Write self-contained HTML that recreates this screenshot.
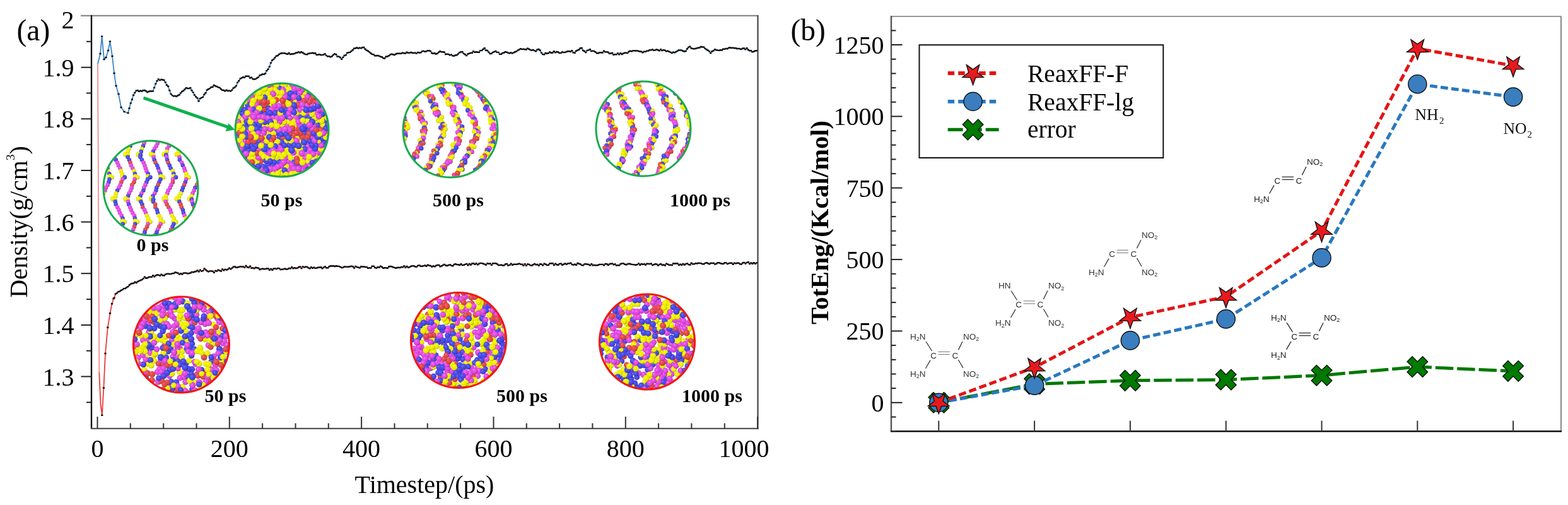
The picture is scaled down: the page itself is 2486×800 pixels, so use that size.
<!DOCTYPE html><html><head><meta charset="utf-8"><title>Density and TotEng</title>
<style>html,body{margin:0;padding:0;background:#fff;overflow:hidden}svg{display:block}</style></head><body>
<svg width="2486" height="800" viewBox="0 0 2486 800">
<rect width="100%" height="100%" fill="#fff"/>
<defs>
<radialGradient id="gy" cx="0.4" cy="0.38" r="0.62"><stop offset="0" stop-color="#ffff30"/><stop offset="0.45" stop-color="#ecec00"/><stop offset="0.8" stop-color="#ecec00"/><stop offset="1" stop-color="#9a9400"/></radialGradient>
<radialGradient id="gm" cx="0.4" cy="0.38" r="0.62"><stop offset="0" stop-color="#f878f8"/><stop offset="0.45" stop-color="#e048e0"/><stop offset="0.8" stop-color="#e048e0"/><stop offset="1" stop-color="#8a2488"/></radialGradient>
<radialGradient id="gb" cx="0.4" cy="0.38" r="0.62"><stop offset="0" stop-color="#7070ff"/><stop offset="0.45" stop-color="#4848e4"/><stop offset="0.8" stop-color="#4848e4"/><stop offset="1" stop-color="#24248a"/></radialGradient>
<radialGradient id="gr" cx="0.4" cy="0.38" r="0.62"><stop offset="0" stop-color="#f87070"/><stop offset="0.45" stop-color="#e04848"/><stop offset="0.8" stop-color="#e04848"/><stop offset="1" stop-color="#8a2424"/></radialGradient>
<clipPath id="kc0"><circle cx="239" cy="298" r="75"/></clipPath>
<clipPath id="kc1"><circle cx="447" cy="206" r="74"/></clipPath>
<clipPath id="kc2"><circle cx="714" cy="206" r="75"/></clipPath>
<clipPath id="kc3"><circle cx="1020" cy="204" r="75"/></clipPath>
<clipPath id="kc4"><circle cx="287.4" cy="546" r="76"/></clipPath>
<clipPath id="kc5"><circle cx="727" cy="539" r="75.5"/></clipPath>
<clipPath id="kc6"><circle cx="1026" cy="541.5" r="75.5"/></clipPath>
</defs>
<g>
<g stroke-linecap="butt">
<line x1="128" y1="24.8" x2="1202" y2="24.8" stroke="#8a8a8a" stroke-width="2.2"/>
<line x1="145" y1="24" x2="145" y2="679.5" stroke="#111" stroke-width="2.4"/>
<line x1="144" y1="678.8" x2="1202.5" y2="678.8" stroke="#555" stroke-width="2.2"/>
<line x1="1201.5" y1="24" x2="1201.5" y2="679.5" stroke="#444" stroke-width="2.2"/>
<line x1="137" y1="637.4" x2="145" y2="637.4" stroke="#222" stroke-width="2"/>
<line x1="128.5" y1="596.5" x2="145" y2="596.5" stroke="#222" stroke-width="2"/>
<line x1="137" y1="555.7" x2="145" y2="555.7" stroke="#222" stroke-width="2"/>
<line x1="128.5" y1="514.9" x2="145" y2="514.9" stroke="#222" stroke-width="2"/>
<line x1="137" y1="474.1" x2="145" y2="474.1" stroke="#222" stroke-width="2"/>
<line x1="128.5" y1="433.2" x2="145" y2="433.2" stroke="#222" stroke-width="2"/>
<line x1="137" y1="392.4" x2="145" y2="392.4" stroke="#222" stroke-width="2"/>
<line x1="128.5" y1="351.6" x2="145" y2="351.6" stroke="#222" stroke-width="2"/>
<line x1="137" y1="310.8" x2="145" y2="310.8" stroke="#222" stroke-width="2"/>
<line x1="128.5" y1="270" x2="145" y2="270" stroke="#222" stroke-width="2"/>
<line x1="137" y1="229.1" x2="145" y2="229.1" stroke="#222" stroke-width="2"/>
<line x1="128.5" y1="188.3" x2="145" y2="188.3" stroke="#222" stroke-width="2"/>
<line x1="137" y1="147.5" x2="145" y2="147.5" stroke="#222" stroke-width="2"/>
<line x1="128.5" y1="106.7" x2="145" y2="106.7" stroke="#222" stroke-width="2"/>
<line x1="137" y1="65.8" x2="145" y2="65.8" stroke="#222" stroke-width="2"/>
<line x1="154.5" y1="660" x2="154.5" y2="679" stroke="#333" stroke-width="2"/>
<line x1="206.8" y1="670.5" x2="206.8" y2="679" stroke="#333" stroke-width="2"/>
<line x1="259.2" y1="670.5" x2="259.2" y2="679" stroke="#333" stroke-width="2"/>
<line x1="311.5" y1="670.5" x2="311.5" y2="679" stroke="#333" stroke-width="2"/>
<line x1="363.8" y1="660" x2="363.8" y2="679" stroke="#333" stroke-width="2"/>
<line x1="416.1" y1="670.5" x2="416.1" y2="679" stroke="#333" stroke-width="2"/>
<line x1="468.5" y1="670.5" x2="468.5" y2="679" stroke="#333" stroke-width="2"/>
<line x1="520.8" y1="670.5" x2="520.8" y2="679" stroke="#333" stroke-width="2"/>
<line x1="573.1" y1="660" x2="573.1" y2="679" stroke="#333" stroke-width="2"/>
<line x1="625.5" y1="670.5" x2="625.5" y2="679" stroke="#333" stroke-width="2"/>
<line x1="677.8" y1="670.5" x2="677.8" y2="679" stroke="#333" stroke-width="2"/>
<line x1="730.1" y1="670.5" x2="730.1" y2="679" stroke="#333" stroke-width="2"/>
<line x1="782.5" y1="660" x2="782.5" y2="679" stroke="#333" stroke-width="2"/>
<line x1="834.8" y1="670.5" x2="834.8" y2="679" stroke="#333" stroke-width="2"/>
<line x1="887.1" y1="670.5" x2="887.1" y2="679" stroke="#333" stroke-width="2"/>
<line x1="939.4" y1="670.5" x2="939.4" y2="679" stroke="#333" stroke-width="2"/>
<line x1="991.8" y1="660" x2="991.8" y2="679" stroke="#333" stroke-width="2"/>
<line x1="1044.1" y1="670.5" x2="1044.1" y2="679" stroke="#333" stroke-width="2"/>
<line x1="1096.4" y1="670.5" x2="1096.4" y2="679" stroke="#333" stroke-width="2"/>
<line x1="1148.8" y1="670.5" x2="1148.8" y2="679" stroke="#333" stroke-width="2"/>
<line x1="1201.1" y1="660" x2="1201.1" y2="679" stroke="#333" stroke-width="2"/>
</g>
<g font-family="Liberation Serif, Times New Roman, serif" font-size="40" fill="#000" text-anchor="end">
<text x="117.5" y="610.5">1.3</text>
<text x="117.5" y="528.9">1.4</text>
<text x="117.5" y="447.2">1.5</text>
<text x="117.5" y="365.6">1.6</text>
<text x="117.5" y="284">1.7</text>
<text x="117.5" y="202.3">1.8</text>
<text x="117.5" y="120.7">1.9</text>
<text x="117.5" y="45">2</text>
</g>
<g font-family="Liberation Serif, Times New Roman, serif" font-size="40" fill="#000" text-anchor="middle">
<text x="154.5" y="724">0</text>
<text x="363.8" y="724">200</text>
<text x="573.1" y="724">400</text>
<text x="782.5" y="724">600</text>
<text x="991.8" y="724">800</text>
<text x="1179.5" y="724">1000</text>
<text x="673" y="781.3">Timestep/(ps)</text>
<text transform="translate(43,351.5) rotate(-90)">Density(g/cm<tspan font-size="19" dy="-20">3</tspan><tspan dy="20">)</tspan></text>
</g>
<text x="26.5" y="64" font-family="Liberation Serif, Times New Roman, serif" font-size="47.5">(a)</text>
<polyline points="155,101 159,85 161.6,57.6 165,94 168,91 171.6,80 174.4,65.6 178,89 181,116 184,136 188,149 192,170 197,177 203,179 205,171.5 207.2,163.4 209.4,157.5 211.6,150.8 213.8,146.9 216,143.8 218.2,143.3 220.4,144.8 222.6,143.7 224.8,144.5 227,143.3 229.2,143 231.4,144.3 233.6,146 235.8,145 238,144.4 240.2,144.5 242.4,144.4 244.6,138.9 246.8,132.6 249,128.2 251.2,125.4 253.4,127.1 255.6,126 257.8,126.3 260,127 262.2,130.4 264.4,134.7 266.6,136.7 268.8,143.2 271,148.9 273.2,151.1 275.4,152.4 277.6,152 279.8,152.8 282,151.2 284.2,150.3 286.4,147.4 288.6,145 290.8,143.8 293,141.5 295.2,139.2 297.4,140 299.6,140.1 301.8,139.3 304,143.2 306.2,146.4 308.4,150.5 310.6,153.3 312.8,155.3 315,160.2 317.2,156.1 319.4,154.9 321.6,153.9 323.8,149.8 326,147.3 328.2,142.6 330.4,141.2 332.6,140.1 334.8,138.3 337,137.8 339.2,135 341.4,136.2 343.6,137 345.8,138.1 348,138.9 350.2,141 352.4,142.8 354.6,143 356.8,144.3 359,142.6 361.2,144 363.4,143.6 365.6,144.3 367.8,142.6 370,139.6 372.2,138.3 374.4,136 376.6,130.6 378.8,128 381,124.6 383.2,123.4 385.4,122.2 387.6,122.9 389.8,120.7 392,120.7 394.2,120.8 396.4,123.5 398.6,122.8 400.8,125.1 403,125.5 405.2,125.1 407.4,123.6 409.6,122.4 411.8,119.5 414,118.8 416.2,117.5 418.4,117.8 420.6,116.5 422.8,112.1 425,109.7 427.2,105.6 429.4,99.6 431.6,95.5 433.8,93.9 436,91.2 438.2,88.7 440.4,88 442.6,86 444.8,84.7 447,84.3 449.2,84.1 451.4,84.3 453.6,85.1 455.8,85.8 458,84 460.2,86 462.4,85.5 464.6,85.5 466.8,85 469,83.7 471.2,83.5 473.4,82.4 475.6,83.5 477.8,82.3 480,83.5 482.2,85 484.4,86.1 486.6,86.2 488.8,85 491,84.4 493.2,84.4 495.4,83.8 497.6,84.5 499.8,84.2 502,86.9 504.2,86.8 506.4,86.1 508.6,87 510.8,87.1 513,86.5 515.2,85.4 517.4,87.9 519.6,89.4 521.8,89.1 524,90.2 526.2,89.2 528.4,87 530.6,85.4 532.8,86.3 535,89.5 537.2,89.6 539.4,91 541.6,93.9 543.8,90.9 546,88 548.2,87.2 550.4,83.9 552.6,83.3 554.8,82.9 557,81.1 559.2,79.2 561.4,76.7 563.6,76.5 565.8,75.5 568,76.6 570.2,75.8 572.4,76.4 574.6,75.3 576.8,75 579,77.8 581.2,79.7 583.4,80.7 585.6,82.4 587.8,84.3 590,85.9 592.2,86.4 594.4,88.2 596.6,88.3 598.8,88 601,88.6 603.2,89.8 605.4,90.3 607.6,92 609.8,92.5 612,89.7 614.2,89.5 616.4,88.2 618.6,86.7 620.8,85.8 623,86.3 625.2,87 627.4,85.8 629.6,84.7 631.8,84.7 634,84.8 636.2,84.7 638.4,83.7 640.6,84.2 642.8,84.6 645,82.7 647.2,83.8 649.4,83.6 651.6,83 653.8,83.8 656,84 658.2,83.6 660.4,84.6 662.6,82.9 664.8,83.5 667,83.4 669.2,81.4 671.4,80.9 673.6,81.8 675.8,81.4 678,80.2 680.2,80.3 682.4,80.9 684.6,84 686.8,84.8 689,84.2 691.2,85.5 693.4,84.8 695.6,82.8 697.8,81.1 700,82.4 702.2,82.2 704.4,82.8 706.6,86 708.8,85.7 711,85.9 713.2,87.4 715.4,86.6 717.6,88.3 719.8,88.6 722,87.5 724.2,87.2 726.4,85.4 728.6,83.2 730.8,82.2 733,82.3 735.2,84.9 737.4,86.3 739.6,88.1 741.8,85.5 744,84.7 746.2,83.9 748.4,83.7 750.6,81.3 752.8,82.9 755,82.2 757.2,82.8 759.4,82.7 761.6,80.1 763.8,80 766,78 768.2,76.3 770.4,79.8 772.6,80 774.8,82.6 777,85.1 779.2,84.8 781.4,82.9 783.6,82.1 785.8,80.9 788,82.9 790.2,82.9 792.4,85.9 794.6,85.8 796.8,84.1 799,83.5 801.2,82.2 803.4,82.7 805.6,83.6 807.8,84.4 810,83.5 812.2,84.4 814.4,83.4 816.6,82.2 818.8,81.4 821,79.6 823.2,78.6 825.4,77.2 827.6,78.1 829.8,77.6 832,78.2 834.2,78.5 836.4,76.8 838.6,77.7 840.8,78.9 843,79.7 845.2,79 847.4,80.1 849.6,81.2 851.8,78.7 854,78 856.2,79.8 858.4,83.6 860.6,86.1 862.8,86.4 865,84 867.2,84.9 869.4,84.2 871.6,82.4 873.8,83.8 876,83.5 878.2,81.1 880.4,83.2 882.6,82 884.8,82.5 887,84 889.2,83.9 891.4,82.4 893.6,83.1 895.8,82.9 898,82 900.2,81.3 902.4,81.2 904.6,81.8 906.8,80.3 909,83.2 911.2,83.7 913.4,80.8 915.6,79.7 917.8,78.7 920,76.5 922.2,76 924.4,80 926.6,81 928.8,83 931,79.9 933.2,79.4 935.4,78.3 937.6,81 939.8,80.6 942,81.1 944.2,82.5 946.4,84.2 948.6,84.3 950.8,83.2 953,83.3 955.2,83.5 957.4,80.8 959.6,82.2 961.8,82.4 964,82.7 966.2,84.8 968.4,84.5 970.6,84 972.8,86.7 975,86.1 977.2,86.4 979.4,84.4 981.6,86.3 983.8,84.1 986,86 988.2,84.7 990.4,83.8 992.6,83.7 994.8,84.1 997,81.8 999.2,80.8 1001.4,81.2 1003.6,80.4 1005.8,80.3 1008,80.5 1010.2,80.4 1012.4,81 1014.6,81.5 1016.8,81.7 1019,83.2 1021.2,81.8 1023.4,81.9 1025.6,80.6 1027.8,80.6 1030,79.3 1032.2,79.4 1034.4,78.4 1036.6,79.9 1038.8,79.4 1041,78.5 1043.2,79.2 1045.4,80.4 1047.6,78.3 1049.8,80.1 1052,79.1 1054.2,79.8 1056.4,81.3 1058.6,80.7 1060.8,81.7 1063,82.8 1065.2,84.1 1067.4,82.8 1069.6,83.2 1071.8,82 1074,80.9 1076.2,79.4 1078.4,79.5 1080.6,79.6 1082.8,80.7 1085,81.5 1087.2,81 1089.4,77.5 1091.6,75 1093.8,73.6 1096,76.3 1098.2,77.1 1100.4,77.3 1102.6,77 1104.8,76.4 1107,75.8 1109.2,75.5 1111.4,74 1113.6,74.5 1115.8,74.6 1118,76.9 1120.2,78.5 1122.4,79.8 1124.6,81.4 1126.8,84.1 1129,81.3 1131.2,80.3 1133.4,78.3 1135.6,79.2 1137.8,79.6 1140,79.9 1142.2,79.3 1144.4,79.5 1146.6,77.7 1148.8,77.9 1151,76.9 1153.2,77.2 1155.4,75.8 1157.6,75.5 1159.8,76 1162,75.6 1164.2,76.3 1166.4,76.2 1168.6,77 1170.8,77 1173,77.4 1175.2,78 1177.4,76.7 1179.6,76.5 1181.8,78.3 1184,76.1 1186.2,78.8 1188.4,80.3 1190.6,80.3 1192.8,82.2 1195,81.8 1197.2,80.5 1199.4,80.3" fill="none" stroke="#3a86c8" stroke-width="1.8" stroke-linejoin="round"/>
<polyline points="157.3,590 159.5,640 161.8,657.7 164.4,614.5 167,560 170.8,518.8 174.5,496.3 177.5,481.3 180,473 181,472 183.2,465.6 185.4,464.4 187.6,462.1 189.8,461.6 192,460 194.2,458.9 196.4,457.1 198.6,457 200.8,455.2 203,454.1 205.2,451.5 207.4,449.8 209.6,449 211.8,448.7 214,446.7 216.2,448 218.4,446 220.6,445.1 222.8,444 225,443.1 227.2,441.4 229.4,438.7 231.6,440.7 233.8,440.2 236,439 238.2,438.8 240.4,438.8 242.6,436.5 244.8,438.3 247,436.4 249.2,435.5 251.4,435.7 253.6,436.9 255.8,434.8 258,436.2 260.2,436.5 262.4,434.6 264.6,433.9 266.8,433.8 269,434.1 271.2,434 273.4,433.1 275.6,433 277.8,431.5 280,432 282.2,432.6 284.4,434.5 286.6,433.3 288.8,434.5 291,432.6 293.2,432.4 295.4,432.6 297.6,433.4 299.8,433 302,432.5 304.2,430.9 306.4,431.2 308.6,430.5 310.8,430 313,428.4 315.2,430.3 317.4,427.6 319.6,429.6 321.8,428.9 324,425.5 326.2,427.5 328.4,429.3 330.6,430.4 332.8,429.4 335,429.4 337.2,429.7 339.4,431.7 341.6,428.9 343.8,429.6 346,427.8 348.2,428.6 350.4,429.5 352.6,426.5 354.8,428.3 357,426.8 359.2,427.6 361.4,426.6 363.6,424.6 365.8,426.4 368,424.6 370.2,422.7 372.4,422.4 374.6,423.8 376.8,423.5 379,422.9 381.2,422.2 383.4,422.6 385.6,422.4 387.8,423.9 390,421 392.2,423.2 394.4,423.8 396.6,421.8 398.8,424.7 401,424.4 403.2,425.4 405.4,423.7 407.6,424.3 409.8,424.8 412,427 414.2,426.1 416.4,425.7 418.6,426.2 420.8,426.1 423,425.5 425.2,425.5 427.4,427.8 429.6,425.9 431.8,427.8 434,425.5 436.2,425.4 438.4,426.1 440.6,424.9 442.8,425.4 445,427.1 447.2,426.7 449.4,426.4 451.6,425.7 453.8,426.5 456,426.4 458.2,425 460.4,425.4 462.6,423.2 464.8,425.2 467,424.2 469.2,425 471.4,424.6 473.6,423.3 475.8,422.4 478,425.1 480.2,422.4 482.4,423.4 484.6,422.8 486.8,422.8 489,424.4 491.2,425.4 493.4,423.3 495.6,424.8 497.8,423.8 500,424.9 502.2,424.5 504.4,423.8 506.6,423.5 508.8,423.3 511,425.2 513.2,423.6 515.4,422.4 517.6,424.3 519.8,424.3 522,422.2 524.2,421.3 526.4,421.5 528.6,421.2 530.8,422 533,421.3 535.2,421.8 537.4,421.9 539.6,422.9 541.8,424 544,423.6 546.2,422.5 548.4,422.6 550.6,422.9 552.8,422.5 555,422.4 557.2,421.6 559.4,422.3 561.6,424.5 563.8,421.9 566,423.1 568.2,423.6 570.4,424.3 572.6,422.3 574.8,422.5 577,422.5 579.2,423 581.4,423.1 583.6,424.8 585.8,424.4 588,424.5 590.2,421.8 592.4,421.8 594.6,424 596.8,424.6 599,423.2 601.2,423.6 603.4,421.7 605.6,423 607.8,424.7 610,424.3 612.2,424.4 614.4,424.8 616.6,422.5 618.8,422 621,422.2 623.2,423.4 625.4,423.9 627.6,424.7 629.8,424 632,423.8 634.2,424.1 636.4,423 638.6,423.2 640.8,421.4 643,423.7 645.2,421.9 647.4,423.9 649.6,423 651.8,421.8 654,421.1 656.2,421.4 658.4,422.5 660.6,422.6 662.8,420.6 665,420.4 667.2,421.7 669.4,421.8 671.6,421.1 673.8,420.5 676,421.7 678.2,419.7 680.4,420.6 682.6,421 684.8,422.6 687,421.5 689.2,422.2 691.4,420.8 693.6,420 695.8,420 698,422.2 700.2,421.3 702.4,420 704.6,419 706.8,420.5 709,421 711.2,420 713.4,419.4 715.6,420.6 717.8,421.3 720,419 722.2,418.2 724.4,419.1 726.6,419.2 728.8,420 731,418.3 733.2,420.1 735.4,419.8 737.6,418.9 739.8,417.9 742,420.2 744.2,418 746.4,419.5 748.6,417.5 750.8,417.3 753,418.9 755.2,417.3 757.4,419.3 759.6,417.8 761.8,416.9 764,417.1 766.2,417.7 768.4,418.6 770.6,419.6 772.8,417.1 775,417.9 777.2,417.4 779.4,419.9 781.6,417.3 783.8,417.1 786,417.2 788.2,418.3 790.4,420 792.6,420 794.8,419.6 797,420.5 799.2,420.4 801.4,418.5 803.6,418 805.8,420.5 808,419.9 810.2,417.6 812.4,419.7 814.6,418.8 816.8,418.8 819,418.7 821.2,418.2 823.4,417.6 825.6,418.6 827.8,418.8 830,420.8 832.2,418.1 834.4,420.8 836.6,418.4 838.8,418.9 841,420.4 843.2,420.5 845.4,419.2 847.6,418 849.8,419.4 852,419 854.2,420.7 856.4,418.3 858.6,418.8 860.8,420.4 863,417.6 865.2,418.8 867.4,420 869.6,419.8 871.8,417.4 874,417.3 876.2,417.3 878.4,420 880.6,417.8 882.8,419.3 885,419.7 887.2,417.9 889.4,417.6 891.6,419.7 893.8,418.6 896,417.4 898.2,418.7 900.4,417.4 902.6,417.4 904.8,416.6 907,419 909.2,419.6 911.4,418.8 913.6,419.8 915.8,417 918,417.7 920.2,418.5 922.4,420.1 924.6,420.2 926.8,418.4 929,418.1 931.2,418.7 933.4,419 935.6,420.4 937.8,418.1 940,420.2 942.2,420 944.4,420.4 946.6,420.3 948.8,419.8 951,418.9 953.2,418.9 955.4,418.9 957.6,420.3 959.8,418 962,418.3 964.2,420 966.4,418.4 968.6,417.7 970.8,417.6 973,419.2 975.2,418.4 977.4,420.5 979.6,420.1 981.8,420.4 984,418.1 986.2,417.4 988.4,417.4 990.6,418.7 992.8,419.3 995,418.4 997.2,417.7 999.4,418.2 1001.6,418.9 1003.8,419.1 1006,419.4 1008.2,419.7 1010.4,419.1 1012.6,417.4 1014.8,419.7 1017,418 1019.2,418.9 1021.4,418.3 1023.6,419.5 1025.8,417.8 1028,418 1030.2,418 1032.4,417.7 1034.6,420.1 1036.8,419.1 1039,418.3 1041.2,418.6 1043.4,420.5 1045.6,419 1047.8,418.1 1050,420 1052.2,419.4 1054.4,420.5 1056.6,417.6 1058.8,418.7 1061,419.8 1063.2,419.8 1065.4,420 1067.6,417.2 1069.8,417.9 1072,417.3 1074.2,417.5 1076.4,420 1078.6,418.7 1080.8,419.8 1083,417.9 1085.2,419.5 1087.4,418.1 1089.6,417.4 1091.8,419.1 1094,419.5 1096.2,416.8 1098.4,418.3 1100.6,418.4 1102.8,417.1 1105,417.5 1107.2,416.8 1109.4,417 1111.6,417.1 1113.8,418.2 1116,418.3 1118.2,416.9 1120.4,416.2 1122.6,417.2 1124.8,418.3 1127,416.7 1129.2,417.1 1131.4,416.7 1133.6,418.6 1135.8,417.8 1138,416.2 1140.2,416.3 1142.4,417.2 1144.6,417.7 1146.8,418 1149,416.2 1151.2,416.4 1153.4,418.1 1155.6,417.1 1157.8,416.7 1160,416.7 1162.2,418.7 1164.4,416.6 1166.6,417.4 1168.8,416.7 1171,416.8 1173.2,418.2 1175.4,418.6 1177.6,416.5 1179.8,415.9 1182,417.6 1184.2,415.9 1186.4,415.2 1188.6,418 1190.8,416.4 1193,417.7 1195.2,416.3 1197.4,417.8 1199.6,416.4" fill="none" stroke="#ee3a3a" stroke-width="1.8" stroke-linejoin="round"/>
<line x1="155" y1="101" x2="157.3" y2="590" stroke="#f07a7a" stroke-width="1.5"/>
<path d="M157.4,85h3.2M160,57.6h3.2M163.4,94h3.2M166.4,91h3.2M170,80h3.2M172.8,65.6h3.2M176.4,89h3.2M179.4,116h3.2M182.4,136h3.2M186.4,149h3.2M190.4,170h3.2M195.4,177h3.2M201.4,179h3.2M203.4,171.5h3.2M205.6,163.4h3.2M207.8,157.5h3.2M210,150.8h3.2M212.2,146.9h3.2M214.4,143.8h3.2M216.6,143.3h3.2M218.8,144.8h3.2M221,143.7h3.2M223.2,144.5h3.2M225.4,143.3h3.2M227.6,143h3.2M229.8,144.3h3.2M232,146h3.2M234.2,145h3.2M236.4,144.4h3.2M238.6,144.5h3.2M240.8,144.4h3.2M243,138.9h3.2M245.2,132.6h3.2M247.4,128.2h3.2M249.6,125.4h3.2M251.8,127.1h3.2M254,126h3.2M256.2,126.3h3.2M258.4,127h3.2M260.6,130.4h3.2M262.8,134.7h3.2M265,136.7h3.2M267.2,143.2h3.2M269.4,148.9h3.2M271.6,151.1h3.2M273.8,152.4h3.2M276,152h3.2M278.2,152.8h3.2M280.4,151.2h3.2M282.6,150.3h3.2M284.8,147.4h3.2M287,145h3.2M289.2,143.8h3.2M291.4,141.5h3.2M293.6,139.2h3.2M295.8,140h3.2M298,140.1h3.2M300.2,139.3h3.2M302.4,143.2h3.2M304.6,146.4h3.2M306.8,150.5h3.2M309,153.3h3.2M311.2,155.3h3.2M313.4,160.2h3.2M315.6,156.1h3.2M317.8,154.9h3.2M320,153.9h3.2M322.2,149.8h3.2M324.4,147.3h3.2M326.6,142.6h3.2M328.8,141.2h3.2M331,140.1h3.2M333.2,138.3h3.2M335.4,137.8h3.2M337.6,135h3.2M339.8,136.2h3.2M342,137h3.2M344.2,138.1h3.2M346.4,138.9h3.2M348.6,141h3.2M350.8,142.8h3.2M353,143h3.2M355.2,144.3h3.2M357.4,142.6h3.2M359.6,144h3.2M361.8,143.6h3.2M364,144.3h3.2M366.2,142.6h3.2M368.4,139.6h3.2M370.6,138.3h3.2M372.8,136h3.2M375,130.6h3.2M377.2,128h3.2M379.4,124.6h3.2M381.6,123.4h3.2M383.8,122.2h3.2M386,122.9h3.2M388.2,120.7h3.2M390.4,120.7h3.2M392.6,120.8h3.2M394.8,123.5h3.2M397,122.8h3.2M399.2,125.1h3.2M401.4,125.5h3.2M403.6,125.1h3.2M405.8,123.6h3.2M408,122.4h3.2M410.2,119.5h3.2M412.4,118.8h3.2M414.6,117.5h3.2M416.8,117.8h3.2M419,116.5h3.2M421.2,112.1h3.2M423.4,109.7h3.2M425.6,105.6h3.2M427.8,99.6h3.2M430,95.5h3.2M432.2,93.9h3.2M434.4,91.2h3.2M436.6,88.7h3.2M438.8,88h3.2M441,86h3.2M443.2,84.7h3.2M445.4,84.3h3.2M447.6,84.1h3.2M449.8,84.3h3.2M452,85.1h3.2M454.2,85.8h3.2M456.4,84h3.2M458.6,86h3.2M460.8,85.5h3.2M463,85.5h3.2M465.2,85h3.2M467.4,83.7h3.2M469.6,83.5h3.2M471.8,82.4h3.2M474,83.5h3.2M476.2,82.3h3.2M478.4,83.5h3.2M480.6,85h3.2M482.8,86.1h3.2M485,86.2h3.2M487.2,85h3.2M489.4,84.4h3.2M491.6,84.4h3.2M493.8,83.8h3.2M496,84.5h3.2M498.2,84.2h3.2M500.4,86.9h3.2M502.6,86.8h3.2M504.8,86.1h3.2M507,87h3.2M509.2,87.1h3.2M511.4,86.5h3.2M513.6,85.4h3.2M515.8,87.9h3.2M518,89.4h3.2M520.2,89.1h3.2M522.4,90.2h3.2M524.6,89.2h3.2M526.8,87h3.2M529,85.4h3.2M531.2,86.3h3.2M533.4,89.5h3.2M535.6,89.6h3.2M537.8,91h3.2M540,93.9h3.2M542.2,90.9h3.2M544.4,88h3.2M546.6,87.2h3.2M548.8,83.9h3.2M551,83.3h3.2M553.2,82.9h3.2M555.4,81.1h3.2M557.6,79.2h3.2M559.8,76.7h3.2M562,76.5h3.2M564.2,75.5h3.2M566.4,76.6h3.2M568.6,75.8h3.2M570.8,76.4h3.2M573,75.3h3.2M575.2,75h3.2M577.4,77.8h3.2M579.6,79.7h3.2M581.8,80.7h3.2M584,82.4h3.2M586.2,84.3h3.2M588.4,85.9h3.2M590.6,86.4h3.2M592.8,88.2h3.2M595,88.3h3.2M597.2,88h3.2M599.4,88.6h3.2M601.6,89.8h3.2M603.8,90.3h3.2M606,92h3.2M608.2,92.5h3.2M610.4,89.7h3.2M612.6,89.5h3.2M614.8,88.2h3.2M617,86.7h3.2M619.2,85.8h3.2M621.4,86.3h3.2M623.6,87h3.2M625.8,85.8h3.2M628,84.7h3.2M630.2,84.7h3.2M632.4,84.8h3.2M634.6,84.7h3.2M636.8,83.7h3.2M639,84.2h3.2M641.2,84.6h3.2M643.4,82.7h3.2M645.6,83.8h3.2M647.8,83.6h3.2M650,83h3.2M652.2,83.8h3.2M654.4,84h3.2M656.6,83.6h3.2M658.8,84.6h3.2M661,82.9h3.2M663.2,83.5h3.2M665.4,83.4h3.2M667.6,81.4h3.2M669.8,80.9h3.2M672,81.8h3.2M674.2,81.4h3.2M676.4,80.2h3.2M678.6,80.3h3.2M680.8,80.9h3.2M683,84h3.2M685.2,84.8h3.2M687.4,84.2h3.2M689.6,85.5h3.2M691.8,84.8h3.2M694,82.8h3.2M696.2,81.1h3.2M698.4,82.4h3.2M700.6,82.2h3.2M702.8,82.8h3.2M705,86h3.2M707.2,85.7h3.2M709.4,85.9h3.2M711.6,87.4h3.2M713.8,86.6h3.2M716,88.3h3.2M718.2,88.6h3.2M720.4,87.5h3.2M722.6,87.2h3.2M724.8,85.4h3.2M727,83.2h3.2M729.2,82.2h3.2M731.4,82.3h3.2M733.6,84.9h3.2M735.8,86.3h3.2M738,88.1h3.2M740.2,85.5h3.2M742.4,84.7h3.2M744.6,83.9h3.2M746.8,83.7h3.2M749,81.3h3.2M751.2,82.9h3.2M753.4,82.2h3.2M755.6,82.8h3.2M757.8,82.7h3.2M760,80.1h3.2M762.2,80h3.2M764.4,78h3.2M766.6,76.3h3.2M768.8,79.8h3.2M771,80h3.2M773.2,82.6h3.2M775.4,85.1h3.2M777.6,84.8h3.2M779.8,82.9h3.2M782,82.1h3.2M784.2,80.9h3.2M786.4,82.9h3.2M788.6,82.9h3.2M790.8,85.9h3.2M793,85.8h3.2M795.2,84.1h3.2M797.4,83.5h3.2M799.6,82.2h3.2M801.8,82.7h3.2M804,83.6h3.2M806.2,84.4h3.2M808.4,83.5h3.2M810.6,84.4h3.2M812.8,83.4h3.2M815,82.2h3.2M817.2,81.4h3.2M819.4,79.6h3.2M821.6,78.6h3.2M823.8,77.2h3.2M826,78.1h3.2M828.2,77.6h3.2M830.4,78.2h3.2M832.6,78.5h3.2M834.8,76.8h3.2M837,77.7h3.2M839.2,78.9h3.2M841.4,79.7h3.2M843.6,79h3.2M845.8,80.1h3.2M848,81.2h3.2M850.2,78.7h3.2M852.4,78h3.2M854.6,79.8h3.2M856.8,83.6h3.2M859,86.1h3.2M861.2,86.4h3.2M863.4,84h3.2M865.6,84.9h3.2M867.8,84.2h3.2M870,82.4h3.2M872.2,83.8h3.2M874.4,83.5h3.2M876.6,81.1h3.2M878.8,83.2h3.2M881,82h3.2M883.2,82.5h3.2M885.4,84h3.2M887.6,83.9h3.2M889.8,82.4h3.2M892,83.1h3.2M894.2,82.9h3.2M896.4,82h3.2M898.6,81.3h3.2M900.8,81.2h3.2M903,81.8h3.2M905.2,80.3h3.2M907.4,83.2h3.2M909.6,83.7h3.2M911.8,80.8h3.2M914,79.7h3.2M916.2,78.7h3.2M918.4,76.5h3.2M920.6,76h3.2M922.8,80h3.2M925,81h3.2M927.2,83h3.2M929.4,79.9h3.2M931.6,79.4h3.2M933.8,78.3h3.2M936,81h3.2M938.2,80.6h3.2M940.4,81.1h3.2M942.6,82.5h3.2M944.8,84.2h3.2M947,84.3h3.2M949.2,83.2h3.2M951.4,83.3h3.2M953.6,83.5h3.2M955.8,80.8h3.2M958,82.2h3.2M960.2,82.4h3.2M962.4,82.7h3.2M964.6,84.8h3.2M966.8,84.5h3.2M969,84h3.2M971.2,86.7h3.2M973.4,86.1h3.2M975.6,86.4h3.2M977.8,84.4h3.2M980,86.3h3.2M982.2,84.1h3.2M984.4,86h3.2M986.6,84.7h3.2M988.8,83.8h3.2M991,83.7h3.2M993.2,84.1h3.2M995.4,81.8h3.2M997.6,80.8h3.2M999.8,81.2h3.2M1002,80.4h3.2M1004.2,80.3h3.2M1006.4,80.5h3.2M1008.6,80.4h3.2M1010.8,81h3.2M1013,81.5h3.2M1015.2,81.7h3.2M1017.4,83.2h3.2M1019.6,81.8h3.2M1021.8,81.9h3.2M1024,80.6h3.2M1026.2,80.6h3.2M1028.4,79.3h3.2M1030.6,79.4h3.2M1032.8,78.4h3.2M1035,79.9h3.2M1037.2,79.4h3.2M1039.4,78.5h3.2M1041.6,79.2h3.2M1043.8,80.4h3.2M1046,78.3h3.2M1048.2,80.1h3.2M1050.4,79.1h3.2M1052.6,79.8h3.2M1054.8,81.3h3.2M1057,80.7h3.2M1059.2,81.7h3.2M1061.4,82.8h3.2M1063.6,84.1h3.2M1065.8,82.8h3.2M1068,83.2h3.2M1070.2,82h3.2M1072.4,80.9h3.2M1074.6,79.4h3.2M1076.8,79.5h3.2M1079,79.6h3.2M1081.2,80.7h3.2M1083.4,81.5h3.2M1085.6,81h3.2M1087.8,77.5h3.2M1090,75h3.2M1092.2,73.6h3.2M1094.4,76.3h3.2M1096.6,77.1h3.2M1098.8,77.3h3.2M1101,77h3.2M1103.2,76.4h3.2M1105.4,75.8h3.2M1107.6,75.5h3.2M1109.8,74h3.2M1112,74.5h3.2M1114.2,74.6h3.2M1116.4,76.9h3.2M1118.6,78.5h3.2M1120.8,79.8h3.2M1123,81.4h3.2M1125.2,84.1h3.2M1127.4,81.3h3.2M1129.6,80.3h3.2M1131.8,78.3h3.2M1134,79.2h3.2M1136.2,79.6h3.2M1138.4,79.9h3.2M1140.6,79.3h3.2M1142.8,79.5h3.2M1145,77.7h3.2M1147.2,77.9h3.2M1149.4,76.9h3.2M1151.6,77.2h3.2M1153.8,75.8h3.2M1156,75.5h3.2M1158.2,76h3.2M1160.4,75.6h3.2M1162.6,76.3h3.2M1164.8,76.2h3.2M1167,77h3.2M1169.2,77h3.2M1171.4,77.4h3.2M1173.6,78h3.2M1175.8,76.7h3.2M1178,76.5h3.2M1180.2,78.3h3.2M1182.4,76.1h3.2M1184.6,78.8h3.2M1186.8,80.3h3.2M1189,80.3h3.2M1191.2,82.2h3.2M1193.4,81.8h3.2M1195.6,80.5h3.2M1197.8,80.3h3.2" stroke="#111" stroke-width="2.4" fill="none"/>
<path d="M160.2,657.7h3.2M162.8,614.5h3.2M165.4,560h3.2M169.2,518.8h3.2M172.9,496.3h3.2M175.9,481.3h3.2M178.4,473h3.2M179.4,472h3.2M181.6,465.6h3.2M183.8,464.4h3.2M186,462.1h3.2M188.2,461.6h3.2M190.4,460h3.2M192.6,458.9h3.2M194.8,457.1h3.2M197,457h3.2M199.2,455.2h3.2M201.4,454.1h3.2M203.6,451.5h3.2M205.8,449.8h3.2M208,449h3.2M210.2,448.7h3.2M212.4,446.7h3.2M214.6,448h3.2M216.8,446h3.2M219,445.1h3.2M221.2,444h3.2M223.4,443.1h3.2M225.6,441.4h3.2M227.8,438.7h3.2M230,440.7h3.2M232.2,440.2h3.2M234.4,439h3.2M236.6,438.8h3.2M238.8,438.8h3.2M241,436.5h3.2M243.2,438.3h3.2M245.4,436.4h3.2M247.6,435.5h3.2M249.8,435.7h3.2M252,436.9h3.2M254.2,434.8h3.2M256.4,436.2h3.2M258.6,436.5h3.2M260.8,434.6h3.2M263,433.9h3.2M265.2,433.8h3.2M267.4,434.1h3.2M269.6,434h3.2M271.8,433.1h3.2M274,433h3.2M276.2,431.5h3.2M278.4,432h3.2M280.6,432.6h3.2M282.8,434.5h3.2M285,433.3h3.2M287.2,434.5h3.2M289.4,432.6h3.2M291.6,432.4h3.2M293.8,432.6h3.2M296,433.4h3.2M298.2,433h3.2M300.4,432.5h3.2M302.6,430.9h3.2M304.8,431.2h3.2M307,430.5h3.2M309.2,430h3.2M311.4,428.4h3.2M313.6,430.3h3.2M315.8,427.6h3.2M318,429.6h3.2M320.2,428.9h3.2M322.4,425.5h3.2M324.6,427.5h3.2M326.8,429.3h3.2M329,430.4h3.2M331.2,429.4h3.2M333.4,429.4h3.2M335.6,429.7h3.2M337.8,431.7h3.2M340,428.9h3.2M342.2,429.6h3.2M344.4,427.8h3.2M346.6,428.6h3.2M348.8,429.5h3.2M351,426.5h3.2M353.2,428.3h3.2M355.4,426.8h3.2M357.6,427.6h3.2M359.8,426.6h3.2M362,424.6h3.2M364.2,426.4h3.2M366.4,424.6h3.2M368.6,422.7h3.2M370.8,422.4h3.2M373,423.8h3.2M375.2,423.5h3.2M377.4,422.9h3.2M379.6,422.2h3.2M381.8,422.6h3.2M384,422.4h3.2M386.2,423.9h3.2M388.4,421h3.2M390.6,423.2h3.2M392.8,423.8h3.2M395,421.8h3.2M397.2,424.7h3.2M399.4,424.4h3.2M401.6,425.4h3.2M403.8,423.7h3.2M406,424.3h3.2M408.2,424.8h3.2M410.4,427h3.2M412.6,426.1h3.2M414.8,425.7h3.2M417,426.2h3.2M419.2,426.1h3.2M421.4,425.5h3.2M423.6,425.5h3.2M425.8,427.8h3.2M428,425.9h3.2M430.2,427.8h3.2M432.4,425.5h3.2M434.6,425.4h3.2M436.8,426.1h3.2M439,424.9h3.2M441.2,425.4h3.2M443.4,427.1h3.2M445.6,426.7h3.2M447.8,426.4h3.2M450,425.7h3.2M452.2,426.5h3.2M454.4,426.4h3.2M456.6,425h3.2M458.8,425.4h3.2M461,423.2h3.2M463.2,425.2h3.2M465.4,424.2h3.2M467.6,425h3.2M469.8,424.6h3.2M472,423.3h3.2M474.2,422.4h3.2M476.4,425.1h3.2M478.6,422.4h3.2M480.8,423.4h3.2M483,422.8h3.2M485.2,422.8h3.2M487.4,424.4h3.2M489.6,425.4h3.2M491.8,423.3h3.2M494,424.8h3.2M496.2,423.8h3.2M498.4,424.9h3.2M500.6,424.5h3.2M502.8,423.8h3.2M505,423.5h3.2M507.2,423.3h3.2M509.4,425.2h3.2M511.6,423.6h3.2M513.8,422.4h3.2M516,424.3h3.2M518.2,424.3h3.2M520.4,422.2h3.2M522.6,421.3h3.2M524.8,421.5h3.2M527,421.2h3.2M529.2,422h3.2M531.4,421.3h3.2M533.6,421.8h3.2M535.8,421.9h3.2M538,422.9h3.2M540.2,424h3.2M542.4,423.6h3.2M544.6,422.5h3.2M546.8,422.6h3.2M549,422.9h3.2M551.2,422.5h3.2M553.4,422.4h3.2M555.6,421.6h3.2M557.8,422.3h3.2M560,424.5h3.2M562.2,421.9h3.2M564.4,423.1h3.2M566.6,423.6h3.2M568.8,424.3h3.2M571,422.3h3.2M573.2,422.5h3.2M575.4,422.5h3.2M577.6,423h3.2M579.8,423.1h3.2M582,424.8h3.2M584.2,424.4h3.2M586.4,424.5h3.2M588.6,421.8h3.2M590.8,421.8h3.2M593,424h3.2M595.2,424.6h3.2M597.4,423.2h3.2M599.6,423.6h3.2M601.8,421.7h3.2M604,423h3.2M606.2,424.7h3.2M608.4,424.3h3.2M610.6,424.4h3.2M612.8,424.8h3.2M615,422.5h3.2M617.2,422h3.2M619.4,422.2h3.2M621.6,423.4h3.2M623.8,423.9h3.2M626,424.7h3.2M628.2,424h3.2M630.4,423.8h3.2M632.6,424.1h3.2M634.8,423h3.2M637,423.2h3.2M639.2,421.4h3.2M641.4,423.7h3.2M643.6,421.9h3.2M645.8,423.9h3.2M648,423h3.2M650.2,421.8h3.2M652.4,421.1h3.2M654.6,421.4h3.2M656.8,422.5h3.2M659,422.6h3.2M661.2,420.6h3.2M663.4,420.4h3.2M665.6,421.7h3.2M667.8,421.8h3.2M670,421.1h3.2M672.2,420.5h3.2M674.4,421.7h3.2M676.6,419.7h3.2M678.8,420.6h3.2M681,421h3.2M683.2,422.6h3.2M685.4,421.5h3.2M687.6,422.2h3.2M689.8,420.8h3.2M692,420h3.2M694.2,420h3.2M696.4,422.2h3.2M698.6,421.3h3.2M700.8,420h3.2M703,419h3.2M705.2,420.5h3.2M707.4,421h3.2M709.6,420h3.2M711.8,419.4h3.2M714,420.6h3.2M716.2,421.3h3.2M718.4,419h3.2M720.6,418.2h3.2M722.8,419.1h3.2M725,419.2h3.2M727.2,420h3.2M729.4,418.3h3.2M731.6,420.1h3.2M733.8,419.8h3.2M736,418.9h3.2M738.2,417.9h3.2M740.4,420.2h3.2M742.6,418h3.2M744.8,419.5h3.2M747,417.5h3.2M749.2,417.3h3.2M751.4,418.9h3.2M753.6,417.3h3.2M755.8,419.3h3.2M758,417.8h3.2M760.2,416.9h3.2M762.4,417.1h3.2M764.6,417.7h3.2M766.8,418.6h3.2M769,419.6h3.2M771.2,417.1h3.2M773.4,417.9h3.2M775.6,417.4h3.2M777.8,419.9h3.2M780,417.3h3.2M782.2,417.1h3.2M784.4,417.2h3.2M786.6,418.3h3.2M788.8,420h3.2M791,420h3.2M793.2,419.6h3.2M795.4,420.5h3.2M797.6,420.4h3.2M799.8,418.5h3.2M802,418h3.2M804.2,420.5h3.2M806.4,419.9h3.2M808.6,417.6h3.2M810.8,419.7h3.2M813,418.8h3.2M815.2,418.8h3.2M817.4,418.7h3.2M819.6,418.2h3.2M821.8,417.6h3.2M824,418.6h3.2M826.2,418.8h3.2M828.4,420.8h3.2M830.6,418.1h3.2M832.8,420.8h3.2M835,418.4h3.2M837.2,418.9h3.2M839.4,420.4h3.2M841.6,420.5h3.2M843.8,419.2h3.2M846,418h3.2M848.2,419.4h3.2M850.4,419h3.2M852.6,420.7h3.2M854.8,418.3h3.2M857,418.8h3.2M859.2,420.4h3.2M861.4,417.6h3.2M863.6,418.8h3.2M865.8,420h3.2M868,419.8h3.2M870.2,417.4h3.2M872.4,417.3h3.2M874.6,417.3h3.2M876.8,420h3.2M879,417.8h3.2M881.2,419.3h3.2M883.4,419.7h3.2M885.6,417.9h3.2M887.8,417.6h3.2M890,419.7h3.2M892.2,418.6h3.2M894.4,417.4h3.2M896.6,418.7h3.2M898.8,417.4h3.2M901,417.4h3.2M903.2,416.6h3.2M905.4,419h3.2M907.6,419.6h3.2M909.8,418.8h3.2M912,419.8h3.2M914.2,417h3.2M916.4,417.7h3.2M918.6,418.5h3.2M920.8,420.1h3.2M923,420.2h3.2M925.2,418.4h3.2M927.4,418.1h3.2M929.6,418.7h3.2M931.8,419h3.2M934,420.4h3.2M936.2,418.1h3.2M938.4,420.2h3.2M940.6,420h3.2M942.8,420.4h3.2M945,420.3h3.2M947.2,419.8h3.2M949.4,418.9h3.2M951.6,418.9h3.2M953.8,418.9h3.2M956,420.3h3.2M958.2,418h3.2M960.4,418.3h3.2M962.6,420h3.2M964.8,418.4h3.2M967,417.7h3.2M969.2,417.6h3.2M971.4,419.2h3.2M973.6,418.4h3.2M975.8,420.5h3.2M978,420.1h3.2M980.2,420.4h3.2M982.4,418.1h3.2M984.6,417.4h3.2M986.8,417.4h3.2M989,418.7h3.2M991.2,419.3h3.2M993.4,418.4h3.2M995.6,417.7h3.2M997.8,418.2h3.2M1000,418.9h3.2M1002.2,419.1h3.2M1004.4,419.4h3.2M1006.6,419.7h3.2M1008.8,419.1h3.2M1011,417.4h3.2M1013.2,419.7h3.2M1015.4,418h3.2M1017.6,418.9h3.2M1019.8,418.3h3.2M1022,419.5h3.2M1024.2,417.8h3.2M1026.4,418h3.2M1028.6,418h3.2M1030.8,417.7h3.2M1033,420.1h3.2M1035.2,419.1h3.2M1037.4,418.3h3.2M1039.6,418.6h3.2M1041.8,420.5h3.2M1044,419h3.2M1046.2,418.1h3.2M1048.4,420h3.2M1050.6,419.4h3.2M1052.8,420.5h3.2M1055,417.6h3.2M1057.2,418.7h3.2M1059.4,419.8h3.2M1061.6,419.8h3.2M1063.8,420h3.2M1066,417.2h3.2M1068.2,417.9h3.2M1070.4,417.3h3.2M1072.6,417.5h3.2M1074.8,420h3.2M1077,418.7h3.2M1079.2,419.8h3.2M1081.4,417.9h3.2M1083.6,419.5h3.2M1085.8,418.1h3.2M1088,417.4h3.2M1090.2,419.1h3.2M1092.4,419.5h3.2M1094.6,416.8h3.2M1096.8,418.3h3.2M1099,418.4h3.2M1101.2,417.1h3.2M1103.4,417.5h3.2M1105.6,416.8h3.2M1107.8,417h3.2M1110,417.1h3.2M1112.2,418.2h3.2M1114.4,418.3h3.2M1116.6,416.9h3.2M1118.8,416.2h3.2M1121,417.2h3.2M1123.2,418.3h3.2M1125.4,416.7h3.2M1127.6,417.1h3.2M1129.8,416.7h3.2M1132,418.6h3.2M1134.2,417.8h3.2M1136.4,416.2h3.2M1138.6,416.3h3.2M1140.8,417.2h3.2M1143,417.7h3.2M1145.2,418h3.2M1147.4,416.2h3.2M1149.6,416.4h3.2M1151.8,418.1h3.2M1154,417.1h3.2M1156.2,416.7h3.2M1158.4,416.7h3.2M1160.6,418.7h3.2M1162.8,416.6h3.2M1165,417.4h3.2M1167.2,416.7h3.2M1169.4,416.8h3.2M1171.6,418.2h3.2M1173.8,418.6h3.2M1176,416.5h3.2M1178.2,415.9h3.2M1180.4,417.6h3.2M1182.6,415.9h3.2M1184.8,415.2h3.2M1187,418h3.2M1189.2,416.4h3.2M1191.4,417.7h3.2M1193.6,416.3h3.2M1195.8,417.8h3.2M1198,416.4h3.2" stroke="#111" stroke-width="2.4" fill="none"/>
<g clip-path="url(#kc0)"><circle cx="138.2" cy="103.2" r="3.9" fill="url(#gy)"/><circle cx="141.5" cy="104.2" r="3.5" fill="url(#gy)"/><circle cx="140.7" cy="107.6" r="3.3" fill="url(#gm)"/><circle cx="143.9" cy="112" r="3.3" fill="url(#gb)"/><circle cx="144.7" cy="116.4" r="3.3" fill="url(#gm)"/><circle cx="147.9" cy="120.9" r="3.3" fill="url(#gb)"/><circle cx="148.7" cy="125.3" r="3.3" fill="url(#gb)"/><circle cx="150.6" cy="129.7" r="3.3" fill="url(#gy)"/><circle cx="154.1" cy="134.1" r="3.3" fill="url(#gy)"/><circle cx="153.7" cy="138.5" r="3.9" fill="url(#gy)"/><circle cx="157" cy="139.5" r="3.5" fill="url(#gy)"/><circle cx="153.8" cy="142.9" r="3.3" fill="url(#gb)"/><circle cx="150.9" cy="147.3" r="3.3" fill="url(#gb)"/><circle cx="150.3" cy="151.7" r="3.3" fill="url(#gr)"/><circle cx="147.1" cy="156.2" r="3.3" fill="url(#gb)"/><circle cx="144.7" cy="160.6" r="3.3" fill="url(#gm)"/><circle cx="143.9" cy="165" r="3.3" fill="url(#gm)"/><circle cx="141.9" cy="169.4" r="3.3" fill="url(#gy)"/><circle cx="138.2" cy="173.8" r="3.9" fill="url(#gy)"/><circle cx="141.5" cy="174.8" r="3.5" fill="url(#gb)"/><circle cx="142.3" cy="178.2" r="3.3" fill="url(#gm)"/><circle cx="143.7" cy="182.6" r="3.3" fill="url(#gb)"/><circle cx="145.3" cy="187" r="3.3" fill="url(#gr)"/><circle cx="147.2" cy="191.4" r="3.3" fill="url(#gm)"/><circle cx="148.7" cy="195.9" r="3.3" fill="url(#gb)"/><circle cx="150.4" cy="200.3" r="3.3" fill="url(#gm)"/><circle cx="153.6" cy="204.7" r="3.3" fill="url(#gy)"/><circle cx="153.7" cy="209.1" r="3.9" fill="url(#gy)"/><circle cx="157" cy="210.1" r="3.5" fill="url(#gy)"/><circle cx="153.5" cy="213.5" r="3.3" fill="url(#gb)"/><circle cx="151.6" cy="217.9" r="3.3" fill="url(#gr)"/><circle cx="149.6" cy="222.3" r="3.3" fill="url(#gm)"/><circle cx="147.2" cy="226.8" r="3.3" fill="url(#gb)"/><circle cx="145.4" cy="231.2" r="3.3" fill="url(#gm)"/><circle cx="142.9" cy="235.6" r="3.3" fill="url(#gy)"/><circle cx="141.9" cy="240" r="3.3" fill="url(#gy)"/><circle cx="138.2" cy="244.4" r="3.9" fill="url(#gy)"/><circle cx="141.5" cy="245.4" r="3.5" fill="url(#gy)"/><circle cx="141.5" cy="248.8" r="3.3" fill="url(#gm)"/><circle cx="144.2" cy="253.2" r="3.3" fill="url(#gr)"/><circle cx="145.3" cy="257.6" r="3.3" fill="url(#gm)"/><circle cx="146.7" cy="262.1" r="3.3" fill="url(#gm)"/><circle cx="149.1" cy="266.5" r="3.3" fill="url(#gm)"/><circle cx="151.3" cy="270.9" r="3.3" fill="url(#gy)"/><circle cx="152.3" cy="275.3" r="3.3" fill="url(#gy)"/><circle cx="153.7" cy="279.7" r="3.9" fill="url(#gy)"/><circle cx="157" cy="280.7" r="3.5" fill="url(#gy)"/><circle cx="153.8" cy="284.1" r="3.3" fill="url(#gb)"/><circle cx="150.4" cy="288.5" r="3.3" fill="url(#gb)"/><circle cx="149.7" cy="292.9" r="3.3" fill="url(#gm)"/><circle cx="146.5" cy="297.4" r="3.3" fill="url(#gm)"/><circle cx="146.5" cy="301.8" r="3.3" fill="url(#gb)"/><circle cx="143" cy="306.2" r="3.3" fill="url(#gm)"/><circle cx="141.2" cy="310.6" r="3.3" fill="url(#gb)"/><circle cx="138.2" cy="315" r="3.9" fill="url(#gy)"/><circle cx="141.5" cy="316" r="3.5" fill="url(#gb)"/><circle cx="142" cy="319.4" r="3.3" fill="url(#gm)"/><circle cx="142.7" cy="323.8" r="3.3" fill="url(#gb)"/><circle cx="145.7" cy="328.2" r="3.3" fill="url(#gm)"/><circle cx="146.8" cy="332.6" r="3.3" fill="url(#gb)"/><circle cx="150.2" cy="337.1" r="3.3" fill="url(#gm)"/><circle cx="150.6" cy="341.5" r="3.3" fill="url(#gy)"/><circle cx="152.7" cy="345.9" r="3.3" fill="url(#gb)"/><circle cx="153.7" cy="350.3" r="3.9" fill="url(#gy)"/><circle cx="157" cy="351.3" r="3.5" fill="url(#gy)"/><circle cx="152.9" cy="354.7" r="3.3" fill="url(#gm)"/><circle cx="150.7" cy="359.1" r="3.3" fill="url(#gb)"/><circle cx="148.7" cy="363.5" r="3.3" fill="url(#gm)"/><circle cx="147.8" cy="367.9" r="3.3" fill="url(#gb)"/><circle cx="144.8" cy="372.4" r="3.3" fill="url(#gm)"/><circle cx="142.8" cy="376.8" r="3.3" fill="url(#gy)"/><circle cx="141.9" cy="381.2" r="3.3" fill="url(#gy)"/><circle cx="138.2" cy="385.6" r="3.9" fill="url(#gy)"/><circle cx="141.5" cy="386.6" r="3.5" fill="url(#gy)"/><circle cx="141.7" cy="390" r="3.3" fill="url(#gb)"/><circle cx="143.1" cy="394.4" r="3.3" fill="url(#gb)"/><circle cx="146" cy="398.8" r="3.3" fill="url(#gm)"/><circle cx="147" cy="403.2" r="3.3" fill="url(#gb)"/><circle cx="149.5" cy="407.7" r="3.3" fill="url(#gm)"/><circle cx="151" cy="412.1" r="3.3" fill="url(#gy)"/><circle cx="153.1" cy="416.5" r="3.3" fill="url(#gy)"/><circle cx="153.7" cy="420.9" r="3.9" fill="url(#gy)"/><circle cx="157" cy="421.9" r="3.5" fill="url(#gy)"/><circle cx="152.9" cy="425.3" r="3.3" fill="url(#gm)"/><circle cx="150.9" cy="429.7" r="3.3" fill="url(#gr)"/><circle cx="149.9" cy="434.1" r="3.3" fill="url(#gm)"/><circle cx="146.9" cy="438.5" r="3.3" fill="url(#gm)"/><circle cx="145.7" cy="443" r="3.3" fill="url(#gm)"/><circle cx="143.4" cy="447.4" r="3.3" fill="url(#gy)"/><circle cx="142.4" cy="451.8" r="3.3" fill="url(#gb)"/><circle cx="138.2" cy="456.2" r="3.9" fill="url(#gy)"/><circle cx="141.5" cy="457.2" r="3.5" fill="url(#gy)"/><circle cx="141.9" cy="460.6" r="3.3" fill="url(#gm)"/><circle cx="142.6" cy="465" r="3.3" fill="url(#gb)"/><circle cx="145.6" cy="469.4" r="3.3" fill="url(#gr)"/><circle cx="146.7" cy="473.9" r="3.3" fill="url(#gb)"/><circle cx="149.5" cy="478.3" r="3.3" fill="url(#gm)"/><circle cx="151.5" cy="482.7" r="3.3" fill="url(#gy)"/><circle cx="152.7" cy="487.1" r="3.3" fill="url(#gy)"/><circle cx="158.5" cy="103.2" r="3.9" fill="url(#gy)"/><circle cx="161.8" cy="104.2" r="3.5" fill="url(#gb)"/><circle cx="161.3" cy="107.6" r="3.3" fill="url(#gb)"/><circle cx="164.7" cy="112" r="3.3" fill="url(#gb)"/><circle cx="166.2" cy="116.4" r="3.3" fill="url(#gr)"/><circle cx="166.9" cy="120.9" r="3.3" fill="url(#gb)"/><circle cx="170.4" cy="125.3" r="3.3" fill="url(#gb)"/><circle cx="171.4" cy="129.7" r="3.3" fill="url(#gy)"/><circle cx="174.5" cy="134.1" r="3.3" fill="url(#gb)"/><circle cx="174" cy="138.5" r="3.9" fill="url(#gy)"/><circle cx="177.3" cy="139.5" r="3.5" fill="url(#gy)"/><circle cx="173.8" cy="142.9" r="3.3" fill="url(#gb)"/><circle cx="171.8" cy="147.3" r="3.3" fill="url(#gr)"/><circle cx="169.2" cy="151.7" r="3.3" fill="url(#gm)"/><circle cx="166.8" cy="156.2" r="3.3" fill="url(#gm)"/><circle cx="165.6" cy="160.6" r="3.3" fill="url(#gb)"/><circle cx="163.2" cy="165" r="3.3" fill="url(#gm)"/><circle cx="161" cy="169.4" r="3.3" fill="url(#gy)"/><circle cx="158.5" cy="173.8" r="3.9" fill="url(#gy)"/><circle cx="161.8" cy="174.8" r="3.5" fill="url(#gy)"/><circle cx="161.2" cy="178.2" r="3.3" fill="url(#gm)"/><circle cx="163.9" cy="182.6" r="3.3" fill="url(#gb)"/><circle cx="166.4" cy="187" r="3.3" fill="url(#gm)"/><circle cx="167.8" cy="191.4" r="3.3" fill="url(#gm)"/><circle cx="169.3" cy="195.9" r="3.3" fill="url(#gb)"/><circle cx="172.6" cy="200.3" r="3.3" fill="url(#gm)"/><circle cx="174" cy="204.7" r="3.3" fill="url(#gb)"/><circle cx="174" cy="209.1" r="3.9" fill="url(#gy)"/><circle cx="177.3" cy="210.1" r="3.5" fill="url(#gy)"/><circle cx="174.1" cy="213.5" r="3.3" fill="url(#gb)"/><circle cx="170.8" cy="217.9" r="3.3" fill="url(#gr)"/><circle cx="169" cy="222.3" r="3.3" fill="url(#gm)"/><circle cx="167.3" cy="226.8" r="3.3" fill="url(#gm)"/><circle cx="165.1" cy="231.2" r="3.3" fill="url(#gb)"/><circle cx="164.3" cy="235.6" r="3.3" fill="url(#gy)"/><circle cx="162.2" cy="240" r="3.3" fill="url(#gb)"/><circle cx="158.5" cy="244.4" r="3.9" fill="url(#gy)"/><circle cx="161.8" cy="245.4" r="3.5" fill="url(#gb)"/><circle cx="161.5" cy="248.8" r="3.3" fill="url(#gb)"/><circle cx="163" cy="253.2" r="3.3" fill="url(#gb)"/><circle cx="165.2" cy="257.6" r="3.3" fill="url(#gr)"/><circle cx="168.4" cy="262.1" r="3.3" fill="url(#gm)"/><circle cx="170.6" cy="266.5" r="3.3" fill="url(#gb)"/><circle cx="171" cy="270.9" r="3.3" fill="url(#gy)"/><circle cx="173.2" cy="275.3" r="3.3" fill="url(#gb)"/><circle cx="174" cy="279.7" r="3.9" fill="url(#gy)"/><circle cx="177.3" cy="280.7" r="3.5" fill="url(#gy)"/><circle cx="173.5" cy="284.1" r="3.3" fill="url(#gb)"/><circle cx="172.3" cy="288.5" r="3.3" fill="url(#gb)"/><circle cx="170.6" cy="292.9" r="3.3" fill="url(#gm)"/><circle cx="167.9" cy="297.4" r="3.3" fill="url(#gm)"/><circle cx="166.4" cy="301.8" r="3.3" fill="url(#gm)"/><circle cx="164.1" cy="306.2" r="3.3" fill="url(#gy)"/><circle cx="162.1" cy="310.6" r="3.3" fill="url(#gy)"/><circle cx="158.5" cy="315" r="3.9" fill="url(#gy)"/><circle cx="161.8" cy="316" r="3.5" fill="url(#gy)"/><circle cx="161" cy="319.4" r="3.3" fill="url(#gm)"/><circle cx="164.1" cy="323.8" r="3.3" fill="url(#gb)"/><circle cx="165.5" cy="328.2" r="3.3" fill="url(#gr)"/><circle cx="168.2" cy="332.6" r="3.3" fill="url(#gm)"/><circle cx="168.8" cy="337.1" r="3.3" fill="url(#gb)"/><circle cx="172" cy="341.5" r="3.3" fill="url(#gm)"/><circle cx="172.7" cy="345.9" r="3.3" fill="url(#gy)"/><circle cx="174" cy="350.3" r="3.9" fill="url(#gy)"/><circle cx="177.3" cy="351.3" r="3.5" fill="url(#gy)"/><circle cx="173" cy="354.7" r="3.3" fill="url(#gb)"/><circle cx="172.4" cy="359.1" r="3.3" fill="url(#gb)"/><circle cx="168.9" cy="363.5" r="3.3" fill="url(#gm)"/><circle cx="167.2" cy="367.9" r="3.3" fill="url(#gm)"/><circle cx="164.9" cy="372.4" r="3.3" fill="url(#gb)"/><circle cx="164.5" cy="376.8" r="3.3" fill="url(#gm)"/><circle cx="161.9" cy="381.2" r="3.3" fill="url(#gb)"/><circle cx="158.5" cy="385.6" r="3.9" fill="url(#gy)"/><circle cx="161.8" cy="386.6" r="3.5" fill="url(#gy)"/><circle cx="161.5" cy="390" r="3.3" fill="url(#gm)"/><circle cx="163.7" cy="394.4" r="3.3" fill="url(#gr)"/><circle cx="165.5" cy="398.8" r="3.3" fill="url(#gr)"/><circle cx="166.8" cy="403.2" r="3.3" fill="url(#gb)"/><circle cx="170.5" cy="407.7" r="3.3" fill="url(#gm)"/><circle cx="172.3" cy="412.1" r="3.3" fill="url(#gy)"/><circle cx="174.1" cy="416.5" r="3.3" fill="url(#gy)"/><circle cx="174" cy="420.9" r="3.9" fill="url(#gy)"/><circle cx="177.3" cy="421.9" r="3.5" fill="url(#gy)"/><circle cx="173.3" cy="425.3" r="3.3" fill="url(#gm)"/><circle cx="171.7" cy="429.7" r="3.3" fill="url(#gb)"/><circle cx="170.1" cy="434.1" r="3.3" fill="url(#gr)"/><circle cx="167.9" cy="438.5" r="3.3" fill="url(#gm)"/><circle cx="165.2" cy="443" r="3.3" fill="url(#gm)"/><circle cx="163.9" cy="447.4" r="3.3" fill="url(#gm)"/><circle cx="162.5" cy="451.8" r="3.3" fill="url(#gb)"/><circle cx="158.5" cy="456.2" r="3.9" fill="url(#gy)"/><circle cx="161.8" cy="457.2" r="3.5" fill="url(#gb)"/><circle cx="161.6" cy="460.6" r="3.3" fill="url(#gm)"/><circle cx="163.9" cy="465" r="3.3" fill="url(#gb)"/><circle cx="166.7" cy="469.4" r="3.3" fill="url(#gr)"/><circle cx="168.7" cy="473.9" r="3.3" fill="url(#gb)"/><circle cx="169.8" cy="478.3" r="3.3" fill="url(#gm)"/><circle cx="171.2" cy="482.7" r="3.3" fill="url(#gm)"/><circle cx="174.4" cy="487.1" r="3.3" fill="url(#gy)"/><circle cx="178.8" cy="103.2" r="3.9" fill="url(#gy)"/><circle cx="182.1" cy="104.2" r="3.5" fill="url(#gy)"/><circle cx="181.5" cy="107.6" r="3.3" fill="url(#gm)"/><circle cx="184.2" cy="112" r="3.3" fill="url(#gb)"/><circle cx="186.4" cy="116.4" r="3.3" fill="url(#gr)"/><circle cx="187.2" cy="120.9" r="3.3" fill="url(#gb)"/><circle cx="190.8" cy="125.3" r="3.3" fill="url(#gm)"/><circle cx="191.8" cy="129.7" r="3.3" fill="url(#gm)"/><circle cx="193.6" cy="134.1" r="3.3" fill="url(#gy)"/><circle cx="194.3" cy="138.5" r="3.9" fill="url(#gy)"/><circle cx="197.6" cy="139.5" r="3.5" fill="url(#gy)"/><circle cx="194.7" cy="142.9" r="3.3" fill="url(#gb)"/><circle cx="191.7" cy="147.3" r="3.3" fill="url(#gb)"/><circle cx="190.9" cy="151.7" r="3.3" fill="url(#gr)"/><circle cx="188.1" cy="156.2" r="3.3" fill="url(#gm)"/><circle cx="185.8" cy="160.6" r="3.3" fill="url(#gb)"/><circle cx="184.2" cy="165" r="3.3" fill="url(#gy)"/><circle cx="182.6" cy="169.4" r="3.3" fill="url(#gb)"/><circle cx="178.8" cy="173.8" r="3.9" fill="url(#gy)"/><circle cx="182.1" cy="174.8" r="3.5" fill="url(#gb)"/><circle cx="182.2" cy="178.2" r="3.3" fill="url(#gm)"/><circle cx="184.3" cy="182.6" r="3.3" fill="url(#gr)"/><circle cx="185.8" cy="187" r="3.3" fill="url(#gr)"/><circle cx="188.1" cy="191.4" r="3.3" fill="url(#gm)"/><circle cx="189.6" cy="195.9" r="3.3" fill="url(#gm)"/><circle cx="192.4" cy="200.3" r="3.3" fill="url(#gm)"/><circle cx="194.3" cy="204.7" r="3.3" fill="url(#gy)"/><circle cx="194.3" cy="209.1" r="3.9" fill="url(#gy)"/><circle cx="197.6" cy="210.1" r="3.5" fill="url(#gb)"/><circle cx="193.2" cy="213.5" r="3.3" fill="url(#gb)"/><circle cx="192.8" cy="217.9" r="3.3" fill="url(#gr)"/><circle cx="190.9" cy="222.3" r="3.3" fill="url(#gm)"/><circle cx="187.4" cy="226.8" r="3.3" fill="url(#gm)"/><circle cx="185.5" cy="231.2" r="3.3" fill="url(#gb)"/><circle cx="185.1" cy="235.6" r="3.3" fill="url(#gm)"/><circle cx="182.7" cy="240" r="3.3" fill="url(#gb)"/><circle cx="178.8" cy="244.4" r="3.9" fill="url(#gy)"/><circle cx="182.1" cy="245.4" r="3.5" fill="url(#gy)"/><circle cx="181.5" cy="248.8" r="3.3" fill="url(#gm)"/><circle cx="183.7" cy="253.2" r="3.3" fill="url(#gb)"/><circle cx="186" cy="257.6" r="3.3" fill="url(#gm)"/><circle cx="187.8" cy="262.1" r="3.3" fill="url(#gm)"/><circle cx="190.4" cy="266.5" r="3.3" fill="url(#gm)"/><circle cx="191.9" cy="270.9" r="3.3" fill="url(#gy)"/><circle cx="193.4" cy="275.3" r="3.3" fill="url(#gy)"/><circle cx="194.3" cy="279.7" r="3.9" fill="url(#gy)"/><circle cx="197.6" cy="280.7" r="3.5" fill="url(#gb)"/><circle cx="194.3" cy="284.1" r="3.3" fill="url(#gm)"/><circle cx="192.3" cy="288.5" r="3.3" fill="url(#gr)"/><circle cx="190.7" cy="292.9" r="3.3" fill="url(#gm)"/><circle cx="188.4" cy="297.4" r="3.3" fill="url(#gm)"/><circle cx="186" cy="301.8" r="3.3" fill="url(#gb)"/><circle cx="183.7" cy="306.2" r="3.3" fill="url(#gy)"/><circle cx="183" cy="310.6" r="3.3" fill="url(#gy)"/><circle cx="178.8" cy="315" r="3.9" fill="url(#gy)"/><circle cx="182.1" cy="316" r="3.5" fill="url(#gy)"/><circle cx="182.7" cy="319.4" r="3.3" fill="url(#gb)"/><circle cx="183.7" cy="323.8" r="3.3" fill="url(#gb)"/><circle cx="186.1" cy="328.2" r="3.3" fill="url(#gm)"/><circle cx="188.3" cy="332.6" r="3.3" fill="url(#gm)"/><circle cx="190" cy="337.1" r="3.3" fill="url(#gm)"/><circle cx="192.7" cy="341.5" r="3.3" fill="url(#gm)"/><circle cx="194.4" cy="345.9" r="3.3" fill="url(#gb)"/><circle cx="194.3" cy="350.3" r="3.9" fill="url(#gy)"/><circle cx="197.6" cy="351.3" r="3.5" fill="url(#gy)"/><circle cx="194.7" cy="354.7" r="3.3" fill="url(#gb)"/><circle cx="191" cy="359.1" r="3.3" fill="url(#gb)"/><circle cx="189.3" cy="363.5" r="3.3" fill="url(#gr)"/><circle cx="188.1" cy="367.9" r="3.3" fill="url(#gm)"/><circle cx="186.8" cy="372.4" r="3.3" fill="url(#gb)"/><circle cx="184.3" cy="376.8" r="3.3" fill="url(#gy)"/><circle cx="182.3" cy="381.2" r="3.3" fill="url(#gb)"/><circle cx="178.8" cy="385.6" r="3.9" fill="url(#gy)"/><circle cx="182.1" cy="386.6" r="3.5" fill="url(#gb)"/><circle cx="182.3" cy="390" r="3.3" fill="url(#gb)"/><circle cx="184.7" cy="394.4" r="3.3" fill="url(#gr)"/><circle cx="185.5" cy="398.8" r="3.3" fill="url(#gm)"/><circle cx="187.8" cy="403.2" r="3.3" fill="url(#gm)"/><circle cx="190.4" cy="407.7" r="3.3" fill="url(#gb)"/><circle cx="192.2" cy="412.1" r="3.3" fill="url(#gy)"/><circle cx="193.4" cy="416.5" r="3.3" fill="url(#gb)"/><circle cx="194.3" cy="420.9" r="3.9" fill="url(#gy)"/><circle cx="197.6" cy="421.9" r="3.5" fill="url(#gy)"/><circle cx="193" cy="425.3" r="3.3" fill="url(#gm)"/><circle cx="192.2" cy="429.7" r="3.3" fill="url(#gr)"/><circle cx="190.1" cy="434.1" r="3.3" fill="url(#gm)"/><circle cx="187.5" cy="438.5" r="3.3" fill="url(#gm)"/><circle cx="187" cy="443" r="3.3" fill="url(#gm)"/><circle cx="185.2" cy="447.4" r="3.3" fill="url(#gm)"/><circle cx="182.2" cy="451.8" r="3.3" fill="url(#gb)"/><circle cx="178.8" cy="456.2" r="3.9" fill="url(#gy)"/><circle cx="182.1" cy="457.2" r="3.5" fill="url(#gy)"/><circle cx="182.9" cy="460.6" r="3.3" fill="url(#gm)"/><circle cx="184.1" cy="465" r="3.3" fill="url(#gb)"/><circle cx="186.7" cy="469.4" r="3.3" fill="url(#gr)"/><circle cx="187.8" cy="473.9" r="3.3" fill="url(#gm)"/><circle cx="189.9" cy="478.3" r="3.3" fill="url(#gm)"/><circle cx="192.4" cy="482.7" r="3.3" fill="url(#gy)"/><circle cx="194.4" cy="487.1" r="3.3" fill="url(#gy)"/><circle cx="199.1" cy="103.2" r="3.9" fill="url(#gy)"/><circle cx="202.4" cy="104.2" r="3.5" fill="url(#gy)"/><circle cx="202.1" cy="107.6" r="3.3" fill="url(#gm)"/><circle cx="204.8" cy="112" r="3.3" fill="url(#gr)"/><circle cx="206.8" cy="116.4" r="3.3" fill="url(#gm)"/><circle cx="207.4" cy="120.9" r="3.3" fill="url(#gb)"/><circle cx="210" cy="125.3" r="3.3" fill="url(#gm)"/><circle cx="211.9" cy="129.7" r="3.3" fill="url(#gy)"/><circle cx="214" cy="134.1" r="3.3" fill="url(#gb)"/><circle cx="214.6" cy="138.5" r="3.9" fill="url(#gy)"/><circle cx="217.9" cy="139.5" r="3.5" fill="url(#gb)"/><circle cx="213.5" cy="142.9" r="3.3" fill="url(#gb)"/><circle cx="212.9" cy="147.3" r="3.3" fill="url(#gr)"/><circle cx="209.5" cy="151.7" r="3.3" fill="url(#gr)"/><circle cx="208.9" cy="156.2" r="3.3" fill="url(#gb)"/><circle cx="206.5" cy="160.6" r="3.3" fill="url(#gb)"/><circle cx="204.7" cy="165" r="3.3" fill="url(#gy)"/><circle cx="202.9" cy="169.4" r="3.3" fill="url(#gy)"/><circle cx="199.1" cy="173.8" r="3.9" fill="url(#gy)"/><circle cx="202.4" cy="174.8" r="3.5" fill="url(#gy)"/><circle cx="202.8" cy="178.2" r="3.3" fill="url(#gm)"/><circle cx="204.7" cy="182.6" r="3.3" fill="url(#gr)"/><circle cx="207.1" cy="187" r="3.3" fill="url(#gr)"/><circle cx="208.9" cy="191.4" r="3.3" fill="url(#gm)"/><circle cx="210.9" cy="195.9" r="3.3" fill="url(#gm)"/><circle cx="213" cy="200.3" r="3.3" fill="url(#gm)"/><circle cx="214.4" cy="204.7" r="3.3" fill="url(#gy)"/><circle cx="214.6" cy="209.1" r="3.9" fill="url(#gy)"/><circle cx="217.9" cy="210.1" r="3.5" fill="url(#gb)"/><circle cx="214.5" cy="213.5" r="3.3" fill="url(#gm)"/><circle cx="211.6" cy="217.9" r="3.3" fill="url(#gr)"/><circle cx="210.3" cy="222.3" r="3.3" fill="url(#gr)"/><circle cx="208.7" cy="226.8" r="3.3" fill="url(#gb)"/><circle cx="206.5" cy="231.2" r="3.3" fill="url(#gb)"/><circle cx="204.3" cy="235.6" r="3.3" fill="url(#gy)"/><circle cx="202.5" cy="240" r="3.3" fill="url(#gy)"/><circle cx="199.1" cy="244.4" r="3.9" fill="url(#gy)"/><circle cx="202.4" cy="245.4" r="3.5" fill="url(#gy)"/><circle cx="202.5" cy="248.8" r="3.3" fill="url(#gb)"/><circle cx="204.9" cy="253.2" r="3.3" fill="url(#gb)"/><circle cx="206.4" cy="257.6" r="3.3" fill="url(#gr)"/><circle cx="207.7" cy="262.1" r="3.3" fill="url(#gm)"/><circle cx="210.2" cy="266.5" r="3.3" fill="url(#gm)"/><circle cx="212.6" cy="270.9" r="3.3" fill="url(#gy)"/><circle cx="213.9" cy="275.3" r="3.3" fill="url(#gb)"/><circle cx="214.6" cy="279.7" r="3.9" fill="url(#gy)"/><circle cx="217.9" cy="280.7" r="3.5" fill="url(#gy)"/><circle cx="213.5" cy="284.1" r="3.3" fill="url(#gm)"/><circle cx="212.5" cy="288.5" r="3.3" fill="url(#gr)"/><circle cx="209.3" cy="292.9" r="3.3" fill="url(#gr)"/><circle cx="208.7" cy="297.4" r="3.3" fill="url(#gm)"/><circle cx="207" cy="301.8" r="3.3" fill="url(#gm)"/><circle cx="204.5" cy="306.2" r="3.3" fill="url(#gm)"/><circle cx="203.1" cy="310.6" r="3.3" fill="url(#gb)"/><circle cx="199.1" cy="315" r="3.9" fill="url(#gy)"/><circle cx="202.4" cy="316" r="3.5" fill="url(#gy)"/><circle cx="203" cy="319.4" r="3.3" fill="url(#gm)"/><circle cx="204.2" cy="323.8" r="3.3" fill="url(#gb)"/><circle cx="206.1" cy="328.2" r="3.3" fill="url(#gm)"/><circle cx="207.9" cy="332.6" r="3.3" fill="url(#gm)"/><circle cx="210.1" cy="337.1" r="3.3" fill="url(#gm)"/><circle cx="212.9" cy="341.5" r="3.3" fill="url(#gm)"/><circle cx="213.9" cy="345.9" r="3.3" fill="url(#gb)"/><circle cx="214.6" cy="350.3" r="3.9" fill="url(#gy)"/><circle cx="217.9" cy="351.3" r="3.5" fill="url(#gy)"/><circle cx="214.2" cy="354.7" r="3.3" fill="url(#gb)"/><circle cx="213" cy="359.1" r="3.3" fill="url(#gr)"/><circle cx="211.2" cy="363.5" r="3.3" fill="url(#gm)"/><circle cx="208.9" cy="367.9" r="3.3" fill="url(#gb)"/><circle cx="205.8" cy="372.4" r="3.3" fill="url(#gm)"/><circle cx="203.7" cy="376.8" r="3.3" fill="url(#gy)"/><circle cx="203.1" cy="381.2" r="3.3" fill="url(#gy)"/><circle cx="199.1" cy="385.6" r="3.9" fill="url(#gy)"/><circle cx="202.4" cy="386.6" r="3.5" fill="url(#gy)"/><circle cx="202.6" cy="390" r="3.3" fill="url(#gb)"/><circle cx="204.3" cy="394.4" r="3.3" fill="url(#gb)"/><circle cx="205.4" cy="398.8" r="3.3" fill="url(#gr)"/><circle cx="209" cy="403.2" r="3.3" fill="url(#gm)"/><circle cx="210.5" cy="407.7" r="3.3" fill="url(#gm)"/><circle cx="212.8" cy="412.1" r="3.3" fill="url(#gm)"/><circle cx="214.4" cy="416.5" r="3.3" fill="url(#gb)"/><circle cx="214.6" cy="420.9" r="3.9" fill="url(#gy)"/><circle cx="217.9" cy="421.9" r="3.5" fill="url(#gb)"/><circle cx="213.6" cy="425.3" r="3.3" fill="url(#gm)"/><circle cx="212.5" cy="429.7" r="3.3" fill="url(#gr)"/><circle cx="209.5" cy="434.1" r="3.3" fill="url(#gr)"/><circle cx="209.1" cy="438.5" r="3.3" fill="url(#gm)"/><circle cx="207" cy="443" r="3.3" fill="url(#gm)"/><circle cx="204.2" cy="447.4" r="3.3" fill="url(#gm)"/><circle cx="203.1" cy="451.8" r="3.3" fill="url(#gy)"/><circle cx="199.1" cy="456.2" r="3.9" fill="url(#gy)"/><circle cx="202.4" cy="457.2" r="3.5" fill="url(#gy)"/><circle cx="203.3" cy="460.6" r="3.3" fill="url(#gb)"/><circle cx="204.3" cy="465" r="3.3" fill="url(#gb)"/><circle cx="205.5" cy="469.4" r="3.3" fill="url(#gm)"/><circle cx="208.3" cy="473.9" r="3.3" fill="url(#gm)"/><circle cx="210.9" cy="478.3" r="3.3" fill="url(#gb)"/><circle cx="212.4" cy="482.7" r="3.3" fill="url(#gy)"/><circle cx="214.1" cy="487.1" r="3.3" fill="url(#gb)"/><circle cx="219.4" cy="103.2" r="3.9" fill="url(#gy)"/><circle cx="222.7" cy="104.2" r="3.5" fill="url(#gy)"/><circle cx="223" cy="107.6" r="3.3" fill="url(#gb)"/><circle cx="224.7" cy="112" r="3.3" fill="url(#gb)"/><circle cx="226.8" cy="116.4" r="3.3" fill="url(#gm)"/><circle cx="228.9" cy="120.9" r="3.3" fill="url(#gm)"/><circle cx="231.4" cy="125.3" r="3.3" fill="url(#gb)"/><circle cx="232.4" cy="129.7" r="3.3" fill="url(#gm)"/><circle cx="234.8" cy="134.1" r="3.3" fill="url(#gy)"/><circle cx="234.9" cy="138.5" r="3.9" fill="url(#gy)"/><circle cx="238.2" cy="139.5" r="3.5" fill="url(#gy)"/><circle cx="233.9" cy="142.9" r="3.3" fill="url(#gm)"/><circle cx="231.8" cy="147.3" r="3.3" fill="url(#gb)"/><circle cx="230.1" cy="151.7" r="3.3" fill="url(#gr)"/><circle cx="228.6" cy="156.2" r="3.3" fill="url(#gm)"/><circle cx="227.6" cy="160.6" r="3.3" fill="url(#gb)"/><circle cx="225.3" cy="165" r="3.3" fill="url(#gy)"/><circle cx="223.3" cy="169.4" r="3.3" fill="url(#gy)"/><circle cx="219.4" cy="173.8" r="3.9" fill="url(#gy)"/><circle cx="222.7" cy="174.8" r="3.5" fill="url(#gy)"/><circle cx="222.8" cy="178.2" r="3.3" fill="url(#gb)"/><circle cx="225.6" cy="182.6" r="3.3" fill="url(#gr)"/><circle cx="227.1" cy="187" r="3.3" fill="url(#gr)"/><circle cx="227.8" cy="191.4" r="3.3" fill="url(#gm)"/><circle cx="230.4" cy="195.9" r="3.3" fill="url(#gb)"/><circle cx="233" cy="200.3" r="3.3" fill="url(#gy)"/><circle cx="235.4" cy="204.7" r="3.3" fill="url(#gy)"/><circle cx="234.9" cy="209.1" r="3.9" fill="url(#gy)"/><circle cx="238.2" cy="210.1" r="3.5" fill="url(#gb)"/><circle cx="234.1" cy="213.5" r="3.3" fill="url(#gm)"/><circle cx="232.5" cy="217.9" r="3.3" fill="url(#gr)"/><circle cx="229.9" cy="222.3" r="3.3" fill="url(#gr)"/><circle cx="228.4" cy="226.8" r="3.3" fill="url(#gm)"/><circle cx="227" cy="231.2" r="3.3" fill="url(#gb)"/><circle cx="224.7" cy="235.6" r="3.3" fill="url(#gy)"/><circle cx="223.7" cy="240" r="3.3" fill="url(#gb)"/><circle cx="219.4" cy="244.4" r="3.9" fill="url(#gy)"/><circle cx="222.7" cy="245.4" r="3.5" fill="url(#gb)"/><circle cx="222.4" cy="248.8" r="3.3" fill="url(#gb)"/><circle cx="225" cy="253.2" r="3.3" fill="url(#gb)"/><circle cx="227.5" cy="257.6" r="3.3" fill="url(#gm)"/><circle cx="229.3" cy="262.1" r="3.3" fill="url(#gm)"/><circle cx="230.8" cy="266.5" r="3.3" fill="url(#gm)"/><circle cx="232.3" cy="270.9" r="3.3" fill="url(#gm)"/><circle cx="234.7" cy="275.3" r="3.3" fill="url(#gb)"/><circle cx="234.9" cy="279.7" r="3.9" fill="url(#gy)"/><circle cx="238.2" cy="280.7" r="3.5" fill="url(#gb)"/><circle cx="234" cy="284.1" r="3.3" fill="url(#gb)"/><circle cx="232.2" cy="288.5" r="3.3" fill="url(#gb)"/><circle cx="230.4" cy="292.9" r="3.3" fill="url(#gm)"/><circle cx="228.2" cy="297.4" r="3.3" fill="url(#gm)"/><circle cx="227.3" cy="301.8" r="3.3" fill="url(#gb)"/><circle cx="224.3" cy="306.2" r="3.3" fill="url(#gm)"/><circle cx="222.5" cy="310.6" r="3.3" fill="url(#gb)"/><circle cx="219.4" cy="315" r="3.9" fill="url(#gy)"/><circle cx="222.7" cy="316" r="3.5" fill="url(#gy)"/><circle cx="223.4" cy="319.4" r="3.3" fill="url(#gb)"/><circle cx="225.4" cy="323.8" r="3.3" fill="url(#gb)"/><circle cx="226.3" cy="328.2" r="3.3" fill="url(#gr)"/><circle cx="229" cy="332.6" r="3.3" fill="url(#gm)"/><circle cx="231" cy="337.1" r="3.3" fill="url(#gm)"/><circle cx="232.7" cy="341.5" r="3.3" fill="url(#gy)"/><circle cx="235" cy="345.9" r="3.3" fill="url(#gy)"/><circle cx="234.9" cy="350.3" r="3.9" fill="url(#gy)"/><circle cx="238.2" cy="351.3" r="3.5" fill="url(#gy)"/><circle cx="234.5" cy="354.7" r="3.3" fill="url(#gm)"/><circle cx="233.1" cy="359.1" r="3.3" fill="url(#gr)"/><circle cx="230.4" cy="363.5" r="3.3" fill="url(#gr)"/><circle cx="229.4" cy="367.9" r="3.3" fill="url(#gb)"/><circle cx="226.7" cy="372.4" r="3.3" fill="url(#gm)"/><circle cx="224.2" cy="376.8" r="3.3" fill="url(#gm)"/><circle cx="222" cy="381.2" r="3.3" fill="url(#gy)"/><circle cx="219.4" cy="385.6" r="3.9" fill="url(#gy)"/><circle cx="222.7" cy="386.6" r="3.5" fill="url(#gb)"/><circle cx="222.6" cy="390" r="3.3" fill="url(#gb)"/><circle cx="224.6" cy="394.4" r="3.3" fill="url(#gr)"/><circle cx="226.2" cy="398.8" r="3.3" fill="url(#gr)"/><circle cx="228.4" cy="403.2" r="3.3" fill="url(#gb)"/><circle cx="230.3" cy="407.7" r="3.3" fill="url(#gb)"/><circle cx="233.1" cy="412.1" r="3.3" fill="url(#gy)"/><circle cx="234.1" cy="416.5" r="3.3" fill="url(#gy)"/><circle cx="234.9" cy="420.9" r="3.9" fill="url(#gy)"/><circle cx="238.2" cy="421.9" r="3.5" fill="url(#gy)"/><circle cx="234.5" cy="425.3" r="3.3" fill="url(#gb)"/><circle cx="231.7" cy="429.7" r="3.3" fill="url(#gb)"/><circle cx="231.6" cy="434.1" r="3.3" fill="url(#gr)"/><circle cx="228.8" cy="438.5" r="3.3" fill="url(#gb)"/><circle cx="226.2" cy="443" r="3.3" fill="url(#gb)"/><circle cx="224.6" cy="447.4" r="3.3" fill="url(#gy)"/><circle cx="223.4" cy="451.8" r="3.3" fill="url(#gb)"/><circle cx="219.4" cy="456.2" r="3.9" fill="url(#gy)"/><circle cx="222.7" cy="457.2" r="3.5" fill="url(#gb)"/><circle cx="222.3" cy="460.6" r="3.3" fill="url(#gm)"/><circle cx="224.5" cy="465" r="3.3" fill="url(#gb)"/><circle cx="226.5" cy="469.4" r="3.3" fill="url(#gr)"/><circle cx="227.8" cy="473.9" r="3.3" fill="url(#gm)"/><circle cx="231.3" cy="478.3" r="3.3" fill="url(#gm)"/><circle cx="232.5" cy="482.7" r="3.3" fill="url(#gy)"/><circle cx="235.2" cy="487.1" r="3.3" fill="url(#gy)"/><circle cx="239.7" cy="103.2" r="3.9" fill="url(#gy)"/><circle cx="243" cy="104.2" r="3.5" fill="url(#gb)"/><circle cx="243.6" cy="107.6" r="3.3" fill="url(#gm)"/><circle cx="244.6" cy="112" r="3.3" fill="url(#gb)"/><circle cx="247.3" cy="116.4" r="3.3" fill="url(#gr)"/><circle cx="248.3" cy="120.9" r="3.3" fill="url(#gb)"/><circle cx="250.6" cy="125.3" r="3.3" fill="url(#gb)"/><circle cx="253.8" cy="129.7" r="3.3" fill="url(#gm)"/><circle cx="254.1" cy="134.1" r="3.3" fill="url(#gy)"/><circle cx="255.2" cy="138.5" r="3.9" fill="url(#gy)"/><circle cx="258.5" cy="139.5" r="3.5" fill="url(#gb)"/><circle cx="253.9" cy="142.9" r="3.3" fill="url(#gb)"/><circle cx="253.5" cy="147.3" r="3.3" fill="url(#gb)"/><circle cx="250.4" cy="151.7" r="3.3" fill="url(#gr)"/><circle cx="248.1" cy="156.2" r="3.3" fill="url(#gb)"/><circle cx="246.6" cy="160.6" r="3.3" fill="url(#gb)"/><circle cx="246" cy="165" r="3.3" fill="url(#gm)"/><circle cx="243.3" cy="169.4" r="3.3" fill="url(#gb)"/><circle cx="239.7" cy="173.8" r="3.9" fill="url(#gy)"/><circle cx="243" cy="174.8" r="3.5" fill="url(#gy)"/><circle cx="243.1" cy="178.2" r="3.3" fill="url(#gm)"/><circle cx="244.6" cy="182.6" r="3.3" fill="url(#gr)"/><circle cx="246.8" cy="187" r="3.3" fill="url(#gr)"/><circle cx="248.3" cy="191.4" r="3.3" fill="url(#gb)"/><circle cx="251.5" cy="195.9" r="3.3" fill="url(#gb)"/><circle cx="252.8" cy="200.3" r="3.3" fill="url(#gm)"/><circle cx="255.4" cy="204.7" r="3.3" fill="url(#gy)"/><circle cx="255.2" cy="209.1" r="3.9" fill="url(#gy)"/><circle cx="258.5" cy="210.1" r="3.5" fill="url(#gy)"/><circle cx="253.9" cy="213.5" r="3.3" fill="url(#gm)"/><circle cx="253.6" cy="217.9" r="3.3" fill="url(#gr)"/><circle cx="251.4" cy="222.3" r="3.3" fill="url(#gr)"/><circle cx="249.8" cy="226.8" r="3.3" fill="url(#gm)"/><circle cx="247.7" cy="231.2" r="3.3" fill="url(#gm)"/><circle cx="245" cy="235.6" r="3.3" fill="url(#gm)"/><circle cx="242.8" cy="240" r="3.3" fill="url(#gb)"/><circle cx="239.7" cy="244.4" r="3.9" fill="url(#gy)"/><circle cx="243" cy="245.4" r="3.5" fill="url(#gy)"/><circle cx="243.4" cy="248.8" r="3.3" fill="url(#gm)"/><circle cx="244.7" cy="253.2" r="3.3" fill="url(#gb)"/><circle cx="246.4" cy="257.6" r="3.3" fill="url(#gr)"/><circle cx="249.1" cy="262.1" r="3.3" fill="url(#gb)"/><circle cx="250.8" cy="266.5" r="3.3" fill="url(#gb)"/><circle cx="252.4" cy="270.9" r="3.3" fill="url(#gm)"/><circle cx="254.3" cy="275.3" r="3.3" fill="url(#gb)"/><circle cx="255.2" cy="279.7" r="3.9" fill="url(#gy)"/><circle cx="258.5" cy="280.7" r="3.5" fill="url(#gy)"/><circle cx="254.4" cy="284.1" r="3.3" fill="url(#gb)"/><circle cx="252.3" cy="288.5" r="3.3" fill="url(#gb)"/><circle cx="250.5" cy="292.9" r="3.3" fill="url(#gr)"/><circle cx="248.2" cy="297.4" r="3.3" fill="url(#gb)"/><circle cx="247.3" cy="301.8" r="3.3" fill="url(#gb)"/><circle cx="245.2" cy="306.2" r="3.3" fill="url(#gm)"/><circle cx="242.4" cy="310.6" r="3.3" fill="url(#gb)"/><circle cx="239.7" cy="315" r="3.9" fill="url(#gy)"/><circle cx="243" cy="316" r="3.5" fill="url(#gb)"/><circle cx="243" cy="319.4" r="3.3" fill="url(#gb)"/><circle cx="246.1" cy="323.8" r="3.3" fill="url(#gr)"/><circle cx="246.2" cy="328.2" r="3.3" fill="url(#gr)"/><circle cx="248.8" cy="332.6" r="3.3" fill="url(#gb)"/><circle cx="250" cy="337.1" r="3.3" fill="url(#gb)"/><circle cx="252.1" cy="341.5" r="3.3" fill="url(#gy)"/><circle cx="254.6" cy="345.9" r="3.3" fill="url(#gy)"/><circle cx="255.2" cy="350.3" r="3.9" fill="url(#gy)"/><circle cx="258.5" cy="351.3" r="3.5" fill="url(#gy)"/><circle cx="254.6" cy="354.7" r="3.3" fill="url(#gm)"/><circle cx="252.2" cy="359.1" r="3.3" fill="url(#gr)"/><circle cx="250" cy="363.5" r="3.3" fill="url(#gm)"/><circle cx="248.4" cy="367.9" r="3.3" fill="url(#gb)"/><circle cx="246.3" cy="372.4" r="3.3" fill="url(#gb)"/><circle cx="245.1" cy="376.8" r="3.3" fill="url(#gm)"/><circle cx="243.6" cy="381.2" r="3.3" fill="url(#gy)"/><circle cx="239.7" cy="385.6" r="3.9" fill="url(#gy)"/><circle cx="243" cy="386.6" r="3.5" fill="url(#gy)"/><circle cx="243.8" cy="390" r="3.3" fill="url(#gm)"/><circle cx="245.6" cy="394.4" r="3.3" fill="url(#gr)"/><circle cx="246.4" cy="398.8" r="3.3" fill="url(#gr)"/><circle cx="249.1" cy="403.2" r="3.3" fill="url(#gm)"/><circle cx="249.9" cy="407.7" r="3.3" fill="url(#gb)"/><circle cx="253.5" cy="412.1" r="3.3" fill="url(#gy)"/><circle cx="254.8" cy="416.5" r="3.3" fill="url(#gy)"/><circle cx="255.2" cy="420.9" r="3.9" fill="url(#gy)"/><circle cx="258.5" cy="421.9" r="3.5" fill="url(#gy)"/><circle cx="255.4" cy="425.3" r="3.3" fill="url(#gb)"/><circle cx="252" cy="429.7" r="3.3" fill="url(#gr)"/><circle cx="251.7" cy="434.1" r="3.3" fill="url(#gm)"/><circle cx="248.2" cy="438.5" r="3.3" fill="url(#gb)"/><circle cx="246.5" cy="443" r="3.3" fill="url(#gm)"/><circle cx="244.1" cy="447.4" r="3.3" fill="url(#gy)"/><circle cx="243.3" cy="451.8" r="3.3" fill="url(#gb)"/><circle cx="239.7" cy="456.2" r="3.9" fill="url(#gy)"/><circle cx="243" cy="457.2" r="3.5" fill="url(#gb)"/><circle cx="243.2" cy="460.6" r="3.3" fill="url(#gb)"/><circle cx="246" cy="465" r="3.3" fill="url(#gr)"/><circle cx="246.3" cy="469.4" r="3.3" fill="url(#gr)"/><circle cx="249.6" cy="473.9" r="3.3" fill="url(#gm)"/><circle cx="251.4" cy="478.3" r="3.3" fill="url(#gm)"/><circle cx="253" cy="482.7" r="3.3" fill="url(#gy)"/><circle cx="254.3" cy="487.1" r="3.3" fill="url(#gy)"/><circle cx="260" cy="103.2" r="3.9" fill="url(#gy)"/><circle cx="263.3" cy="104.2" r="3.5" fill="url(#gy)"/><circle cx="263.3" cy="107.6" r="3.3" fill="url(#gb)"/><circle cx="265.4" cy="112" r="3.3" fill="url(#gb)"/><circle cx="266.4" cy="116.4" r="3.3" fill="url(#gr)"/><circle cx="268.7" cy="120.9" r="3.3" fill="url(#gm)"/><circle cx="270.5" cy="125.3" r="3.3" fill="url(#gb)"/><circle cx="272.6" cy="129.7" r="3.3" fill="url(#gy)"/><circle cx="274.1" cy="134.1" r="3.3" fill="url(#gy)"/><circle cx="275.5" cy="138.5" r="3.9" fill="url(#gy)"/><circle cx="278.8" cy="139.5" r="3.5" fill="url(#gb)"/><circle cx="274.6" cy="142.9" r="3.3" fill="url(#gm)"/><circle cx="273.2" cy="147.3" r="3.3" fill="url(#gr)"/><circle cx="270.4" cy="151.7" r="3.3" fill="url(#gm)"/><circle cx="269.7" cy="156.2" r="3.3" fill="url(#gm)"/><circle cx="266.9" cy="160.6" r="3.3" fill="url(#gb)"/><circle cx="265.4" cy="165" r="3.3" fill="url(#gy)"/><circle cx="262.7" cy="169.4" r="3.3" fill="url(#gb)"/><circle cx="260" cy="173.8" r="3.9" fill="url(#gy)"/><circle cx="263.3" cy="174.8" r="3.5" fill="url(#gy)"/><circle cx="263.5" cy="178.2" r="3.3" fill="url(#gm)"/><circle cx="266.1" cy="182.6" r="3.3" fill="url(#gb)"/><circle cx="267.7" cy="187" r="3.3" fill="url(#gr)"/><circle cx="269.7" cy="191.4" r="3.3" fill="url(#gb)"/><circle cx="272.1" cy="195.9" r="3.3" fill="url(#gb)"/><circle cx="274" cy="200.3" r="3.3" fill="url(#gm)"/><circle cx="275.5" cy="204.7" r="3.3" fill="url(#gb)"/><circle cx="275.5" cy="209.1" r="3.9" fill="url(#gy)"/><circle cx="278.8" cy="210.1" r="3.5" fill="url(#gy)"/><circle cx="274.9" cy="213.5" r="3.3" fill="url(#gm)"/><circle cx="273.7" cy="217.9" r="3.3" fill="url(#gb)"/><circle cx="271" cy="222.3" r="3.3" fill="url(#gm)"/><circle cx="269.7" cy="226.8" r="3.3" fill="url(#gb)"/><circle cx="267.9" cy="231.2" r="3.3" fill="url(#gm)"/><circle cx="265" cy="235.6" r="3.3" fill="url(#gm)"/><circle cx="264.4" cy="240" r="3.3" fill="url(#gy)"/><circle cx="260" cy="244.4" r="3.9" fill="url(#gy)"/><circle cx="263.3" cy="245.4" r="3.5" fill="url(#gb)"/><circle cx="264.2" cy="248.8" r="3.3" fill="url(#gm)"/><circle cx="265.1" cy="253.2" r="3.3" fill="url(#gb)"/><circle cx="266.5" cy="257.6" r="3.3" fill="url(#gr)"/><circle cx="268.7" cy="262.1" r="3.3" fill="url(#gb)"/><circle cx="270.6" cy="266.5" r="3.3" fill="url(#gb)"/><circle cx="274.1" cy="270.9" r="3.3" fill="url(#gy)"/><circle cx="275.3" cy="275.3" r="3.3" fill="url(#gb)"/><circle cx="275.5" cy="279.7" r="3.9" fill="url(#gy)"/><circle cx="278.8" cy="280.7" r="3.5" fill="url(#gb)"/><circle cx="274.1" cy="284.1" r="3.3" fill="url(#gm)"/><circle cx="274" cy="288.5" r="3.3" fill="url(#gr)"/><circle cx="271.4" cy="292.9" r="3.3" fill="url(#gm)"/><circle cx="269.5" cy="297.4" r="3.3" fill="url(#gm)"/><circle cx="266.6" cy="301.8" r="3.3" fill="url(#gm)"/><circle cx="265.2" cy="306.2" r="3.3" fill="url(#gm)"/><circle cx="263" cy="310.6" r="3.3" fill="url(#gy)"/><circle cx="260" cy="315" r="3.9" fill="url(#gy)"/><circle cx="263.3" cy="316" r="3.5" fill="url(#gy)"/><circle cx="262.7" cy="319.4" r="3.3" fill="url(#gm)"/><circle cx="264.5" cy="323.8" r="3.3" fill="url(#gr)"/><circle cx="267.2" cy="328.2" r="3.3" fill="url(#gr)"/><circle cx="270" cy="332.6" r="3.3" fill="url(#gm)"/><circle cx="271.3" cy="337.1" r="3.3" fill="url(#gm)"/><circle cx="272.6" cy="341.5" r="3.3" fill="url(#gy)"/><circle cx="275.5" cy="345.9" r="3.3" fill="url(#gy)"/><circle cx="275.5" cy="350.3" r="3.9" fill="url(#gy)"/><circle cx="278.8" cy="351.3" r="3.5" fill="url(#gy)"/><circle cx="275.3" cy="354.7" r="3.3" fill="url(#gb)"/><circle cx="273.4" cy="359.1" r="3.3" fill="url(#gb)"/><circle cx="271.3" cy="363.5" r="3.3" fill="url(#gr)"/><circle cx="269.2" cy="367.9" r="3.3" fill="url(#gb)"/><circle cx="267.5" cy="372.4" r="3.3" fill="url(#gm)"/><circle cx="266" cy="376.8" r="3.3" fill="url(#gy)"/><circle cx="262.9" cy="381.2" r="3.3" fill="url(#gy)"/><circle cx="260" cy="385.6" r="3.9" fill="url(#gy)"/><circle cx="263.3" cy="386.6" r="3.5" fill="url(#gy)"/><circle cx="264.4" cy="390" r="3.3" fill="url(#gb)"/><circle cx="264.4" cy="394.4" r="3.3" fill="url(#gr)"/><circle cx="266.6" cy="398.8" r="3.3" fill="url(#gm)"/><circle cx="268.9" cy="403.2" r="3.3" fill="url(#gm)"/><circle cx="271.2" cy="407.7" r="3.3" fill="url(#gm)"/><circle cx="273.9" cy="412.1" r="3.3" fill="url(#gy)"/><circle cx="274.7" cy="416.5" r="3.3" fill="url(#gy)"/><circle cx="275.5" cy="420.9" r="3.9" fill="url(#gy)"/><circle cx="278.8" cy="421.9" r="3.5" fill="url(#gb)"/><circle cx="275.2" cy="425.3" r="3.3" fill="url(#gm)"/><circle cx="273" cy="429.7" r="3.3" fill="url(#gr)"/><circle cx="271.2" cy="434.1" r="3.3" fill="url(#gr)"/><circle cx="269" cy="438.5" r="3.3" fill="url(#gb)"/><circle cx="267.4" cy="443" r="3.3" fill="url(#gb)"/><circle cx="265.2" cy="447.4" r="3.3" fill="url(#gm)"/><circle cx="262.7" cy="451.8" r="3.3" fill="url(#gb)"/><circle cx="260" cy="456.2" r="3.9" fill="url(#gy)"/><circle cx="263.3" cy="457.2" r="3.5" fill="url(#gy)"/><circle cx="264.1" cy="460.6" r="3.3" fill="url(#gb)"/><circle cx="265.9" cy="465" r="3.3" fill="url(#gb)"/><circle cx="266.8" cy="469.4" r="3.3" fill="url(#gm)"/><circle cx="269.1" cy="473.9" r="3.3" fill="url(#gm)"/><circle cx="270.2" cy="478.3" r="3.3" fill="url(#gb)"/><circle cx="273.1" cy="482.7" r="3.3" fill="url(#gm)"/><circle cx="274.9" cy="487.1" r="3.3" fill="url(#gy)"/><circle cx="280.3" cy="103.2" r="3.9" fill="url(#gy)"/><circle cx="283.6" cy="104.2" r="3.5" fill="url(#gb)"/><circle cx="283.5" cy="107.6" r="3.3" fill="url(#gm)"/><circle cx="286.1" cy="112" r="3.3" fill="url(#gr)"/><circle cx="288.1" cy="116.4" r="3.3" fill="url(#gm)"/><circle cx="289.3" cy="120.9" r="3.3" fill="url(#gb)"/><circle cx="291.8" cy="125.3" r="3.3" fill="url(#gm)"/><circle cx="294" cy="129.7" r="3.3" fill="url(#gm)"/><circle cx="295.1" cy="134.1" r="3.3" fill="url(#gb)"/><circle cx="295.8" cy="138.5" r="3.9" fill="url(#gy)"/><circle cx="299.1" cy="139.5" r="3.5" fill="url(#gy)"/><circle cx="296" cy="142.9" r="3.3" fill="url(#gb)"/><circle cx="293.6" cy="147.3" r="3.3" fill="url(#gr)"/><circle cx="290.7" cy="151.7" r="3.3" fill="url(#gr)"/><circle cx="289.2" cy="156.2" r="3.3" fill="url(#gb)"/><circle cx="288.5" cy="160.6" r="3.3" fill="url(#gb)"/><circle cx="286.6" cy="165" r="3.3" fill="url(#gm)"/><circle cx="282.8" cy="169.4" r="3.3" fill="url(#gy)"/><circle cx="280.3" cy="173.8" r="3.9" fill="url(#gy)"/><circle cx="283.6" cy="174.8" r="3.5" fill="url(#gy)"/><circle cx="283.3" cy="178.2" r="3.3" fill="url(#gb)"/><circle cx="285.8" cy="182.6" r="3.3" fill="url(#gr)"/><circle cx="287.6" cy="187" r="3.3" fill="url(#gm)"/><circle cx="289.3" cy="191.4" r="3.3" fill="url(#gb)"/><circle cx="290.6" cy="195.9" r="3.3" fill="url(#gm)"/><circle cx="293.3" cy="200.3" r="3.3" fill="url(#gy)"/><circle cx="295.7" cy="204.7" r="3.3" fill="url(#gy)"/><circle cx="295.8" cy="209.1" r="3.9" fill="url(#gy)"/><circle cx="299.1" cy="210.1" r="3.5" fill="url(#gy)"/><circle cx="295.2" cy="213.5" r="3.3" fill="url(#gm)"/><circle cx="293.7" cy="217.9" r="3.3" fill="url(#gr)"/><circle cx="292.2" cy="222.3" r="3.3" fill="url(#gr)"/><circle cx="289.5" cy="226.8" r="3.3" fill="url(#gb)"/><circle cx="288.1" cy="231.2" r="3.3" fill="url(#gm)"/><circle cx="286.1" cy="235.6" r="3.3" fill="url(#gy)"/><circle cx="283.1" cy="240" r="3.3" fill="url(#gy)"/><circle cx="280.3" cy="244.4" r="3.9" fill="url(#gy)"/><circle cx="283.6" cy="245.4" r="3.5" fill="url(#gy)"/><circle cx="284.4" cy="248.8" r="3.3" fill="url(#gm)"/><circle cx="284.9" cy="253.2" r="3.3" fill="url(#gb)"/><circle cx="288" cy="257.6" r="3.3" fill="url(#gm)"/><circle cx="289.8" cy="262.1" r="3.3" fill="url(#gb)"/><circle cx="292.1" cy="266.5" r="3.3" fill="url(#gm)"/><circle cx="293.4" cy="270.9" r="3.3" fill="url(#gm)"/><circle cx="295.2" cy="275.3" r="3.3" fill="url(#gy)"/><circle cx="295.8" cy="279.7" r="3.9" fill="url(#gy)"/><circle cx="299.1" cy="280.7" r="3.5" fill="url(#gy)"/><circle cx="295.1" cy="284.1" r="3.3" fill="url(#gm)"/><circle cx="293.8" cy="288.5" r="3.3" fill="url(#gb)"/><circle cx="292.1" cy="292.9" r="3.3" fill="url(#gr)"/><circle cx="290" cy="297.4" r="3.3" fill="url(#gb)"/><circle cx="288.4" cy="301.8" r="3.3" fill="url(#gb)"/><circle cx="286.4" cy="306.2" r="3.3" fill="url(#gy)"/><circle cx="284.1" cy="310.6" r="3.3" fill="url(#gy)"/><circle cx="280.3" cy="315" r="3.9" fill="url(#gy)"/><circle cx="283.6" cy="316" r="3.5" fill="url(#gy)"/><circle cx="284.3" cy="319.4" r="3.3" fill="url(#gb)"/><circle cx="286.4" cy="323.8" r="3.3" fill="url(#gr)"/><circle cx="287.8" cy="328.2" r="3.3" fill="url(#gr)"/><circle cx="289.8" cy="332.6" r="3.3" fill="url(#gb)"/><circle cx="290.8" cy="337.1" r="3.3" fill="url(#gb)"/><circle cx="292.5" cy="341.5" r="3.3" fill="url(#gm)"/><circle cx="294.7" cy="345.9" r="3.3" fill="url(#gy)"/><circle cx="295.8" cy="350.3" r="3.9" fill="url(#gy)"/><circle cx="299.1" cy="351.3" r="3.5" fill="url(#gy)"/><circle cx="295.6" cy="354.7" r="3.3" fill="url(#gb)"/><circle cx="293.7" cy="359.1" r="3.3" fill="url(#gb)"/><circle cx="290.8" cy="363.5" r="3.3" fill="url(#gm)"/><circle cx="289.3" cy="367.9" r="3.3" fill="url(#gm)"/><circle cx="286.7" cy="372.4" r="3.3" fill="url(#gb)"/><circle cx="286.4" cy="376.8" r="3.3" fill="url(#gm)"/><circle cx="283.4" cy="381.2" r="3.3" fill="url(#gy)"/><circle cx="280.3" cy="385.6" r="3.9" fill="url(#gy)"/><circle cx="283.6" cy="386.6" r="3.5" fill="url(#gy)"/><circle cx="282.8" cy="390" r="3.3" fill="url(#gb)"/><circle cx="286.5" cy="394.4" r="3.3" fill="url(#gb)"/><circle cx="287.5" cy="398.8" r="3.3" fill="url(#gr)"/><circle cx="289" cy="403.2" r="3.3" fill="url(#gm)"/><circle cx="290.8" cy="407.7" r="3.3" fill="url(#gb)"/><circle cx="293.1" cy="412.1" r="3.3" fill="url(#gm)"/><circle cx="295" cy="416.5" r="3.3" fill="url(#gb)"/><circle cx="295.8" cy="420.9" r="3.9" fill="url(#gy)"/><circle cx="299.1" cy="421.9" r="3.5" fill="url(#gb)"/><circle cx="296.3" cy="425.3" r="3.3" fill="url(#gb)"/><circle cx="292.9" cy="429.7" r="3.3" fill="url(#gb)"/><circle cx="291.8" cy="434.1" r="3.3" fill="url(#gm)"/><circle cx="289.4" cy="438.5" r="3.3" fill="url(#gm)"/><circle cx="288.4" cy="443" r="3.3" fill="url(#gm)"/><circle cx="284.7" cy="447.4" r="3.3" fill="url(#gy)"/><circle cx="282.9" cy="451.8" r="3.3" fill="url(#gy)"/><circle cx="280.3" cy="456.2" r="3.9" fill="url(#gy)"/><circle cx="283.6" cy="457.2" r="3.5" fill="url(#gy)"/><circle cx="283.1" cy="460.6" r="3.3" fill="url(#gb)"/><circle cx="285.5" cy="465" r="3.3" fill="url(#gr)"/><circle cx="286.8" cy="469.4" r="3.3" fill="url(#gm)"/><circle cx="289.2" cy="473.9" r="3.3" fill="url(#gb)"/><circle cx="292.4" cy="478.3" r="3.3" fill="url(#gb)"/><circle cx="294.1" cy="482.7" r="3.3" fill="url(#gy)"/><circle cx="295.5" cy="487.1" r="3.3" fill="url(#gb)"/><circle cx="300.6" cy="103.2" r="3.9" fill="url(#gy)"/><circle cx="303.9" cy="104.2" r="3.5" fill="url(#gy)"/><circle cx="303.6" cy="107.6" r="3.3" fill="url(#gb)"/><circle cx="305.8" cy="112" r="3.3" fill="url(#gb)"/><circle cx="308.2" cy="116.4" r="3.3" fill="url(#gm)"/><circle cx="310.5" cy="120.9" r="3.3" fill="url(#gb)"/><circle cx="312.2" cy="125.3" r="3.3" fill="url(#gb)"/><circle cx="313.1" cy="129.7" r="3.3" fill="url(#gm)"/><circle cx="315.8" cy="134.1" r="3.3" fill="url(#gy)"/><circle cx="316.1" cy="138.5" r="3.9" fill="url(#gy)"/><circle cx="319.4" cy="139.5" r="3.5" fill="url(#gy)"/><circle cx="315" cy="142.9" r="3.3" fill="url(#gm)"/><circle cx="313.2" cy="147.3" r="3.3" fill="url(#gr)"/><circle cx="311.5" cy="151.7" r="3.3" fill="url(#gm)"/><circle cx="309.4" cy="156.2" r="3.3" fill="url(#gm)"/><circle cx="307.9" cy="160.6" r="3.3" fill="url(#gm)"/><circle cx="306.7" cy="165" r="3.3" fill="url(#gm)"/><circle cx="304.9" cy="169.4" r="3.3" fill="url(#gy)"/><circle cx="300.6" cy="173.8" r="3.9" fill="url(#gy)"/><circle cx="303.9" cy="174.8" r="3.5" fill="url(#gb)"/><circle cx="304.2" cy="178.2" r="3.3" fill="url(#gb)"/><circle cx="306" cy="182.6" r="3.3" fill="url(#gr)"/><circle cx="308.1" cy="187" r="3.3" fill="url(#gm)"/><circle cx="309.1" cy="191.4" r="3.3" fill="url(#gm)"/><circle cx="312.1" cy="195.9" r="3.3" fill="url(#gb)"/><circle cx="313.8" cy="200.3" r="3.3" fill="url(#gm)"/><circle cx="316.1" cy="204.7" r="3.3" fill="url(#gb)"/><circle cx="316.1" cy="209.1" r="3.9" fill="url(#gy)"/><circle cx="319.4" cy="210.1" r="3.5" fill="url(#gb)"/><circle cx="316" cy="213.5" r="3.3" fill="url(#gm)"/><circle cx="313.3" cy="217.9" r="3.3" fill="url(#gb)"/><circle cx="312.2" cy="222.3" r="3.3" fill="url(#gm)"/><circle cx="310.4" cy="226.8" r="3.3" fill="url(#gm)"/><circle cx="307.6" cy="231.2" r="3.3" fill="url(#gb)"/><circle cx="305.1" cy="235.6" r="3.3" fill="url(#gm)"/><circle cx="304.6" cy="240" r="3.3" fill="url(#gb)"/><circle cx="300.6" cy="244.4" r="3.9" fill="url(#gy)"/><circle cx="303.9" cy="245.4" r="3.5" fill="url(#gb)"/><circle cx="303.2" cy="248.8" r="3.3" fill="url(#gm)"/><circle cx="305.2" cy="253.2" r="3.3" fill="url(#gr)"/><circle cx="307.2" cy="257.6" r="3.3" fill="url(#gm)"/><circle cx="309.4" cy="262.1" r="3.3" fill="url(#gb)"/><circle cx="312.5" cy="266.5" r="3.3" fill="url(#gm)"/><circle cx="314.3" cy="270.9" r="3.3" fill="url(#gy)"/><circle cx="316.5" cy="275.3" r="3.3" fill="url(#gy)"/><circle cx="316.1" cy="279.7" r="3.9" fill="url(#gy)"/><circle cx="319.4" cy="280.7" r="3.5" fill="url(#gy)"/><circle cx="316" cy="284.1" r="3.3" fill="url(#gb)"/><circle cx="314.5" cy="288.5" r="3.3" fill="url(#gr)"/><circle cx="312.1" cy="292.9" r="3.3" fill="url(#gr)"/><circle cx="309.3" cy="297.4" r="3.3" fill="url(#gb)"/><circle cx="307.6" cy="301.8" r="3.3" fill="url(#gm)"/><circle cx="305.3" cy="306.2" r="3.3" fill="url(#gm)"/><circle cx="303.6" cy="310.6" r="3.3" fill="url(#gy)"/><circle cx="300.6" cy="315" r="3.9" fill="url(#gy)"/><circle cx="303.9" cy="316" r="3.5" fill="url(#gb)"/><circle cx="304.5" cy="319.4" r="3.3" fill="url(#gm)"/><circle cx="305.8" cy="323.8" r="3.3" fill="url(#gb)"/><circle cx="307.8" cy="328.2" r="3.3" fill="url(#gr)"/><circle cx="309.2" cy="332.6" r="3.3" fill="url(#gb)"/><circle cx="311.9" cy="337.1" r="3.3" fill="url(#gb)"/><circle cx="313.9" cy="341.5" r="3.3" fill="url(#gm)"/><circle cx="315.8" cy="345.9" r="3.3" fill="url(#gy)"/><circle cx="316.1" cy="350.3" r="3.9" fill="url(#gy)"/><circle cx="319.4" cy="351.3" r="3.5" fill="url(#gb)"/><circle cx="316.5" cy="354.7" r="3.3" fill="url(#gb)"/><circle cx="314.6" cy="359.1" r="3.3" fill="url(#gr)"/><circle cx="312.5" cy="363.5" r="3.3" fill="url(#gr)"/><circle cx="310.7" cy="367.9" r="3.3" fill="url(#gb)"/><circle cx="308.9" cy="372.4" r="3.3" fill="url(#gb)"/><circle cx="305" cy="376.8" r="3.3" fill="url(#gm)"/><circle cx="303.5" cy="381.2" r="3.3" fill="url(#gb)"/><circle cx="300.6" cy="385.6" r="3.9" fill="url(#gy)"/><circle cx="303.9" cy="386.6" r="3.5" fill="url(#gb)"/><circle cx="303.9" cy="390" r="3.3" fill="url(#gm)"/><circle cx="307" cy="394.4" r="3.3" fill="url(#gr)"/><circle cx="307.5" cy="398.8" r="3.3" fill="url(#gr)"/><circle cx="309.5" cy="403.2" r="3.3" fill="url(#gm)"/><circle cx="311.7" cy="407.7" r="3.3" fill="url(#gm)"/><circle cx="314.1" cy="412.1" r="3.3" fill="url(#gy)"/><circle cx="315.7" cy="416.5" r="3.3" fill="url(#gb)"/><circle cx="316.1" cy="420.9" r="3.9" fill="url(#gy)"/><circle cx="319.4" cy="421.9" r="3.5" fill="url(#gb)"/><circle cx="315.5" cy="425.3" r="3.3" fill="url(#gm)"/><circle cx="313.7" cy="429.7" r="3.3" fill="url(#gb)"/><circle cx="310.9" cy="434.1" r="3.3" fill="url(#gr)"/><circle cx="309.2" cy="438.5" r="3.3" fill="url(#gb)"/><circle cx="308.9" cy="443" r="3.3" fill="url(#gb)"/><circle cx="306.1" cy="447.4" r="3.3" fill="url(#gm)"/><circle cx="305" cy="451.8" r="3.3" fill="url(#gy)"/><circle cx="300.6" cy="456.2" r="3.9" fill="url(#gy)"/><circle cx="303.9" cy="457.2" r="3.5" fill="url(#gy)"/><circle cx="303.9" cy="460.6" r="3.3" fill="url(#gb)"/><circle cx="306.2" cy="465" r="3.3" fill="url(#gb)"/><circle cx="307.2" cy="469.4" r="3.3" fill="url(#gr)"/><circle cx="310.2" cy="473.9" r="3.3" fill="url(#gb)"/><circle cx="312.2" cy="478.3" r="3.3" fill="url(#gb)"/><circle cx="313.8" cy="482.7" r="3.3" fill="url(#gm)"/><circle cx="314.9" cy="487.1" r="3.3" fill="url(#gb)"/><circle cx="320.9" cy="103.2" r="3.9" fill="url(#gy)"/><circle cx="324.2" cy="104.2" r="3.5" fill="url(#gb)"/><circle cx="323.6" cy="107.6" r="3.3" fill="url(#gb)"/><circle cx="326.5" cy="112" r="3.3" fill="url(#gb)"/><circle cx="327.9" cy="116.4" r="3.3" fill="url(#gr)"/><circle cx="330.2" cy="120.9" r="3.3" fill="url(#gm)"/><circle cx="332.4" cy="125.3" r="3.3" fill="url(#gb)"/><circle cx="334.2" cy="129.7" r="3.3" fill="url(#gm)"/><circle cx="336.6" cy="134.1" r="3.3" fill="url(#gb)"/><circle cx="336.4" cy="138.5" r="3.9" fill="url(#gy)"/><circle cx="339.7" cy="139.5" r="3.5" fill="url(#gy)"/><circle cx="335.2" cy="142.9" r="3.3" fill="url(#gm)"/><circle cx="333" cy="147.3" r="3.3" fill="url(#gr)"/><circle cx="331.5" cy="151.7" r="3.3" fill="url(#gm)"/><circle cx="330.9" cy="156.2" r="3.3" fill="url(#gm)"/><circle cx="327.6" cy="160.6" r="3.3" fill="url(#gm)"/><circle cx="326.2" cy="165" r="3.3" fill="url(#gy)"/><circle cx="323.7" cy="169.4" r="3.3" fill="url(#gy)"/><circle cx="320.9" cy="173.8" r="3.9" fill="url(#gy)"/><circle cx="324.2" cy="174.8" r="3.5" fill="url(#gy)"/><circle cx="323.9" cy="178.2" r="3.3" fill="url(#gb)"/><circle cx="325.4" cy="182.6" r="3.3" fill="url(#gb)"/><circle cx="329.2" cy="187" r="3.3" fill="url(#gm)"/><circle cx="329.3" cy="191.4" r="3.3" fill="url(#gb)"/><circle cx="333" cy="195.9" r="3.3" fill="url(#gm)"/><circle cx="333.2" cy="200.3" r="3.3" fill="url(#gy)"/><circle cx="336.9" cy="204.7" r="3.3" fill="url(#gb)"/><circle cx="336.4" cy="209.1" r="3.9" fill="url(#gy)"/><circle cx="339.7" cy="210.1" r="3.5" fill="url(#gy)"/><circle cx="335" cy="213.5" r="3.3" fill="url(#gb)"/><circle cx="334.3" cy="217.9" r="3.3" fill="url(#gb)"/><circle cx="332.4" cy="222.3" r="3.3" fill="url(#gm)"/><circle cx="329.4" cy="226.8" r="3.3" fill="url(#gm)"/><circle cx="327.3" cy="231.2" r="3.3" fill="url(#gb)"/><circle cx="327" cy="235.6" r="3.3" fill="url(#gy)"/><circle cx="324.1" cy="240" r="3.3" fill="url(#gb)"/><circle cx="320.9" cy="244.4" r="3.9" fill="url(#gy)"/><circle cx="324.2" cy="245.4" r="3.5" fill="url(#gb)"/><circle cx="323.5" cy="248.8" r="3.3" fill="url(#gm)"/><circle cx="326.8" cy="253.2" r="3.3" fill="url(#gr)"/><circle cx="328" cy="257.6" r="3.3" fill="url(#gm)"/><circle cx="329.8" cy="262.1" r="3.3" fill="url(#gb)"/><circle cx="331.4" cy="266.5" r="3.3" fill="url(#gm)"/><circle cx="334.7" cy="270.9" r="3.3" fill="url(#gy)"/><circle cx="335.4" cy="275.3" r="3.3" fill="url(#gb)"/><circle cx="336.4" cy="279.7" r="3.9" fill="url(#gy)"/><circle cx="339.7" cy="280.7" r="3.5" fill="url(#gy)"/><circle cx="336.8" cy="284.1" r="3.3" fill="url(#gb)"/><circle cx="334" cy="288.5" r="3.3" fill="url(#gb)"/><circle cx="332.5" cy="292.9" r="3.3" fill="url(#gm)"/><circle cx="330.4" cy="297.4" r="3.3" fill="url(#gb)"/><circle cx="327.5" cy="301.8" r="3.3" fill="url(#gb)"/><circle cx="325.6" cy="306.2" r="3.3" fill="url(#gm)"/><circle cx="324.6" cy="310.6" r="3.3" fill="url(#gb)"/><circle cx="320.9" cy="315" r="3.9" fill="url(#gy)"/><circle cx="324.2" cy="316" r="3.5" fill="url(#gy)"/><circle cx="325" cy="319.4" r="3.3" fill="url(#gm)"/><circle cx="325.7" cy="323.8" r="3.3" fill="url(#gr)"/><circle cx="327.2" cy="328.2" r="3.3" fill="url(#gm)"/><circle cx="329.4" cy="332.6" r="3.3" fill="url(#gb)"/><circle cx="332.4" cy="337.1" r="3.3" fill="url(#gb)"/><circle cx="334.8" cy="341.5" r="3.3" fill="url(#gy)"/><circle cx="335.8" cy="345.9" r="3.3" fill="url(#gy)"/><circle cx="336.4" cy="350.3" r="3.9" fill="url(#gy)"/><circle cx="339.7" cy="351.3" r="3.5" fill="url(#gb)"/><circle cx="336.8" cy="354.7" r="3.3" fill="url(#gm)"/><circle cx="333.8" cy="359.1" r="3.3" fill="url(#gb)"/><circle cx="332" cy="363.5" r="3.3" fill="url(#gr)"/><circle cx="330.3" cy="367.9" r="3.3" fill="url(#gb)"/><circle cx="327.4" cy="372.4" r="3.3" fill="url(#gm)"/><circle cx="326.3" cy="376.8" r="3.3" fill="url(#gy)"/><circle cx="325.3" cy="381.2" r="3.3" fill="url(#gb)"/><circle cx="320.9" cy="385.6" r="3.9" fill="url(#gy)"/><circle cx="324.2" cy="386.6" r="3.5" fill="url(#gb)"/><circle cx="325.3" cy="390" r="3.3" fill="url(#gm)"/><circle cx="326.9" cy="394.4" r="3.3" fill="url(#gb)"/><circle cx="328.7" cy="398.8" r="3.3" fill="url(#gr)"/><circle cx="330.4" cy="403.2" r="3.3" fill="url(#gb)"/><circle cx="332.2" cy="407.7" r="3.3" fill="url(#gm)"/><circle cx="334.9" cy="412.1" r="3.3" fill="url(#gy)"/><circle cx="336.3" cy="416.5" r="3.3" fill="url(#gb)"/><circle cx="336.4" cy="420.9" r="3.9" fill="url(#gy)"/><circle cx="339.7" cy="421.9" r="3.5" fill="url(#gy)"/><circle cx="336" cy="425.3" r="3.3" fill="url(#gb)"/><circle cx="334.7" cy="429.7" r="3.3" fill="url(#gb)"/><circle cx="332.4" cy="434.1" r="3.3" fill="url(#gr)"/><circle cx="330.5" cy="438.5" r="3.3" fill="url(#gb)"/><circle cx="328.5" cy="443" r="3.3" fill="url(#gb)"/><circle cx="326.4" cy="447.4" r="3.3" fill="url(#gy)"/><circle cx="324.1" cy="451.8" r="3.3" fill="url(#gb)"/><circle cx="320.9" cy="456.2" r="3.9" fill="url(#gy)"/><circle cx="324.2" cy="457.2" r="3.5" fill="url(#gy)"/><circle cx="324.1" cy="460.6" r="3.3" fill="url(#gb)"/><circle cx="325.7" cy="465" r="3.3" fill="url(#gb)"/><circle cx="328.3" cy="469.4" r="3.3" fill="url(#gr)"/><circle cx="329.6" cy="473.9" r="3.3" fill="url(#gm)"/><circle cx="332.4" cy="478.3" r="3.3" fill="url(#gm)"/><circle cx="334.1" cy="482.7" r="3.3" fill="url(#gm)"/><circle cx="336.4" cy="487.1" r="3.3" fill="url(#gb)"/></g>
<g clip-path="url(#kc1)"><circle cx="418.2" cy="135.8" r="4.7" fill="url(#gm)"/><circle cx="439.9" cy="172.4" r="4.7" fill="url(#gm)"/><circle cx="463" cy="134.3" r="4.9" fill="url(#gm)"/><circle cx="476.8" cy="185.5" r="4.6" fill="url(#gb)"/><circle cx="450.8" cy="177.7" r="4.6" fill="url(#gb)"/><circle cx="498.5" cy="160.4" r="4.6" fill="url(#gr)"/><circle cx="437.7" cy="238.1" r="4.7" fill="url(#gm)"/><circle cx="508.4" cy="166.6" r="5" fill="url(#gb)"/><circle cx="433.2" cy="186.1" r="5" fill="url(#gm)"/><circle cx="472" cy="217" r="5" fill="url(#gy)"/><circle cx="468.4" cy="172.3" r="4.6" fill="url(#gb)"/><circle cx="418.6" cy="199.6" r="5.1" fill="url(#gy)"/><circle cx="482.2" cy="210.8" r="5.2" fill="url(#gb)"/><circle cx="379.1" cy="184.2" r="4.6" fill="url(#gy)"/><circle cx="398.2" cy="231" r="5.2" fill="url(#gb)"/><circle cx="504.5" cy="223.7" r="5.2" fill="url(#gy)"/><circle cx="446.7" cy="274.1" r="5.2" fill="url(#gy)"/><circle cx="449.5" cy="166.8" r="5" fill="url(#gr)"/><circle cx="441.9" cy="168" r="5" fill="url(#gm)"/><circle cx="516.1" cy="177.9" r="4.7" fill="url(#gm)"/><circle cx="504.3" cy="198.5" r="5" fill="url(#gb)"/><circle cx="476.9" cy="224.8" r="4.7" fill="url(#gy)"/><circle cx="513.8" cy="225.6" r="5.3" fill="url(#gb)"/><circle cx="503.3" cy="180.7" r="5.3" fill="url(#gm)"/><circle cx="420.7" cy="218.5" r="4.6" fill="url(#gy)"/><circle cx="386.7" cy="236" r="5" fill="url(#gb)"/><circle cx="454.9" cy="237.5" r="5.2" fill="url(#gy)"/><circle cx="410.6" cy="224.2" r="5" fill="url(#gb)"/><circle cx="393.4" cy="185.5" r="5.1" fill="url(#gy)"/><circle cx="423.1" cy="197.5" r="4.9" fill="url(#gy)"/><circle cx="434.7" cy="256.9" r="4.6" fill="url(#gb)"/><circle cx="395.7" cy="200" r="4.6" fill="url(#gb)"/><circle cx="424.9" cy="147.7" r="4.6" fill="url(#gy)"/><circle cx="420.3" cy="180.1" r="5" fill="url(#gb)"/><circle cx="493.7" cy="166.9" r="4.7" fill="url(#gm)"/><circle cx="394.3" cy="250.7" r="5.2" fill="url(#gy)"/><circle cx="467.7" cy="237.8" r="5.3" fill="url(#gy)"/><circle cx="455.5" cy="199.1" r="4.8" fill="url(#gm)"/><circle cx="484.7" cy="275.5" r="5.2" fill="url(#gr)"/><circle cx="401.8" cy="173.5" r="5.2" fill="url(#gb)"/><circle cx="425.1" cy="275.1" r="5.2" fill="url(#gm)"/><circle cx="421.7" cy="231.5" r="4.9" fill="url(#gb)"/><circle cx="479.1" cy="154.9" r="4.9" fill="url(#gy)"/><circle cx="384.9" cy="180" r="5.1" fill="url(#gb)"/><circle cx="432.5" cy="134.6" r="4.7" fill="url(#gr)"/><circle cx="409.2" cy="238" r="5" fill="url(#gm)"/><circle cx="373.4" cy="212.1" r="5" fill="url(#gb)"/><circle cx="509.5" cy="243.7" r="5" fill="url(#gm)"/><circle cx="388.2" cy="198.1" r="4.5" fill="url(#gb)"/><circle cx="479.8" cy="229.9" r="4.8" fill="url(#gy)"/><circle cx="389.1" cy="223.9" r="4.8" fill="url(#gm)"/><circle cx="418.4" cy="172.5" r="5.2" fill="url(#gr)"/><circle cx="414.6" cy="205.5" r="5.1" fill="url(#gb)"/><circle cx="431.8" cy="262.5" r="4.6" fill="url(#gb)"/><circle cx="393.9" cy="161.4" r="4.8" fill="url(#gm)"/><circle cx="483.6" cy="186.1" r="4.7" fill="url(#gb)"/><circle cx="486.5" cy="179.4" r="5" fill="url(#gm)"/><circle cx="469.9" cy="160.3" r="4.7" fill="url(#gy)"/><circle cx="488.9" cy="205.3" r="4.6" fill="url(#gb)"/><circle cx="483.8" cy="199.9" r="5" fill="url(#gb)"/><circle cx="373.3" cy="223.2" r="5" fill="url(#gr)"/><circle cx="418.1" cy="222.8" r="4.8" fill="url(#gm)"/><circle cx="444.4" cy="231.8" r="4.6" fill="url(#gm)"/><circle cx="469.1" cy="186.3" r="5" fill="url(#gm)"/><circle cx="474.7" cy="159.3" r="4.6" fill="url(#gm)"/><circle cx="392.7" cy="203.9" r="5.2" fill="url(#gb)"/><circle cx="414.5" cy="141.8" r="4.7" fill="url(#gm)"/><circle cx="463.6" cy="218.2" r="4.8" fill="url(#gr)"/><circle cx="387.2" cy="250.3" r="4.6" fill="url(#gb)"/><circle cx="435.4" cy="280.6" r="5.2" fill="url(#gm)"/><circle cx="456.6" cy="255.5" r="4.7" fill="url(#gm)"/><circle cx="443.6" cy="217.4" r="4.8" fill="url(#gb)"/><circle cx="442.6" cy="154.8" r="4.6" fill="url(#gy)"/><circle cx="512.6" cy="186.2" r="4.6" fill="url(#gy)"/><circle cx="447.6" cy="197.2" r="4.7" fill="url(#gy)"/><circle cx="458.6" cy="270.1" r="5.1" fill="url(#gm)"/><circle cx="434.2" cy="155.1" r="4.6" fill="url(#gy)"/><circle cx="473.6" cy="203.4" r="4.6" fill="url(#gr)"/><circle cx="511.2" cy="219" r="4.8" fill="url(#gb)"/><circle cx="479.2" cy="216.6" r="5.2" fill="url(#gr)"/><circle cx="434.7" cy="205.4" r="4.7" fill="url(#gm)"/><circle cx="482.8" cy="146.4" r="5" fill="url(#gy)"/><circle cx="446.3" cy="134.8" r="5.1" fill="url(#gy)"/><circle cx="393.9" cy="210" r="4.9" fill="url(#gm)"/><circle cx="436.1" cy="178.9" r="5.1" fill="url(#gb)"/><circle cx="392.8" cy="166.1" r="4.8" fill="url(#gb)"/><circle cx="502.4" cy="190.5" r="4.7" fill="url(#gy)"/><circle cx="438.7" cy="210.5" r="4.6" fill="url(#gb)"/><circle cx="475.3" cy="210.8" r="5.1" fill="url(#gr)"/><circle cx="466.7" cy="257.5" r="5.1" fill="url(#gb)"/><circle cx="443.7" cy="281.9" r="5.2" fill="url(#gy)"/><circle cx="464.5" cy="191.9" r="4.6" fill="url(#gy)"/><circle cx="394.5" cy="238.2" r="4.6" fill="url(#gb)"/><circle cx="401.1" cy="251.1" r="5.1" fill="url(#gy)"/><circle cx="490.6" cy="185.8" r="4.9" fill="url(#gb)"/><circle cx="424.3" cy="212.1" r="5.1" fill="url(#gy)"/><circle cx="457.2" cy="192.6" r="4.7" fill="url(#gy)"/><circle cx="453.5" cy="146" r="4.7" fill="url(#gm)"/><circle cx="468.6" cy="197.3" r="5.3" fill="url(#gy)"/><circle cx="393.6" cy="261.1" r="4.5" fill="url(#gy)"/><circle cx="521.7" cy="224.1" r="5.2" fill="url(#gb)"/><circle cx="412.7" cy="255.2" r="5.1" fill="url(#gr)"/><circle cx="449" cy="218.4" r="4.9" fill="url(#gr)"/><circle cx="444.3" cy="179.5" r="4.8" fill="url(#gy)"/><circle cx="388.2" cy="211.4" r="4.9" fill="url(#gb)"/><circle cx="406.8" cy="255.9" r="5.2" fill="url(#gy)"/><circle cx="469.9" cy="261.8" r="4.8" fill="url(#gb)"/><circle cx="511.1" cy="180.4" r="5.2" fill="url(#gb)"/><circle cx="458.7" cy="280.9" r="4.7" fill="url(#gm)"/><circle cx="429.3" cy="166" r="4.6" fill="url(#gy)"/><circle cx="468.4" cy="147.1" r="4.6" fill="url(#gb)"/><circle cx="497.2" cy="199.6" r="4.9" fill="url(#gm)"/><circle cx="472.8" cy="166" r="4.8" fill="url(#gr)"/><circle cx="487.7" cy="232" r="5.1" fill="url(#gm)"/><circle cx="441.5" cy="269.9" r="4.5" fill="url(#gy)"/><circle cx="453.4" cy="264.1" r="5.2" fill="url(#gy)"/><circle cx="452.6" cy="225" r="4.6" fill="url(#gy)"/><circle cx="512.4" cy="198.3" r="5" fill="url(#gy)"/><circle cx="454.6" cy="184.4" r="4.8" fill="url(#gb)"/><circle cx="405.1" cy="191" r="4.8" fill="url(#gm)"/><circle cx="507" cy="250.7" r="4.5" fill="url(#gy)"/><circle cx="473.9" cy="242.4" r="4.9" fill="url(#gy)"/><circle cx="499.5" cy="186.6" r="5.2" fill="url(#gy)"/><circle cx="460.4" cy="210.6" r="4.6" fill="url(#gr)"/><circle cx="409.7" cy="249.5" r="5.1" fill="url(#gm)"/><circle cx="375.2" cy="204.6" r="4.9" fill="url(#gy)"/><circle cx="451.2" cy="269.9" r="4.7" fill="url(#gb)"/><circle cx="521" cy="212.1" r="5.2" fill="url(#gr)"/><circle cx="414.5" cy="218.7" r="5" fill="url(#gr)"/><circle cx="417.1" cy="264.1" r="4.8" fill="url(#gb)"/><circle cx="483" cy="236.3" r="5.1" fill="url(#gb)"/><circle cx="474.7" cy="197.6" r="5.2" fill="url(#gm)"/><circle cx="454.6" cy="174" r="4.5" fill="url(#gb)"/><circle cx="384.9" cy="193.2" r="4.6" fill="url(#gy)"/><circle cx="473" cy="192.8" r="4.6" fill="url(#gm)"/><circle cx="394.1" cy="148.8" r="4.7" fill="url(#gm)"/><circle cx="466.5" cy="282.9" r="5.2" fill="url(#gb)"/><circle cx="412.2" cy="178.6" r="5.1" fill="url(#gb)"/><circle cx="469.5" cy="210.3" r="5.2" fill="url(#gr)"/><circle cx="371.1" cy="184.9" r="5.2" fill="url(#gm)"/><circle cx="494.9" cy="180.8" r="4.8" fill="url(#gy)"/><circle cx="491.8" cy="237.5" r="4.8" fill="url(#gm)"/><circle cx="460" cy="186.4" r="4.5" fill="url(#gm)"/><circle cx="518.3" cy="191.3" r="5.1" fill="url(#gb)"/><circle cx="516.5" cy="232.1" r="5.2" fill="url(#gb)"/><circle cx="517.1" cy="216.9" r="5.3" fill="url(#gy)"/><circle cx="442.5" cy="140.3" r="5.2" fill="url(#gb)"/><circle cx="410.8" cy="197.3" r="4.8" fill="url(#gb)"/><circle cx="406" cy="231.3" r="4.6" fill="url(#gb)"/><circle cx="392.1" cy="231.1" r="5" fill="url(#gb)"/><circle cx="508.4" cy="206.1" r="5.2" fill="url(#gr)"/><circle cx="475" cy="250.1" r="5.3" fill="url(#gy)"/><circle cx="414.1" cy="167.5" r="5" fill="url(#gb)"/><circle cx="377.7" cy="218" r="5.3" fill="url(#gb)"/><circle cx="371.4" cy="197.3" r="4.9" fill="url(#gm)"/><circle cx="391.5" cy="192.3" r="5.1" fill="url(#gb)"/><circle cx="435.6" cy="141.8" r="4.6" fill="url(#gy)"/><circle cx="383.4" cy="242.7" r="5.2" fill="url(#gb)"/><circle cx="413.6" cy="268.8" r="4.6" fill="url(#gm)"/><circle cx="383.2" cy="229.1" r="4.7" fill="url(#gy)"/><circle cx="463.1" cy="197.5" r="4.7" fill="url(#gy)"/><circle cx="409.6" cy="263.4" r="4.7" fill="url(#gb)"/><circle cx="478.9" cy="142.2" r="4.9" fill="url(#gm)"/><circle cx="424.8" cy="261.1" r="4.7" fill="url(#gb)"/><circle cx="495" cy="216.3" r="4.6" fill="url(#gm)"/><circle cx="495.5" cy="204" r="4.9" fill="url(#gm)"/><circle cx="453.2" cy="212.8" r="4.7" fill="url(#gb)"/><circle cx="446.3" cy="174.2" r="4.8" fill="url(#gb)"/><circle cx="497.1" cy="262.2" r="4.6" fill="url(#gb)"/><circle cx="407.3" cy="154.9" r="5" fill="url(#gy)"/><circle cx="419.8" cy="193.5" r="4.6" fill="url(#gb)"/><circle cx="440" cy="249.4" r="4.7" fill="url(#gy)"/><circle cx="414" cy="191" r="4.8" fill="url(#gy)"/><circle cx="505.9" cy="237.6" r="4.7" fill="url(#gy)"/><circle cx="407.4" cy="242.6" r="4.8" fill="url(#gr)"/><circle cx="375.5" cy="177.8" r="4.6" fill="url(#gb)"/><circle cx="460.3" cy="158.6" r="4.7" fill="url(#gr)"/><circle cx="428.6" cy="267.7" r="5.3" fill="url(#gm)"/><circle cx="459.1" cy="242.8" r="5" fill="url(#gy)"/><circle cx="502.9" cy="152.8" r="5.3" fill="url(#gb)"/><circle cx="369.2" cy="205.7" r="4.6" fill="url(#gy)"/><circle cx="419.8" cy="243.6" r="5.1" fill="url(#gm)"/><circle cx="469.8" cy="223.2" r="5.2" fill="url(#gm)"/><circle cx="450" cy="192.6" r="5.2" fill="url(#gy)"/><circle cx="402.6" cy="197.7" r="5.1" fill="url(#gb)"/><circle cx="388.9" cy="184.9" r="5.2" fill="url(#gm)"/><circle cx="453.5" cy="276.7" r="4.6" fill="url(#gy)"/><circle cx="501.1" cy="230.7" r="4.8" fill="url(#gb)"/><circle cx="517" cy="203.3" r="5" fill="url(#gb)"/><circle cx="509.9" cy="191.5" r="4.9" fill="url(#gy)"/><circle cx="487.4" cy="192.6" r="5.1" fill="url(#gy)"/><circle cx="406.7" cy="140.4" r="4.6" fill="url(#gr)"/><circle cx="410.5" cy="184.9" r="4.7" fill="url(#gm)"/><circle cx="414.7" cy="243.4" r="4.6" fill="url(#gy)"/><circle cx="463.6" cy="203.5" r="5.1" fill="url(#gr)"/><circle cx="443.6" cy="257.3" r="5.1" fill="url(#gb)"/><circle cx="439.1" cy="146.4" r="5.2" fill="url(#gy)"/><circle cx="432.9" cy="212" r="5.3" fill="url(#gy)"/><circle cx="428.2" cy="140.9" r="5.2" fill="url(#gy)"/><circle cx="396" cy="173.8" r="4.8" fill="url(#gm)"/><circle cx="477.8" cy="261.9" r="5" fill="url(#gb)"/><circle cx="442.7" cy="192.7" r="5.1" fill="url(#gm)"/><circle cx="504.3" cy="174" r="4.7" fill="url(#gm)"/><circle cx="435.1" cy="167" r="4.8" fill="url(#gm)"/><circle cx="462.2" cy="261.7" r="4.7" fill="url(#gm)"/><circle cx="401.6" cy="147" r="5" fill="url(#gy)"/><circle cx="502.8" cy="242.6" r="4.6" fill="url(#gm)"/><circle cx="417.2" cy="185.3" r="5.1" fill="url(#gm)"/><circle cx="457.3" cy="141.4" r="5.3" fill="url(#gy)"/><circle cx="425.7" cy="237.9" r="4.9" fill="url(#gb)"/><circle cx="418.5" cy="210.1" r="4.7" fill="url(#gm)"/><circle cx="423.5" cy="161.3" r="5.3" fill="url(#gr)"/><circle cx="406.5" cy="204.3" r="5.1" fill="url(#gb)"/><circle cx="446.1" cy="225.5" r="5" fill="url(#gb)"/><circle cx="440.1" cy="224.4" r="4.5" fill="url(#gy)"/><circle cx="484.8" cy="250.4" r="4.9" fill="url(#gm)"/><circle cx="465.7" cy="166.6" r="5.3" fill="url(#gb)"/><circle cx="423.2" cy="223.2" r="4.9" fill="url(#gy)"/><circle cx="381" cy="172.1" r="5.3" fill="url(#gb)"/><circle cx="439.3" cy="187.2" r="5" fill="url(#gm)"/><circle cx="411.2" cy="160.7" r="5" fill="url(#gr)"/><circle cx="486.1" cy="167.4" r="5.3" fill="url(#gm)"/><circle cx="426" cy="134.5" r="5" fill="url(#gm)"/><circle cx="425.3" cy="186.9" r="5.2" fill="url(#gm)"/><circle cx="477.7" cy="274.4" r="4.8" fill="url(#gy)"/><circle cx="491.2" cy="223.6" r="4.7" fill="url(#gb)"/><circle cx="437.8" cy="158.6" r="4.8" fill="url(#gr)"/><circle cx="452.5" cy="249.9" r="5" fill="url(#gm)"/><circle cx="490.5" cy="161.2" r="4.7" fill="url(#gr)"/><circle cx="427.1" cy="217.4" r="5.1" fill="url(#gb)"/><circle cx="490.2" cy="211.8" r="5.1" fill="url(#gr)"/><circle cx="497.1" cy="211.3" r="4.9" fill="url(#gb)"/><circle cx="519.7" cy="198" r="4.7" fill="url(#gb)"/><circle cx="525.2" cy="203.8" r="4.8" fill="url(#gb)"/><circle cx="435.2" cy="193.2" r="4.5" fill="url(#gy)"/><circle cx="400" cy="243.3" r="4.7" fill="url(#gy)"/><circle cx="458.1" cy="179.5" r="4.6" fill="url(#gm)"/><circle cx="470.4" cy="251" r="4.6" fill="url(#gr)"/><circle cx="494.9" cy="193" r="5.2" fill="url(#gb)"/><circle cx="406.5" cy="268.2" r="4.8" fill="url(#gb)"/><circle cx="488.3" cy="256.5" r="4.9" fill="url(#gy)"/><circle cx="398.9" cy="152.5" r="5" fill="url(#gm)"/><circle cx="460.9" cy="250.1" r="4.6" fill="url(#gy)"/><circle cx="425.4" cy="171.3" r="4.5" fill="url(#gb)"/><circle cx="418.4" cy="248.3" r="4.8" fill="url(#gy)"/><circle cx="438.3" cy="134.3" r="4.9" fill="url(#gy)"/><circle cx="503.7" cy="167.8" r="5" fill="url(#gb)"/><circle cx="380.2" cy="210.2" r="4.8" fill="url(#gr)"/><circle cx="406.5" cy="165.9" r="4.8" fill="url(#gm)"/><circle cx="428.3" cy="204.3" r="4.9" fill="url(#gm)"/><circle cx="410.1" cy="275.6" r="5.1" fill="url(#gm)"/><circle cx="422" cy="269.4" r="5.2" fill="url(#gb)"/><circle cx="422.2" cy="254.8" r="5" fill="url(#gb)"/><circle cx="452.8" cy="159.2" r="5" fill="url(#gy)"/><circle cx="397.4" cy="180.7" r="4.9" fill="url(#gm)"/><circle cx="519.3" cy="186.6" r="4.9" fill="url(#gy)"/><circle cx="388.3" cy="174.1" r="4.8" fill="url(#gb)"/><circle cx="415.6" cy="148.3" r="5.2" fill="url(#gy)"/><circle cx="409.5" cy="211.1" r="4.6" fill="url(#gm)"/><circle cx="482.1" cy="159.5" r="4.6" fill="url(#gr)"/><circle cx="514.5" cy="238.2" r="5.2" fill="url(#gy)"/><circle cx="433" cy="148.7" r="5" fill="url(#gm)"/><circle cx="467.7" cy="135.7" r="5" fill="url(#gm)"/><circle cx="482.1" cy="225.3" r="5.3" fill="url(#gb)"/><circle cx="497.3" cy="172.2" r="4.8" fill="url(#gb)"/><circle cx="479.8" cy="203.9" r="5.3" fill="url(#gb)"/><circle cx="428.9" cy="280.7" r="5.3" fill="url(#gy)"/><circle cx="398.7" cy="203.6" r="5.1" fill="url(#gy)"/><circle cx="458.7" cy="230" r="4.6" fill="url(#gb)"/><circle cx="512.7" cy="173.2" r="4.7" fill="url(#gm)"/><circle cx="401.7" cy="159.6" r="5.2" fill="url(#gy)"/><circle cx="431.6" cy="248.4" r="5.1" fill="url(#gy)"/><circle cx="491.4" cy="147.6" r="5" fill="url(#gb)"/><circle cx="392.8" cy="153.2" r="4.6" fill="url(#gy)"/><circle cx="476" cy="237" r="4.7" fill="url(#gy)"/><circle cx="430.3" cy="173.8" r="4.9" fill="url(#gm)"/><circle cx="524.2" cy="192.2" r="5.1" fill="url(#gy)"/><circle cx="487.5" cy="217.2" r="4.5" fill="url(#gr)"/><circle cx="399.8" cy="164.9" r="4.6" fill="url(#gy)"/><circle cx="377.8" cy="192.9" r="4.7" fill="url(#gm)"/><circle cx="428.7" cy="193.4" r="5.3" fill="url(#gb)"/><circle cx="397.2" cy="192.9" r="5.1" fill="url(#gy)"/><circle cx="447.4" cy="187.2" r="4.9" fill="url(#gm)"/><circle cx="490.6" cy="198.1" r="5.3" fill="url(#gm)"/><circle cx="427.4" cy="154.6" r="4.5" fill="url(#gy)"/><circle cx="473.6" cy="155.2" r="4.7" fill="url(#gb)"/><circle cx="436.4" cy="267.6" r="5.1" fill="url(#gm)"/><circle cx="466.1" cy="267.5" r="5.2" fill="url(#gm)"/><circle cx="499.3" cy="248.5" r="4.9" fill="url(#gy)"/><circle cx="430.6" cy="198.3" r="4.6" fill="url(#gy)"/><circle cx="430.9" cy="223.5" r="4.5" fill="url(#gr)"/><circle cx="445.9" cy="237.2" r="5.2" fill="url(#gm)"/><circle cx="419.5" cy="154.6" r="4.8" fill="url(#gb)"/><circle cx="388" cy="161.5" r="4.6" fill="url(#gy)"/><circle cx="401.4" cy="212.4" r="4.6" fill="url(#gy)"/><circle cx="509.3" cy="230.4" r="4.6" fill="url(#gm)"/><circle cx="432.7" cy="160.4" r="5.2" fill="url(#gy)"/><circle cx="416.6" cy="274.1" r="5.2" fill="url(#gm)"/><circle cx="445.8" cy="262.8" r="4.7" fill="url(#gm)"/><circle cx="378.8" cy="223.1" r="4.8" fill="url(#gy)"/><circle cx="465.2" cy="241.9" r="4.7" fill="url(#gm)"/><circle cx="477.9" cy="133.5" r="5.1" fill="url(#gm)"/><circle cx="492.5" cy="173.7" r="4.7" fill="url(#gb)"/><circle cx="451.4" cy="283.3" r="5.2" fill="url(#gb)"/><circle cx="468.5" cy="274.9" r="4.9" fill="url(#gy)"/><circle cx="443.5" cy="205.6" r="5.2" fill="url(#gm)"/><circle cx="512.3" cy="210.6" r="5.2" fill="url(#gm)"/><circle cx="505.4" cy="184.3" r="4.9" fill="url(#gm)"/><circle cx="376.4" cy="229.8" r="4.6" fill="url(#gm)"/><circle cx="490.8" cy="263.1" r="5.3" fill="url(#gm)"/><circle cx="497.4" cy="146.9" r="5" fill="url(#gy)"/><circle cx="498.8" cy="222.7" r="4.9" fill="url(#gm)"/><circle cx="418.6" cy="236.3" r="4.8" fill="url(#gb)"/><circle cx="435.8" cy="231.7" r="4.9" fill="url(#gb)"/><circle cx="523.1" cy="216.3" r="4.9" fill="url(#gb)"/><circle cx="412.4" cy="153.4" r="5.3" fill="url(#gy)"/><circle cx="424.6" cy="250.3" r="4.7" fill="url(#gy)"/><circle cx="419.2" cy="140" r="5.3" fill="url(#gy)"/><circle cx="475.7" cy="146.7" r="4.6" fill="url(#gm)"/><circle cx="443.8" cy="129.3" r="4.7" fill="url(#gb)"/><circle cx="471.9" cy="256.6" r="5.1" fill="url(#gr)"/><circle cx="393.7" cy="224.3" r="5" fill="url(#gr)"/><circle cx="496.2" cy="153.9" r="5" fill="url(#gr)"/><circle cx="480.1" cy="190.5" r="4.5" fill="url(#gy)"/><circle cx="402.8" cy="223.2" r="4.8" fill="url(#gr)"/><circle cx="499.5" cy="235.5" r="4.9" fill="url(#gb)"/><circle cx="457.7" cy="165" r="5" fill="url(#gy)"/><circle cx="461.5" cy="223.1" r="4.7" fill="url(#gy)"/><circle cx="382.5" cy="166.8" r="4.6" fill="url(#gr)"/><circle cx="410.9" cy="171.9" r="5.2" fill="url(#gy)"/><circle cx="458.5" cy="154.2" r="5" fill="url(#gb)"/><circle cx="432.6" cy="276.3" r="4.6" fill="url(#gy)"/><circle cx="434.1" cy="218" r="4.6" fill="url(#gr)"/><circle cx="452.7" cy="132.9" r="4.6" fill="url(#gy)"/><circle cx="390.2" cy="216.6" r="4.5" fill="url(#gb)"/><circle cx="419.3" cy="165.5" r="5.3" fill="url(#gr)"/><circle cx="466.8" cy="140.6" r="4.8" fill="url(#gm)"/><circle cx="401.8" cy="185.4" r="4.9" fill="url(#gm)"/><circle cx="501.2" cy="206" r="4.7" fill="url(#gr)"/><circle cx="494.7" cy="230.2" r="4.6" fill="url(#gb)"/><circle cx="441.7" cy="244.8" r="4.6" fill="url(#gy)"/><circle cx="413.9" cy="231" r="4.9" fill="url(#gy)"/><circle cx="472.6" cy="139.5" r="5.1" fill="url(#gm)"/><circle cx="392.1" cy="179.1" r="4.6" fill="url(#gy)"/><circle cx="471.2" cy="178" r="5.2" fill="url(#gy)"/><circle cx="458.5" cy="205.4" r="5.2" fill="url(#gm)"/><circle cx="487.9" cy="141.9" r="4.8" fill="url(#gy)"/><circle cx="384.1" cy="216.4" r="5" fill="url(#gy)"/><circle cx="390.9" cy="256.2" r="4.9" fill="url(#gm)"/><circle cx="435.5" cy="128.1" r="4.6" fill="url(#gb)"/><circle cx="488.2" cy="269.1" r="5.1" fill="url(#gb)"/><circle cx="451.6" cy="154.3" r="4.6" fill="url(#gm)"/><circle cx="462.6" cy="275.5" r="5.1" fill="url(#gy)"/><circle cx="448.9" cy="142.1" r="4.6" fill="url(#gm)"/><circle cx="478.6" cy="242.7" r="5.2" fill="url(#gm)"/><circle cx="428.6" cy="242.5" r="5.2" fill="url(#gm)"/><circle cx="407" cy="178.2" r="4.6" fill="url(#gm)"/><circle cx="450.9" cy="230.2" r="4.6" fill="url(#gb)"/><circle cx="420" cy="204.5" r="4.7" fill="url(#gm)"/><circle cx="451.5" cy="128.6" r="4.6" fill="url(#gb)"/><circle cx="427.9" cy="179" r="4.9" fill="url(#gb)"/><circle cx="440.7" cy="264.1" r="4.7" fill="url(#gm)"/><circle cx="428.4" cy="255.3" r="4.6" fill="url(#gb)"/><circle cx="446.8" cy="146.8" r="4.7" fill="url(#gy)"/><circle cx="440.4" cy="275" r="4.8" fill="url(#gy)"/><circle cx="433" cy="238.4" r="5.3" fill="url(#gm)"/><circle cx="503.6" cy="217" r="5" fill="url(#gb)"/><circle cx="418.5" cy="161.1" r="4.8" fill="url(#gr)"/><circle cx="504.9" cy="161.2" r="4.6" fill="url(#gm)"/><circle cx="462.3" cy="237.8" r="5.3" fill="url(#gb)"/><circle cx="405.5" cy="217.3" r="4.9" fill="url(#gy)"/><circle cx="399.8" cy="256.8" r="4.6" fill="url(#gr)"/><circle cx="482.5" cy="262.2" r="4.9" fill="url(#gm)"/><circle cx="488" cy="244.7" r="4.6" fill="url(#gm)"/><circle cx="495.1" cy="257.5" r="4.6" fill="url(#gb)"/><circle cx="465.9" cy="177.8" r="5" fill="url(#gb)"/><circle cx="479.6" cy="257.4" r="5.1" fill="url(#gy)"/><circle cx="447.8" cy="248.5" r="4.8" fill="url(#gy)"/><circle cx="496.3" cy="244.2" r="4.8" fill="url(#gm)"/><circle cx="451.8" cy="204.4" r="5.1" fill="url(#gm)"/><circle cx="479.3" cy="165.7" r="4.9" fill="url(#gm)"/><circle cx="397.6" cy="217.2" r="4.9" fill="url(#gr)"/><circle cx="411.3" cy="147.2" r="5" fill="url(#gy)"/><circle cx="501.8" cy="256.4" r="5.1" fill="url(#gb)"/><circle cx="401.1" cy="264" r="4.6" fill="url(#gb)"/><circle cx="466.6" cy="229.7" r="4.5" fill="url(#gb)"/><circle cx="460.6" cy="148.2" r="5.3" fill="url(#gb)"/><circle cx="479.7" cy="270.1" r="5.1" fill="url(#gm)"/><circle cx="449.5" cy="257.3" r="5.3" fill="url(#gm)"/><circle cx="490" cy="248.7" r="4.9" fill="url(#gy)"/><circle cx="434.1" cy="243.5" r="4.9" fill="url(#gy)"/><circle cx="381.3" cy="236.6" r="4.8" fill="url(#gm)"/><circle cx="473.5" cy="231.1" r="5" fill="url(#gb)"/><circle cx="506.8" cy="212.6" r="4.5" fill="url(#gy)"/><circle cx="445.8" cy="212.7" r="4.6" fill="url(#gb)"/><circle cx="460" cy="173.5" r="4.6" fill="url(#gm)"/><circle cx="448" cy="159.3" r="5.1" fill="url(#gr)"/><circle cx="401.8" cy="235.8" r="5.1" fill="url(#gb)"/><circle cx="466.1" cy="153.6" r="4.9" fill="url(#gm)"/><circle cx="487.1" cy="153.3" r="4.5" fill="url(#gm)"/><circle cx="384.2" cy="204.3" r="5.1" fill="url(#gy)"/><circle cx="439" cy="199.9" r="5.2" fill="url(#gy)"/><circle cx="475.6" cy="174.1" r="4.6" fill="url(#gm)"/><circle cx="481.5" cy="179.3" r="4.7" fill="url(#gy)"/><circle cx="456.6" cy="128" r="5" fill="url(#gm)"/><circle cx="485.2" cy="173.8" r="5.1" fill="url(#gb)"/><circle cx="450.4" cy="244.9" r="4.8" fill="url(#gy)"/><circle cx="473" cy="267.4" r="5.3" fill="url(#gm)"/><circle cx="457.4" cy="218.2" r="5.2" fill="url(#gb)"/><circle cx="368.9" cy="218.6" r="4.8" fill="url(#gr)"/><circle cx="429.3" cy="229.7" r="4.9" fill="url(#gy)"/><circle cx="390.1" cy="243.7" r="5.2" fill="url(#gm)"/><circle cx="379.4" cy="199.4" r="5.2" fill="url(#gy)"/></g>
<g clip-path="url(#kc2)"><circle cx="603.2" cy="119" r="4.3" fill="url(#gy)"/><circle cx="599.9" cy="119" r="3.7" fill="url(#gy)"/><circle cx="605.4" cy="124" r="4.3" fill="url(#gm)"/><circle cx="607.2" cy="127.7" r="4.3" fill="url(#gr)"/><circle cx="605" cy="126.4" r="3.7" fill="url(#gr)"/><circle cx="610.3" cy="130.7" r="4.3" fill="url(#gm)"/><circle cx="613.1" cy="132.2" r="3.7" fill="url(#gy)"/><circle cx="612.8" cy="134.7" r="4.3" fill="url(#gb)"/><circle cx="609.1" cy="135.3" r="3.7" fill="url(#gm)"/><circle cx="613.8" cy="138.3" r="4.3" fill="url(#gy)"/><circle cx="616.3" cy="143.1" r="4.3" fill="url(#gm)"/><circle cx="618.6" cy="146.5" r="4.3" fill="url(#gb)"/><circle cx="620.4" cy="149.9" r="4.3" fill="url(#gr)"/><circle cx="624.6" cy="148.4" r="3.7" fill="url(#gm)"/><circle cx="623.7" cy="153.7" r="4.3" fill="url(#gm)"/><circle cx="624.8" cy="157.8" r="4.3" fill="url(#gy)"/><circle cx="627.8" cy="159.1" r="3.7" fill="url(#gy)"/><circle cx="625.4" cy="162.1" r="4.3" fill="url(#gm)"/><circle cx="622.7" cy="163.2" r="3.7" fill="url(#gr)"/><circle cx="629.3" cy="165" r="4.3" fill="url(#gr)"/><circle cx="632.7" cy="167.2" r="3.7" fill="url(#gy)"/><circle cx="629.8" cy="168.7" r="4.3" fill="url(#gy)"/><circle cx="627.5" cy="167.5" r="3.7" fill="url(#gb)"/><circle cx="632" cy="173.8" r="4.3" fill="url(#gr)"/><circle cx="629.5" cy="173.6" r="3.7" fill="url(#gb)"/><circle cx="635.2" cy="177" r="4.3" fill="url(#gm)"/><circle cx="635.8" cy="181.6" r="4.3" fill="url(#gb)"/><circle cx="640.1" cy="181.9" r="3.7" fill="url(#gy)"/><circle cx="637" cy="185.6" r="4.3" fill="url(#gy)"/><circle cx="640.9" cy="186.1" r="3.7" fill="url(#gb)"/><circle cx="639.3" cy="190.2" r="4.3" fill="url(#gy)"/><circle cx="642.3" cy="191.5" r="3.7" fill="url(#gm)"/><circle cx="640.8" cy="193.4" r="4.3" fill="url(#gb)"/><circle cx="644" cy="195.3" r="3.7" fill="url(#gy)"/><circle cx="641.8" cy="198.4" r="4.3" fill="url(#gr)"/><circle cx="645.8" cy="197.8" r="3.7" fill="url(#gy)"/><circle cx="642" cy="202.4" r="4.3" fill="url(#gr)"/><circle cx="646.7" cy="202.2" r="3.7" fill="url(#gy)"/><circle cx="642.2" cy="206.5" r="4.3" fill="url(#gy)"/><circle cx="639.2" cy="207.4" r="3.7" fill="url(#gb)"/><circle cx="642.2" cy="211.1" r="4.3" fill="url(#gm)"/><circle cx="638.9" cy="211.8" r="3.7" fill="url(#gm)"/><circle cx="642.4" cy="214.9" r="4.3" fill="url(#gb)"/><circle cx="637.9" cy="215.7" r="3.7" fill="url(#gb)"/><circle cx="640.9" cy="219.5" r="4.3" fill="url(#gy)"/><circle cx="637.5" cy="220.7" r="3.7" fill="url(#gr)"/><circle cx="638" cy="223.6" r="4.3" fill="url(#gr)"/><circle cx="635.2" cy="224.2" r="3.7" fill="url(#gr)"/><circle cx="636.8" cy="227.2" r="4.3" fill="url(#gm)"/><circle cx="634.6" cy="227" r="3.7" fill="url(#gb)"/><circle cx="636.3" cy="230.8" r="4.3" fill="url(#gb)"/><circle cx="639" cy="232.4" r="3.7" fill="url(#gb)"/><circle cx="634.2" cy="236.2" r="4.3" fill="url(#gy)"/><circle cx="630" cy="236.4" r="3.7" fill="url(#gm)"/><circle cx="633.1" cy="239.7" r="4.3" fill="url(#gy)"/><circle cx="628.7" cy="239.6" r="3.7" fill="url(#gb)"/><circle cx="630.9" cy="244.1" r="4.3" fill="url(#gy)"/><circle cx="633.9" cy="244.7" r="3.7" fill="url(#gm)"/><circle cx="627.6" cy="246.5" r="4.3" fill="url(#gr)"/><circle cx="632.2" cy="246.7" r="3.7" fill="url(#gr)"/><circle cx="626.1" cy="251.3" r="4.3" fill="url(#gm)"/><circle cx="623.8" cy="254.4" r="4.3" fill="url(#gy)"/><circle cx="627.1" cy="256" r="3.7" fill="url(#gb)"/><circle cx="623.2" cy="258.3" r="4.3" fill="url(#gy)"/><circle cx="619.4" cy="262.7" r="4.3" fill="url(#gb)"/><circle cx="617.6" cy="265.8" r="4.3" fill="url(#gy)"/><circle cx="614.7" cy="267.6" r="3.7" fill="url(#gy)"/><circle cx="616.7" cy="270.3" r="4.3" fill="url(#gr)"/><circle cx="612.1" cy="268.9" r="3.7" fill="url(#gb)"/><circle cx="613.6" cy="274" r="4.3" fill="url(#gb)"/><circle cx="610.9" cy="277.3" r="4.3" fill="url(#gb)"/><circle cx="608.4" cy="278.5" r="3.7" fill="url(#gb)"/><circle cx="608.7" cy="281.3" r="4.3" fill="url(#gy)"/><circle cx="606.5" cy="282.1" r="3.7" fill="url(#gm)"/><circle cx="607.5" cy="286.2" r="4.3" fill="url(#gy)"/><circle cx="604" cy="287.2" r="3.7" fill="url(#gb)"/><circle cx="605.4" cy="289" r="4.3" fill="url(#gb)"/><circle cx="633.9" cy="120.3" r="4.3" fill="url(#gy)"/><circle cx="637" cy="119.5" r="3.7" fill="url(#gb)"/><circle cx="636.3" cy="122.9" r="4.3" fill="url(#gr)"/><circle cx="632.9" cy="123.7" r="3.7" fill="url(#gy)"/><circle cx="637.2" cy="126.9" r="4.3" fill="url(#gb)"/><circle cx="639.3" cy="130.3" r="4.3" fill="url(#gy)"/><circle cx="641.5" cy="135.6" r="4.3" fill="url(#gr)"/><circle cx="638.2" cy="133.4" r="3.7" fill="url(#gy)"/><circle cx="644.7" cy="139.2" r="4.3" fill="url(#gm)"/><circle cx="645.2" cy="143.1" r="4.3" fill="url(#gb)"/><circle cx="649.5" cy="142.3" r="3.7" fill="url(#gm)"/><circle cx="649" cy="146.8" r="4.3" fill="url(#gr)"/><circle cx="651.6" cy="147.8" r="3.7" fill="url(#gb)"/><circle cx="649.4" cy="149.9" r="4.3" fill="url(#gy)"/><circle cx="652.6" cy="153.5" r="4.3" fill="url(#gr)"/><circle cx="656.7" cy="152.2" r="3.7" fill="url(#gb)"/><circle cx="653.8" cy="157.5" r="4.3" fill="url(#gr)"/><circle cx="657.1" cy="162.2" r="4.3" fill="url(#gb)"/><circle cx="660.3" cy="162.5" r="3.7" fill="url(#gy)"/><circle cx="659.1" cy="165.7" r="4.3" fill="url(#gy)"/><circle cx="655.6" cy="166.4" r="3.7" fill="url(#gy)"/><circle cx="660" cy="170" r="4.3" fill="url(#gm)"/><circle cx="657.6" cy="170.4" r="3.7" fill="url(#gb)"/><circle cx="661.3" cy="173.8" r="4.3" fill="url(#gy)"/><circle cx="658.8" cy="174" r="3.7" fill="url(#gy)"/><circle cx="663.5" cy="177.5" r="4.3" fill="url(#gy)"/><circle cx="667.7" cy="177.2" r="3.7" fill="url(#gm)"/><circle cx="665.5" cy="181.4" r="4.3" fill="url(#gr)"/><circle cx="669.6" cy="182.4" r="3.7" fill="url(#gy)"/><circle cx="666.8" cy="185.3" r="4.3" fill="url(#gm)"/><circle cx="669.4" cy="189.9" r="4.3" fill="url(#gb)"/><circle cx="665.9" cy="188.2" r="3.7" fill="url(#gr)"/><circle cx="670" cy="192.8" r="4.3" fill="url(#gm)"/><circle cx="674.7" cy="194.7" r="3.7" fill="url(#gm)"/><circle cx="672.7" cy="197.2" r="4.3" fill="url(#gy)"/><circle cx="672.8" cy="202.7" r="4.3" fill="url(#gb)"/><circle cx="673.7" cy="205.9" r="4.3" fill="url(#gr)"/><circle cx="669.3" cy="207.8" r="3.7" fill="url(#gr)"/><circle cx="672.7" cy="210.3" r="4.3" fill="url(#gm)"/><circle cx="671.2" cy="214.7" r="4.3" fill="url(#gy)"/><circle cx="671.2" cy="218.7" r="4.3" fill="url(#gm)"/><circle cx="669.4" cy="224" r="4.3" fill="url(#gb)"/><circle cx="665.6" cy="222.3" r="3.7" fill="url(#gy)"/><circle cx="667.5" cy="227" r="4.3" fill="url(#gb)"/><circle cx="671" cy="226.8" r="3.7" fill="url(#gr)"/><circle cx="666.1" cy="230.8" r="4.3" fill="url(#gr)"/><circle cx="663.3" cy="234.8" r="4.3" fill="url(#gm)"/><circle cx="667.8" cy="234.9" r="3.7" fill="url(#gb)"/><circle cx="661.5" cy="240.2" r="4.3" fill="url(#gr)"/><circle cx="659.5" cy="243.9" r="4.3" fill="url(#gy)"/><circle cx="657.1" cy="243.6" r="3.7" fill="url(#gr)"/><circle cx="656.9" cy="246.8" r="4.3" fill="url(#gr)"/><circle cx="661.3" cy="247.7" r="3.7" fill="url(#gm)"/><circle cx="655.3" cy="251.3" r="4.3" fill="url(#gb)"/><circle cx="653.1" cy="251.6" r="3.7" fill="url(#gr)"/><circle cx="653" cy="254.4" r="4.3" fill="url(#gr)"/><circle cx="651.9" cy="258.5" r="4.3" fill="url(#gm)"/><circle cx="655.4" cy="259" r="3.7" fill="url(#gr)"/><circle cx="649.7" cy="262" r="4.3" fill="url(#gy)"/><circle cx="654.2" cy="262.4" r="3.7" fill="url(#gb)"/><circle cx="648.5" cy="266.8" r="4.3" fill="url(#gm)"/><circle cx="646.8" cy="270.2" r="4.3" fill="url(#gy)"/><circle cx="650" cy="271.8" r="3.7" fill="url(#gr)"/><circle cx="643" cy="273.4" r="4.3" fill="url(#gb)"/><circle cx="641.6" cy="278.5" r="4.3" fill="url(#gr)"/><circle cx="637.9" cy="276.8" r="3.7" fill="url(#gm)"/><circle cx="639.1" cy="281.4" r="4.3" fill="url(#gy)"/><circle cx="635.4" cy="280.7" r="3.7" fill="url(#gy)"/><circle cx="638.3" cy="285.4" r="4.3" fill="url(#gb)"/><circle cx="634.1" cy="284.6" r="3.7" fill="url(#gm)"/><circle cx="635.8" cy="289.6" r="4.3" fill="url(#gy)"/><circle cx="631.9" cy="288.3" r="3.7" fill="url(#gy)"/><circle cx="661.6" cy="120.1" r="4.3" fill="url(#gm)"/><circle cx="665.1" cy="123.6" r="4.3" fill="url(#gb)"/><circle cx="666.1" cy="127.1" r="4.3" fill="url(#gy)"/><circle cx="668.7" cy="130.6" r="4.3" fill="url(#gr)"/><circle cx="672.7" cy="132.8" r="3.7" fill="url(#gy)"/><circle cx="670.7" cy="135.6" r="4.3" fill="url(#gm)"/><circle cx="668.3" cy="134" r="3.7" fill="url(#gy)"/><circle cx="672.7" cy="138.4" r="4.3" fill="url(#gb)"/><circle cx="676.7" cy="138.7" r="3.7" fill="url(#gm)"/><circle cx="674.4" cy="142.8" r="4.3" fill="url(#gy)"/><circle cx="677.9" cy="147.1" r="4.3" fill="url(#gy)"/><circle cx="674.3" cy="147.1" r="3.7" fill="url(#gm)"/><circle cx="679.4" cy="150.8" r="4.3" fill="url(#gy)"/><circle cx="675.6" cy="148.6" r="3.7" fill="url(#gy)"/><circle cx="681.4" cy="153.4" r="4.3" fill="url(#gr)"/><circle cx="685" cy="152.5" r="3.7" fill="url(#gm)"/><circle cx="683.8" cy="157.6" r="4.3" fill="url(#gy)"/><circle cx="687" cy="156.2" r="3.7" fill="url(#gr)"/><circle cx="684.5" cy="162.3" r="4.3" fill="url(#gy)"/><circle cx="682.3" cy="159.9" r="3.7" fill="url(#gb)"/><circle cx="688.4" cy="165.7" r="4.3" fill="url(#gb)"/><circle cx="691.5" cy="166" r="3.7" fill="url(#gm)"/><circle cx="690.6" cy="169.7" r="4.3" fill="url(#gb)"/><circle cx="686" cy="169.6" r="3.7" fill="url(#gb)"/><circle cx="691.2" cy="172.9" r="4.3" fill="url(#gy)"/><circle cx="688.5" cy="173.9" r="3.7" fill="url(#gy)"/><circle cx="694.3" cy="177.7" r="4.3" fill="url(#gr)"/><circle cx="689.4" cy="179" r="3.7" fill="url(#gm)"/><circle cx="695.1" cy="180.8" r="4.3" fill="url(#gm)"/><circle cx="691.9" cy="181.6" r="3.7" fill="url(#gm)"/><circle cx="697.8" cy="185.9" r="4.3" fill="url(#gb)"/><circle cx="700.4" cy="185.6" r="3.7" fill="url(#gy)"/><circle cx="697.7" cy="189.9" r="4.3" fill="url(#gy)"/><circle cx="694.7" cy="191.3" r="3.7" fill="url(#gy)"/><circle cx="700.4" cy="193.9" r="4.3" fill="url(#gy)"/><circle cx="702" cy="197.3" r="4.3" fill="url(#gb)"/><circle cx="705" cy="198.8" r="3.7" fill="url(#gy)"/><circle cx="702" cy="201.9" r="4.3" fill="url(#gr)"/><circle cx="698.6" cy="202.2" r="3.7" fill="url(#gb)"/><circle cx="702.7" cy="206" r="4.3" fill="url(#gr)"/><circle cx="706.1" cy="204.6" r="3.7" fill="url(#gy)"/><circle cx="702.7" cy="210.3" r="4.3" fill="url(#gy)"/><circle cx="701" cy="215.8" r="4.3" fill="url(#gm)"/><circle cx="703.7" cy="214.6" r="3.7" fill="url(#gy)"/><circle cx="698.5" cy="219.9" r="4.3" fill="url(#gb)"/><circle cx="698.8" cy="223.4" r="4.3" fill="url(#gy)"/><circle cx="697.5" cy="227" r="4.3" fill="url(#gr)"/><circle cx="693.7" cy="229.2" r="3.7" fill="url(#gy)"/><circle cx="695.4" cy="231.9" r="4.3" fill="url(#gm)"/><circle cx="699" cy="230" r="3.7" fill="url(#gr)"/><circle cx="693.4" cy="235.7" r="4.3" fill="url(#gb)"/><circle cx="690.5" cy="239" r="4.3" fill="url(#gy)"/><circle cx="687.4" cy="238.9" r="3.7" fill="url(#gr)"/><circle cx="689.5" cy="243.7" r="4.3" fill="url(#gy)"/><circle cx="692.9" cy="242.6" r="3.7" fill="url(#gb)"/><circle cx="687" cy="247.7" r="4.3" fill="url(#gb)"/><circle cx="684.2" cy="246.8" r="3.7" fill="url(#gr)"/><circle cx="684.1" cy="251.5" r="4.3" fill="url(#gr)"/><circle cx="688" cy="250" r="3.7" fill="url(#gb)"/><circle cx="684.2" cy="255.1" r="4.3" fill="url(#gm)"/><circle cx="686.4" cy="253.9" r="3.7" fill="url(#gb)"/><circle cx="681.1" cy="259.1" r="4.3" fill="url(#gy)"/><circle cx="684" cy="258.4" r="3.7" fill="url(#gy)"/><circle cx="678.9" cy="262.5" r="4.3" fill="url(#gm)"/><circle cx="682.2" cy="263.1" r="3.7" fill="url(#gb)"/><circle cx="675.9" cy="266.3" r="4.3" fill="url(#gy)"/><circle cx="680.1" cy="264.8" r="3.7" fill="url(#gr)"/><circle cx="674" cy="270.1" r="4.3" fill="url(#gb)"/><circle cx="672.5" cy="274.6" r="4.3" fill="url(#gr)"/><circle cx="669.8" cy="278.2" r="4.3" fill="url(#gm)"/><circle cx="674.4" cy="277.2" r="3.7" fill="url(#gr)"/><circle cx="668.1" cy="282.3" r="4.3" fill="url(#gb)"/><circle cx="672.2" cy="282.3" r="3.7" fill="url(#gr)"/><circle cx="666.4" cy="284.8" r="4.3" fill="url(#gb)"/><circle cx="663.3" cy="285.8" r="3.7" fill="url(#gy)"/><circle cx="665.1" cy="289" r="4.3" fill="url(#gy)"/><circle cx="689" cy="120.1" r="4.3" fill="url(#gy)"/><circle cx="686" cy="121.6" r="3.7" fill="url(#gy)"/><circle cx="691.6" cy="123.6" r="4.3" fill="url(#gr)"/><circle cx="693.8" cy="127.1" r="4.3" fill="url(#gb)"/><circle cx="697.5" cy="127.6" r="3.7" fill="url(#gy)"/><circle cx="696.4" cy="131.2" r="4.3" fill="url(#gb)"/><circle cx="691.9" cy="131.5" r="3.7" fill="url(#gr)"/><circle cx="697.6" cy="134.7" r="4.3" fill="url(#gm)"/><circle cx="701" cy="135" r="3.7" fill="url(#gr)"/><circle cx="699.2" cy="138.3" r="4.3" fill="url(#gy)"/><circle cx="696.2" cy="137.7" r="3.7" fill="url(#gy)"/><circle cx="702.4" cy="142.7" r="4.3" fill="url(#gb)"/><circle cx="699.3" cy="141.5" r="3.7" fill="url(#gb)"/><circle cx="705.4" cy="147" r="4.3" fill="url(#gr)"/><circle cx="701.4" cy="145.8" r="3.7" fill="url(#gb)"/><circle cx="705.4" cy="150.3" r="4.3" fill="url(#gm)"/><circle cx="710.2" cy="149.4" r="3.7" fill="url(#gy)"/><circle cx="707.8" cy="153.7" r="4.3" fill="url(#gy)"/><circle cx="711.1" cy="157.8" r="4.3" fill="url(#gm)"/><circle cx="713" cy="161.7" r="4.3" fill="url(#gb)"/><circle cx="709.4" cy="161.3" r="3.7" fill="url(#gy)"/><circle cx="714.9" cy="165" r="4.3" fill="url(#gy)"/><circle cx="710.9" cy="165" r="3.7" fill="url(#gy)"/><circle cx="717.4" cy="170" r="4.3" fill="url(#gr)"/><circle cx="720" cy="169.8" r="3.7" fill="url(#gm)"/><circle cx="719" cy="173.2" r="4.3" fill="url(#gm)"/><circle cx="721.1" cy="178.2" r="4.3" fill="url(#gb)"/><circle cx="716.8" cy="178.5" r="3.7" fill="url(#gm)"/><circle cx="721.9" cy="181.9" r="4.3" fill="url(#gy)"/><circle cx="718.8" cy="182" r="3.7" fill="url(#gm)"/><circle cx="725.1" cy="185.3" r="4.3" fill="url(#gy)"/><circle cx="726.2" cy="189.8" r="4.3" fill="url(#gb)"/><circle cx="721.8" cy="189.3" r="3.7" fill="url(#gy)"/><circle cx="727.8" cy="193.2" r="4.3" fill="url(#gr)"/><circle cx="723.1" cy="192.4" r="3.7" fill="url(#gy)"/><circle cx="726.9" cy="197.5" r="4.3" fill="url(#gm)"/><circle cx="727.9" cy="202" r="4.3" fill="url(#gy)"/><circle cx="732.6" cy="200.8" r="3.7" fill="url(#gb)"/><circle cx="729.6" cy="206.4" r="4.3" fill="url(#gm)"/><circle cx="733.1" cy="205.6" r="3.7" fill="url(#gy)"/><circle cx="729.7" cy="210.6" r="4.3" fill="url(#gb)"/><circle cx="725.5" cy="209.8" r="3.7" fill="url(#gm)"/><circle cx="728.8" cy="214.3" r="4.3" fill="url(#gy)"/><circle cx="725.5" cy="220" r="4.3" fill="url(#gr)"/><circle cx="723.3" cy="219.9" r="3.7" fill="url(#gm)"/><circle cx="724.4" cy="223" r="4.3" fill="url(#gm)"/><circle cx="728.7" cy="222.9" r="3.7" fill="url(#gr)"/><circle cx="722.4" cy="227.4" r="4.3" fill="url(#gy)"/><circle cx="727.1" cy="227.4" r="3.7" fill="url(#gm)"/><circle cx="722.7" cy="231.6" r="4.3" fill="url(#gm)"/><circle cx="717.8" cy="229.6" r="3.7" fill="url(#gy)"/><circle cx="719.1" cy="235.7" r="4.3" fill="url(#gy)"/><circle cx="723.3" cy="233.7" r="3.7" fill="url(#gb)"/><circle cx="717.9" cy="240.2" r="4.3" fill="url(#gb)"/><circle cx="720.9" cy="238.5" r="3.7" fill="url(#gb)"/><circle cx="716.1" cy="244" r="4.3" fill="url(#gr)"/><circle cx="714.1" cy="246.7" r="4.3" fill="url(#gm)"/><circle cx="717.2" cy="248.3" r="3.7" fill="url(#gy)"/><circle cx="712.1" cy="251.5" r="4.3" fill="url(#gy)"/><circle cx="714.9" cy="251" r="3.7" fill="url(#gy)"/><circle cx="710.2" cy="255.6" r="4.3" fill="url(#gm)"/><circle cx="714" cy="255.9" r="3.7" fill="url(#gm)"/><circle cx="709.2" cy="258.1" r="4.3" fill="url(#gm)"/><circle cx="705.7" cy="261.9" r="4.3" fill="url(#gm)"/><circle cx="702.8" cy="263.1" r="3.7" fill="url(#gy)"/><circle cx="704.7" cy="266.1" r="4.3" fill="url(#gr)"/><circle cx="700.9" cy="265.1" r="3.7" fill="url(#gm)"/><circle cx="702.1" cy="269.8" r="4.3" fill="url(#gb)"/><circle cx="697.7" cy="268.6" r="3.7" fill="url(#gy)"/><circle cx="700" cy="273.3" r="4.3" fill="url(#gy)"/><circle cx="697.9" cy="278.4" r="4.3" fill="url(#gy)"/><circle cx="694.3" cy="278.2" r="3.7" fill="url(#gr)"/><circle cx="694.7" cy="282.6" r="4.3" fill="url(#gy)"/><circle cx="692.4" cy="279.9" r="3.7" fill="url(#gb)"/><circle cx="693.6" cy="285" r="4.3" fill="url(#gb)"/><circle cx="690" cy="286.4" r="3.7" fill="url(#gr)"/><circle cx="691.3" cy="289.6" r="4.3" fill="url(#gb)"/><circle cx="714.8" cy="120" r="4.3" fill="url(#gy)"/><circle cx="719.6" cy="118.1" r="3.7" fill="url(#gb)"/><circle cx="716.8" cy="122.8" r="4.3" fill="url(#gb)"/><circle cx="719" cy="127.8" r="4.3" fill="url(#gr)"/><circle cx="715.8" cy="126.1" r="3.7" fill="url(#gy)"/><circle cx="721.4" cy="130.7" r="4.3" fill="url(#gm)"/><circle cx="719.2" cy="132.8" r="3.7" fill="url(#gy)"/><circle cx="724.6" cy="135.3" r="4.3" fill="url(#gb)"/><circle cx="726.8" cy="138.3" r="4.3" fill="url(#gm)"/><circle cx="730.1" cy="137.5" r="3.7" fill="url(#gm)"/><circle cx="727.6" cy="142.4" r="4.3" fill="url(#gb)"/><circle cx="729.5" cy="146.8" r="4.3" fill="url(#gy)"/><circle cx="726.3" cy="147.1" r="3.7" fill="url(#gb)"/><circle cx="731.3" cy="150.4" r="4.3" fill="url(#gr)"/><circle cx="729.5" cy="150" r="3.7" fill="url(#gb)"/><circle cx="733.9" cy="154.2" r="4.3" fill="url(#gm)"/><circle cx="731.1" cy="153.6" r="3.7" fill="url(#gm)"/><circle cx="735.4" cy="158.4" r="4.3" fill="url(#gb)"/><circle cx="739.6" cy="156.5" r="3.7" fill="url(#gy)"/><circle cx="737.4" cy="162.4" r="4.3" fill="url(#gy)"/><circle cx="740.5" cy="165.4" r="4.3" fill="url(#gy)"/><circle cx="736.6" cy="164.6" r="3.7" fill="url(#gy)"/><circle cx="742.4" cy="168.9" r="4.3" fill="url(#gy)"/><circle cx="745.5" cy="169.9" r="3.7" fill="url(#gy)"/><circle cx="745.5" cy="174.2" r="4.3" fill="url(#gy)"/><circle cx="741.6" cy="174.7" r="3.7" fill="url(#gb)"/><circle cx="747.1" cy="178.2" r="4.3" fill="url(#gm)"/><circle cx="748.7" cy="180.6" r="4.3" fill="url(#gy)"/><circle cx="744.6" cy="181.2" r="3.7" fill="url(#gm)"/><circle cx="749.5" cy="185.3" r="4.3" fill="url(#gm)"/><circle cx="752.1" cy="189.2" r="4.3" fill="url(#gb)"/><circle cx="753.8" cy="192.8" r="4.3" fill="url(#gm)"/><circle cx="749.2" cy="193" r="3.7" fill="url(#gy)"/><circle cx="753.6" cy="197.3" r="4.3" fill="url(#gr)"/><circle cx="753.9" cy="202.9" r="4.3" fill="url(#gm)"/><circle cx="758.2" cy="203.1" r="3.7" fill="url(#gy)"/><circle cx="754.8" cy="207.2" r="4.3" fill="url(#gb)"/><circle cx="751.6" cy="208" r="3.7" fill="url(#gy)"/><circle cx="754.4" cy="211.3" r="4.3" fill="url(#gy)"/><circle cx="758.8" cy="209.5" r="3.7" fill="url(#gm)"/><circle cx="754.6" cy="215.3" r="4.3" fill="url(#gb)"/><circle cx="757.6" cy="214.6" r="3.7" fill="url(#gy)"/><circle cx="753.6" cy="219.1" r="4.3" fill="url(#gr)"/><circle cx="756.2" cy="219.7" r="3.7" fill="url(#gr)"/><circle cx="750.8" cy="223.7" r="4.3" fill="url(#gr)"/><circle cx="747.4" cy="224.4" r="3.7" fill="url(#gr)"/><circle cx="749" cy="227" r="4.3" fill="url(#gm)"/><circle cx="747.4" cy="231.1" r="4.3" fill="url(#gy)"/><circle cx="751.7" cy="232.2" r="3.7" fill="url(#gy)"/><circle cx="746.5" cy="235.5" r="4.3" fill="url(#gy)"/><circle cx="743.1" cy="235.7" r="3.7" fill="url(#gr)"/><circle cx="744.3" cy="240" r="4.3" fill="url(#gb)"/><circle cx="748.2" cy="240.4" r="3.7" fill="url(#gm)"/><circle cx="742.9" cy="243.1" r="4.3" fill="url(#gy)"/><circle cx="740.5" cy="247" r="4.3" fill="url(#gb)"/><circle cx="737.2" cy="250.6" r="4.3" fill="url(#gm)"/><circle cx="736.6" cy="254.6" r="4.3" fill="url(#gb)"/><circle cx="733" cy="256" r="3.7" fill="url(#gb)"/><circle cx="733.7" cy="258.2" r="4.3" fill="url(#gy)"/><circle cx="737.2" cy="257.4" r="3.7" fill="url(#gb)"/><circle cx="732" cy="262.1" r="4.3" fill="url(#gr)"/><circle cx="729.2" cy="266" r="4.3" fill="url(#gb)"/><circle cx="732.9" cy="268.2" r="3.7" fill="url(#gb)"/><circle cx="727.1" cy="270.1" r="4.3" fill="url(#gy)"/><circle cx="731.8" cy="268.4" r="3.7" fill="url(#gy)"/><circle cx="725.3" cy="274.6" r="4.3" fill="url(#gr)"/><circle cx="724.1" cy="278.4" r="4.3" fill="url(#gr)"/><circle cx="720.1" cy="277.1" r="3.7" fill="url(#gr)"/><circle cx="720.8" cy="281.6" r="4.3" fill="url(#gm)"/><circle cx="724.6" cy="281.1" r="3.7" fill="url(#gm)"/><circle cx="720.2" cy="285" r="4.3" fill="url(#gb)"/><circle cx="723.5" cy="287.3" r="3.7" fill="url(#gr)"/><circle cx="717.6" cy="290" r="4.3" fill="url(#gy)"/><circle cx="714.3" cy="288.8" r="3.7" fill="url(#gb)"/><circle cx="743.7" cy="119.9" r="4.3" fill="url(#gy)"/><circle cx="746.4" cy="122.9" r="4.3" fill="url(#gy)"/><circle cx="748.6" cy="127" r="4.3" fill="url(#gr)"/><circle cx="752.4" cy="128.5" r="3.7" fill="url(#gm)"/><circle cx="751.6" cy="130.5" r="4.3" fill="url(#gm)"/><circle cx="747.8" cy="131.9" r="3.7" fill="url(#gb)"/><circle cx="752.8" cy="135" r="4.3" fill="url(#gy)"/><circle cx="756.3" cy="136.5" r="3.7" fill="url(#gy)"/><circle cx="755.7" cy="139.1" r="4.3" fill="url(#gm)"/><circle cx="751.3" cy="138.9" r="3.7" fill="url(#gr)"/><circle cx="757.1" cy="142.7" r="4.3" fill="url(#gr)"/><circle cx="754.4" cy="141.2" r="3.7" fill="url(#gb)"/><circle cx="759.7" cy="147" r="4.3" fill="url(#gy)"/><circle cx="756.6" cy="144.5" r="3.7" fill="url(#gm)"/><circle cx="761.2" cy="150.9" r="4.3" fill="url(#gr)"/><circle cx="765.6" cy="151.6" r="3.7" fill="url(#gy)"/><circle cx="764" cy="153.8" r="4.3" fill="url(#gm)"/><circle cx="767.6" cy="152.3" r="3.7" fill="url(#gb)"/><circle cx="765.9" cy="157.4" r="4.3" fill="url(#gb)"/><circle cx="769.7" cy="156" r="3.7" fill="url(#gy)"/><circle cx="768.4" cy="161.3" r="4.3" fill="url(#gr)"/><circle cx="770.9" cy="163.8" r="3.7" fill="url(#gb)"/><circle cx="770.6" cy="165.6" r="4.3" fill="url(#gy)"/><circle cx="772.8" cy="164.7" r="3.7" fill="url(#gy)"/><circle cx="771.4" cy="169.6" r="4.3" fill="url(#gb)"/><circle cx="773" cy="173.7" r="4.3" fill="url(#gm)"/><circle cx="769.5" cy="171.8" r="3.7" fill="url(#gb)"/><circle cx="775.9" cy="177.5" r="4.3" fill="url(#gm)"/><circle cx="776.5" cy="181" r="4.3" fill="url(#gy)"/><circle cx="780" cy="180.5" r="3.7" fill="url(#gy)"/><circle cx="778.7" cy="186.1" r="4.3" fill="url(#gm)"/><circle cx="781.1" cy="189.9" r="4.3" fill="url(#gb)"/><circle cx="777.1" cy="189.3" r="3.7" fill="url(#gy)"/><circle cx="781" cy="194.3" r="4.3" fill="url(#gy)"/><circle cx="777.9" cy="194.8" r="3.7" fill="url(#gy)"/><circle cx="782.5" cy="198.2" r="4.3" fill="url(#gm)"/><circle cx="782.6" cy="201.9" r="4.3" fill="url(#gm)"/><circle cx="779.7" cy="203.7" r="3.7" fill="url(#gm)"/><circle cx="784.8" cy="205.9" r="4.3" fill="url(#gm)"/><circle cx="784.5" cy="211.4" r="4.3" fill="url(#gy)"/><circle cx="787.8" cy="212.6" r="3.7" fill="url(#gb)"/><circle cx="782.2" cy="214.9" r="4.3" fill="url(#gy)"/><circle cx="786" cy="213.2" r="3.7" fill="url(#gr)"/><circle cx="781.8" cy="219.1" r="4.3" fill="url(#gb)"/><circle cx="785.7" cy="218.3" r="3.7" fill="url(#gy)"/><circle cx="779.1" cy="223.1" r="4.3" fill="url(#gr)"/><circle cx="776.6" cy="222.4" r="3.7" fill="url(#gy)"/><circle cx="778.4" cy="227.7" r="4.3" fill="url(#gm)"/><circle cx="781.8" cy="226.1" r="3.7" fill="url(#gb)"/><circle cx="776.7" cy="231" r="4.3" fill="url(#gy)"/><circle cx="780.9" cy="230.8" r="3.7" fill="url(#gy)"/><circle cx="775.6" cy="235" r="4.3" fill="url(#gm)"/><circle cx="772" cy="237.4" r="3.7" fill="url(#gr)"/><circle cx="773.2" cy="238.8" r="4.3" fill="url(#gb)"/><circle cx="770.3" cy="243.2" r="4.3" fill="url(#gy)"/><circle cx="774.1" cy="244.1" r="3.7" fill="url(#gy)"/><circle cx="768.2" cy="247.1" r="4.3" fill="url(#gr)"/><circle cx="765.3" cy="249.2" r="3.7" fill="url(#gy)"/><circle cx="766.8" cy="250.3" r="4.3" fill="url(#gm)"/><circle cx="764" cy="249.5" r="3.7" fill="url(#gy)"/><circle cx="764.1" cy="255.2" r="4.3" fill="url(#gb)"/><circle cx="762.2" cy="255.2" r="3.7" fill="url(#gb)"/><circle cx="762.6" cy="258.7" r="4.3" fill="url(#gy)"/><circle cx="766.5" cy="257.4" r="3.7" fill="url(#gb)"/><circle cx="761.1" cy="262.9" r="4.3" fill="url(#gr)"/><circle cx="764" cy="263.6" r="3.7" fill="url(#gb)"/><circle cx="757.9" cy="266.7" r="4.3" fill="url(#gr)"/><circle cx="762.3" cy="265" r="3.7" fill="url(#gb)"/><circle cx="757.9" cy="269.9" r="4.3" fill="url(#gr)"/><circle cx="753.6" cy="269.1" r="3.7" fill="url(#gb)"/><circle cx="754.2" cy="274.4" r="4.3" fill="url(#gm)"/><circle cx="753.7" cy="277.8" r="4.3" fill="url(#gy)"/><circle cx="749.6" cy="277.3" r="3.7" fill="url(#gm)"/><circle cx="750.1" cy="281.7" r="4.3" fill="url(#gm)"/><circle cx="753.4" cy="280.1" r="3.7" fill="url(#gy)"/><circle cx="747.7" cy="286.4" r="4.3" fill="url(#gb)"/><circle cx="746.9" cy="289.2" r="4.3" fill="url(#gy)"/><circle cx="743" cy="289.9" r="3.7" fill="url(#gr)"/></g>
<g clip-path="url(#kc3)"><circle cx="936.6" cy="119.3" r="4.4" fill="url(#gy)"/><circle cx="936.5" cy="122.7" r="4.4" fill="url(#gr)"/><circle cx="934.7" cy="124.3" r="3.7" fill="url(#gr)"/><circle cx="939.4" cy="127.1" r="4.4" fill="url(#gy)"/><circle cx="941.8" cy="130" r="4.4" fill="url(#gy)"/><circle cx="937.5" cy="130.8" r="3.7" fill="url(#gb)"/><circle cx="943.6" cy="134.4" r="4.4" fill="url(#gr)"/><circle cx="944.9" cy="138.4" r="4.4" fill="url(#gm)"/><circle cx="941.3" cy="139.1" r="3.7" fill="url(#gy)"/><circle cx="948.2" cy="142.2" r="4.4" fill="url(#gb)"/><circle cx="943.5" cy="140.3" r="3.7" fill="url(#gy)"/><circle cx="950.3" cy="145.8" r="4.4" fill="url(#gy)"/><circle cx="946" cy="144.6" r="3.7" fill="url(#gb)"/><circle cx="950.2" cy="150.5" r="4.4" fill="url(#gy)"/><circle cx="947.2" cy="150.8" r="3.7" fill="url(#gb)"/><circle cx="952.5" cy="153.2" r="4.4" fill="url(#gb)"/><circle cx="956.7" cy="155.1" r="3.7" fill="url(#gm)"/><circle cx="954.4" cy="158.4" r="4.4" fill="url(#gr)"/><circle cx="958.8" cy="158.7" r="3.7" fill="url(#gm)"/><circle cx="957.8" cy="161.9" r="4.4" fill="url(#gm)"/><circle cx="959.9" cy="166" r="4.4" fill="url(#gy)"/><circle cx="963.2" cy="165.1" r="3.7" fill="url(#gb)"/><circle cx="960.5" cy="168.9" r="4.4" fill="url(#gm)"/><circle cx="957.1" cy="170" r="3.7" fill="url(#gm)"/><circle cx="961.8" cy="174.1" r="4.4" fill="url(#gb)"/><circle cx="966.1" cy="172.6" r="3.7" fill="url(#gr)"/><circle cx="964.1" cy="177.4" r="4.4" fill="url(#gy)"/><circle cx="967.2" cy="181.4" r="4.4" fill="url(#gr)"/><circle cx="967.1" cy="185.2" r="4.4" fill="url(#gm)"/><circle cx="969.4" cy="190.1" r="4.4" fill="url(#gb)"/><circle cx="965.3" cy="189.8" r="3.7" fill="url(#gy)"/><circle cx="969.5" cy="193.4" r="4.4" fill="url(#gy)"/><circle cx="966.4" cy="192.5" r="3.7" fill="url(#gr)"/><circle cx="970.8" cy="197.9" r="4.4" fill="url(#gy)"/><circle cx="967.4" cy="198.8" r="3.7" fill="url(#gm)"/><circle cx="971.3" cy="202.2" r="4.4" fill="url(#gb)"/><circle cx="975.7" cy="202.4" r="3.7" fill="url(#gy)"/><circle cx="970.9" cy="206.7" r="4.4" fill="url(#gr)"/><circle cx="976" cy="205.3" r="3.7" fill="url(#gr)"/><circle cx="972.7" cy="210.4" r="4.4" fill="url(#gm)"/><circle cx="967.8" cy="211.6" r="3.7" fill="url(#gb)"/><circle cx="971" cy="214.9" r="4.4" fill="url(#gy)"/><circle cx="973.5" cy="216.4" r="3.7" fill="url(#gr)"/><circle cx="968.5" cy="219.7" r="4.4" fill="url(#gm)"/><circle cx="967.5" cy="223.2" r="4.4" fill="url(#gb)"/><circle cx="964.3" cy="222.6" r="3.7" fill="url(#gb)"/><circle cx="966.3" cy="227.8" r="4.4" fill="url(#gy)"/><circle cx="969.4" cy="228.4" r="3.7" fill="url(#gr)"/><circle cx="965.6" cy="232.3" r="4.4" fill="url(#gr)"/><circle cx="961.6" cy="230.6" r="3.7" fill="url(#gb)"/><circle cx="962.6" cy="236.5" r="4.4" fill="url(#gm)"/><circle cx="958.8" cy="234.1" r="3.7" fill="url(#gr)"/><circle cx="961.6" cy="239.9" r="4.4" fill="url(#gb)"/><circle cx="960" cy="243.4" r="4.4" fill="url(#gb)"/><circle cx="962.7" cy="244.7" r="3.7" fill="url(#gm)"/><circle cx="957.6" cy="248.3" r="4.4" fill="url(#gy)"/><circle cx="956.5" cy="252.2" r="4.4" fill="url(#gr)"/><circle cx="953.1" cy="255.2" r="4.4" fill="url(#gr)"/><circle cx="957" cy="254.6" r="3.7" fill="url(#gy)"/><circle cx="952.2" cy="259.6" r="4.4" fill="url(#gm)"/><circle cx="955.5" cy="261.6" r="3.7" fill="url(#gb)"/><circle cx="950.2" cy="264.2" r="4.4" fill="url(#gy)"/><circle cx="946.3" cy="263.1" r="3.7" fill="url(#gy)"/><circle cx="946.9" cy="268.1" r="4.4" fill="url(#gm)"/><circle cx="951.2" cy="265.9" r="3.7" fill="url(#gr)"/><circle cx="946.8" cy="271.5" r="4.4" fill="url(#gb)"/><circle cx="949.1" cy="270.1" r="3.7" fill="url(#gy)"/><circle cx="942.8" cy="275.2" r="4.4" fill="url(#gy)"/><circle cx="947" cy="275" r="3.7" fill="url(#gm)"/><circle cx="941" cy="280" r="4.4" fill="url(#gy)"/><circle cx="939.5" cy="282.5" r="4.4" fill="url(#gm)"/><circle cx="936.2" cy="283.5" r="3.7" fill="url(#gm)"/><circle cx="936.8" cy="287.7" r="4.4" fill="url(#gb)"/><circle cx="933.8" cy="286.2" r="3.7" fill="url(#gb)"/><circle cx="935.4" cy="291.4" r="4.4" fill="url(#gy)"/><circle cx="939.5" cy="289.7" r="3.7" fill="url(#gy)"/><circle cx="967.7" cy="118.7" r="4.4" fill="url(#gy)"/><circle cx="970" cy="123.2" r="4.4" fill="url(#gm)"/><circle cx="973" cy="120.9" r="3.7" fill="url(#gb)"/><circle cx="971.8" cy="126.2" r="4.4" fill="url(#gb)"/><circle cx="972.4" cy="129.6" r="4.4" fill="url(#gy)"/><circle cx="969" cy="130.9" r="3.7" fill="url(#gm)"/><circle cx="975.8" cy="133.4" r="4.4" fill="url(#gr)"/><circle cx="977.8" cy="133.6" r="3.7" fill="url(#gy)"/><circle cx="976.3" cy="138.4" r="4.4" fill="url(#gy)"/><circle cx="972.8" cy="138.2" r="3.7" fill="url(#gy)"/><circle cx="979.2" cy="142.4" r="4.4" fill="url(#gb)"/><circle cx="981.9" cy="139.8" r="3.7" fill="url(#gm)"/><circle cx="980.5" cy="145.4" r="4.4" fill="url(#gr)"/><circle cx="982.4" cy="149.6" r="4.4" fill="url(#gy)"/><circle cx="986.3" cy="148.7" r="3.7" fill="url(#gy)"/><circle cx="983.9" cy="153.7" r="4.4" fill="url(#gb)"/><circle cx="986" cy="157.3" r="4.4" fill="url(#gy)"/><circle cx="990.7" cy="156.4" r="3.7" fill="url(#gy)"/><circle cx="987.5" cy="161.8" r="4.4" fill="url(#gb)"/><circle cx="985.3" cy="163.3" r="3.7" fill="url(#gm)"/><circle cx="989.9" cy="164.9" r="4.4" fill="url(#gb)"/><circle cx="986.7" cy="167.4" r="3.7" fill="url(#gr)"/><circle cx="992.9" cy="168.8" r="4.4" fill="url(#gm)"/><circle cx="988.9" cy="170.5" r="3.7" fill="url(#gm)"/><circle cx="993.8" cy="172.8" r="4.4" fill="url(#gb)"/><circle cx="997.1" cy="172.6" r="3.7" fill="url(#gb)"/><circle cx="994.9" cy="177.2" r="4.4" fill="url(#gy)"/><circle cx="1000.1" cy="176.5" r="3.7" fill="url(#gy)"/><circle cx="996.9" cy="180.9" r="4.4" fill="url(#gr)"/><circle cx="993.5" cy="179.8" r="3.7" fill="url(#gr)"/><circle cx="998.7" cy="186.1" r="4.4" fill="url(#gm)"/><circle cx="1003.3" cy="185.8" r="3.7" fill="url(#gm)"/><circle cx="1000.9" cy="189.8" r="4.4" fill="url(#gr)"/><circle cx="1001" cy="193.4" r="4.4" fill="url(#gy)"/><circle cx="998.1" cy="193" r="3.7" fill="url(#gy)"/><circle cx="1002.6" cy="198.1" r="4.4" fill="url(#gr)"/><circle cx="1000" cy="197.9" r="3.7" fill="url(#gy)"/><circle cx="1003.3" cy="202.6" r="4.4" fill="url(#gb)"/><circle cx="1002.7" cy="206.9" r="4.4" fill="url(#gr)"/><circle cx="1006.3" cy="205.4" r="3.7" fill="url(#gr)"/><circle cx="1003.1" cy="211.1" r="4.4" fill="url(#gm)"/><circle cx="1001.6" cy="215" r="4.4" fill="url(#gb)"/><circle cx="998.8" cy="216.6" r="3.7" fill="url(#gm)"/><circle cx="1000.3" cy="220.1" r="4.4" fill="url(#gm)"/><circle cx="999.1" cy="223.8" r="4.4" fill="url(#gm)"/><circle cx="995.5" cy="224.4" r="3.7" fill="url(#gm)"/><circle cx="997.4" cy="227.5" r="4.4" fill="url(#gy)"/><circle cx="994" cy="228.5" r="3.7" fill="url(#gm)"/><circle cx="995.6" cy="231.5" r="4.4" fill="url(#gb)"/><circle cx="1000.3" cy="232.1" r="3.7" fill="url(#gb)"/><circle cx="994.5" cy="235.5" r="4.4" fill="url(#gm)"/><circle cx="997.9" cy="235.1" r="3.7" fill="url(#gm)"/><circle cx="991.6" cy="239.9" r="4.4" fill="url(#gb)"/><circle cx="988.8" cy="238.2" r="3.7" fill="url(#gy)"/><circle cx="990.6" cy="243.1" r="4.4" fill="url(#gy)"/><circle cx="988" cy="243.6" r="3.7" fill="url(#gy)"/><circle cx="987.9" cy="247.2" r="4.4" fill="url(#gy)"/><circle cx="986.3" cy="252.1" r="4.4" fill="url(#gb)"/><circle cx="986.2" cy="256.4" r="4.4" fill="url(#gb)"/><circle cx="988.4" cy="254.3" r="3.7" fill="url(#gm)"/><circle cx="982.3" cy="260.4" r="4.4" fill="url(#gy)"/><circle cx="982.1" cy="263" r="4.4" fill="url(#gy)"/><circle cx="977.3" cy="265.3" r="3.7" fill="url(#gy)"/><circle cx="980" cy="267.1" r="4.4" fill="url(#gb)"/><circle cx="976.3" cy="269.1" r="3.7" fill="url(#gr)"/><circle cx="976.9" cy="272.3" r="4.4" fill="url(#gb)"/><circle cx="973.3" cy="272.9" r="3.7" fill="url(#gy)"/><circle cx="975.4" cy="275" r="4.4" fill="url(#gy)"/><circle cx="971.8" cy="274.5" r="3.7" fill="url(#gb)"/><circle cx="973.4" cy="278.7" r="4.4" fill="url(#gr)"/><circle cx="977" cy="277.5" r="3.7" fill="url(#gy)"/><circle cx="970.3" cy="283.7" r="4.4" fill="url(#gm)"/><circle cx="968.4" cy="283" r="3.7" fill="url(#gm)"/><circle cx="969.9" cy="287.1" r="4.4" fill="url(#gb)"/><circle cx="965.9" cy="285.7" r="3.7" fill="url(#gy)"/><circle cx="967.8" cy="290.4" r="4.4" fill="url(#gy)"/><circle cx="970.9" cy="290.3" r="3.7" fill="url(#gr)"/><circle cx="1001.3" cy="117.9" r="4.4" fill="url(#gb)"/><circle cx="1003.3" cy="122.4" r="4.4" fill="url(#gb)"/><circle cx="1007.5" cy="123" r="3.7" fill="url(#gm)"/><circle cx="1005" cy="126.8" r="4.4" fill="url(#gb)"/><circle cx="1002.4" cy="125.9" r="3.7" fill="url(#gm)"/><circle cx="1008.1" cy="130.2" r="4.4" fill="url(#gb)"/><circle cx="1011.1" cy="131.6" r="3.7" fill="url(#gb)"/><circle cx="1008.4" cy="133.4" r="4.4" fill="url(#gr)"/><circle cx="1013.4" cy="135.2" r="3.7" fill="url(#gy)"/><circle cx="1012.4" cy="138.4" r="4.4" fill="url(#gm)"/><circle cx="1013.4" cy="141.1" r="4.4" fill="url(#gy)"/><circle cx="1009.8" cy="140.3" r="3.7" fill="url(#gy)"/><circle cx="1016.5" cy="146.3" r="4.4" fill="url(#gm)"/><circle cx="1018.2" cy="149" r="4.4" fill="url(#gm)"/><circle cx="1019" cy="153.6" r="4.4" fill="url(#gy)"/><circle cx="1023.4" cy="153" r="3.7" fill="url(#gy)"/><circle cx="1021.6" cy="157.9" r="4.4" fill="url(#gr)"/><circle cx="1018.2" cy="158.5" r="3.7" fill="url(#gr)"/><circle cx="1024.3" cy="161.1" r="4.4" fill="url(#gm)"/><circle cx="1019.9" cy="161.7" r="3.7" fill="url(#gr)"/><circle cx="1025.7" cy="166.3" r="4.4" fill="url(#gb)"/><circle cx="1027.4" cy="169.6" r="4.4" fill="url(#gm)"/><circle cx="1029.4" cy="173.6" r="4.4" fill="url(#gb)"/><circle cx="1030.4" cy="177.9" r="4.4" fill="url(#gb)"/><circle cx="1034.7" cy="175.7" r="3.7" fill="url(#gy)"/><circle cx="1032.7" cy="181.6" r="4.4" fill="url(#gr)"/><circle cx="1035.4" cy="179.7" r="3.7" fill="url(#gm)"/><circle cx="1033.6" cy="185.5" r="4.4" fill="url(#gm)"/><circle cx="1035.2" cy="189.6" r="4.4" fill="url(#gy)"/><circle cx="1031.6" cy="188" r="3.7" fill="url(#gb)"/><circle cx="1035.4" cy="194.6" r="4.4" fill="url(#gm)"/><circle cx="1032.3" cy="194.1" r="3.7" fill="url(#gy)"/><circle cx="1036.4" cy="198" r="4.4" fill="url(#gb)"/><circle cx="1040.7" cy="198.2" r="3.7" fill="url(#gy)"/><circle cx="1037.9" cy="202.8" r="4.4" fill="url(#gy)"/><circle cx="1038.5" cy="206.1" r="4.4" fill="url(#gm)"/><circle cx="1041" cy="208.5" r="3.7" fill="url(#gb)"/><circle cx="1037.6" cy="210.5" r="4.4" fill="url(#gm)"/><circle cx="1036.9" cy="215.1" r="4.4" fill="url(#gb)"/><circle cx="1040.4" cy="216" r="3.7" fill="url(#gb)"/><circle cx="1034.9" cy="219.6" r="4.4" fill="url(#gy)"/><circle cx="1031.4" cy="220.6" r="3.7" fill="url(#gm)"/><circle cx="1034.7" cy="224.2" r="4.4" fill="url(#gm)"/><circle cx="1036.9" cy="222" r="3.7" fill="url(#gy)"/><circle cx="1032.7" cy="228" r="4.4" fill="url(#gb)"/><circle cx="1028.4" cy="227.7" r="3.7" fill="url(#gm)"/><circle cx="1029.7" cy="231.7" r="4.4" fill="url(#gr)"/><circle cx="1034" cy="233.9" r="3.7" fill="url(#gy)"/><circle cx="1029.9" cy="235.2" r="4.4" fill="url(#gm)"/><circle cx="1026.9" cy="240.6" r="4.4" fill="url(#gy)"/><circle cx="1023.2" cy="237.9" r="3.7" fill="url(#gr)"/><circle cx="1025.1" cy="243.4" r="4.4" fill="url(#gm)"/><circle cx="1028.8" cy="243.5" r="3.7" fill="url(#gr)"/><circle cx="1023.5" cy="247.3" r="4.4" fill="url(#gb)"/><circle cx="1027.1" cy="249.3" r="3.7" fill="url(#gy)"/><circle cx="1021" cy="252.2" r="4.4" fill="url(#gb)"/><circle cx="1018" cy="251" r="3.7" fill="url(#gb)"/><circle cx="1020.7" cy="256.1" r="4.4" fill="url(#gr)"/><circle cx="1022.7" cy="254.9" r="3.7" fill="url(#gy)"/><circle cx="1018" cy="258.9" r="4.4" fill="url(#gm)"/><circle cx="1021" cy="259.7" r="3.7" fill="url(#gm)"/><circle cx="1016.2" cy="262.9" r="4.4" fill="url(#gb)"/><circle cx="1012.4" cy="264.5" r="3.7" fill="url(#gm)"/><circle cx="1014.8" cy="268" r="4.4" fill="url(#gy)"/><circle cx="1017.8" cy="265.8" r="3.7" fill="url(#gb)"/><circle cx="1010.6" cy="271.9" r="4.4" fill="url(#gy)"/><circle cx="1008.4" cy="272.9" r="3.7" fill="url(#gm)"/><circle cx="1010" cy="276.2" r="4.4" fill="url(#gb)"/><circle cx="1007" cy="277.2" r="3.7" fill="url(#gy)"/><circle cx="1007.1" cy="280" r="4.4" fill="url(#gy)"/><circle cx="1004.5" cy="277.5" r="3.7" fill="url(#gm)"/><circle cx="1004.8" cy="283" r="4.4" fill="url(#gm)"/><circle cx="1009.5" cy="283.9" r="3.7" fill="url(#gm)"/><circle cx="1004.3" cy="286.8" r="4.4" fill="url(#gy)"/><circle cx="1002.2" cy="290.4" r="4.4" fill="url(#gr)"/><circle cx="1034.7" cy="117.8" r="4.4" fill="url(#gm)"/><circle cx="1038.7" cy="117.8" r="3.7" fill="url(#gb)"/><circle cx="1036.7" cy="123" r="4.4" fill="url(#gr)"/><circle cx="1033.4" cy="122.9" r="3.7" fill="url(#gr)"/><circle cx="1037.4" cy="126.4" r="4.4" fill="url(#gb)"/><circle cx="1042.4" cy="127" r="3.7" fill="url(#gb)"/><circle cx="1040.6" cy="130.8" r="4.4" fill="url(#gy)"/><circle cx="1043.9" cy="129.8" r="3.7" fill="url(#gy)"/><circle cx="1042.3" cy="134.2" r="4.4" fill="url(#gy)"/><circle cx="1045.7" cy="132.4" r="3.7" fill="url(#gb)"/><circle cx="1045" cy="138.1" r="4.4" fill="url(#gb)"/><circle cx="1048.2" cy="139" r="3.7" fill="url(#gy)"/><circle cx="1046.3" cy="141.3" r="4.4" fill="url(#gy)"/><circle cx="1043" cy="141" r="3.7" fill="url(#gy)"/><circle cx="1048.2" cy="145.3" r="4.4" fill="url(#gr)"/><circle cx="1051.7" cy="146.4" r="3.7" fill="url(#gy)"/><circle cx="1051.5" cy="149.4" r="4.4" fill="url(#gm)"/><circle cx="1047.3" cy="148" r="3.7" fill="url(#gm)"/><circle cx="1053.3" cy="153" r="4.4" fill="url(#gb)"/><circle cx="1056.4" cy="153" r="3.7" fill="url(#gb)"/><circle cx="1055.2" cy="157.6" r="4.4" fill="url(#gy)"/><circle cx="1051.3" cy="157.7" r="3.7" fill="url(#gb)"/><circle cx="1056.9" cy="161.5" r="4.4" fill="url(#gy)"/><circle cx="1052.1" cy="162" r="3.7" fill="url(#gr)"/><circle cx="1057.1" cy="166" r="4.4" fill="url(#gb)"/><circle cx="1060.9" cy="167.5" r="3.7" fill="url(#gr)"/><circle cx="1060.5" cy="170" r="4.4" fill="url(#gr)"/><circle cx="1063.1" cy="167.8" r="3.7" fill="url(#gy)"/><circle cx="1060.9" cy="174.1" r="4.4" fill="url(#gm)"/><circle cx="1065.5" cy="174.4" r="3.7" fill="url(#gb)"/><circle cx="1064.5" cy="176.7" r="4.4" fill="url(#gy)"/><circle cx="1064" cy="181.9" r="4.4" fill="url(#gm)"/><circle cx="1067.9" cy="179.9" r="3.7" fill="url(#gm)"/><circle cx="1066.7" cy="185" r="4.4" fill="url(#gb)"/><circle cx="1063.2" cy="187.4" r="3.7" fill="url(#gb)"/><circle cx="1069.2" cy="190.3" r="4.4" fill="url(#gy)"/><circle cx="1065.1" cy="188.9" r="3.7" fill="url(#gm)"/><circle cx="1069.7" cy="193.6" r="4.4" fill="url(#gm)"/><circle cx="1071.2" cy="197.4" r="4.4" fill="url(#gm)"/><circle cx="1071.2" cy="202" r="4.4" fill="url(#gb)"/><circle cx="1074.5" cy="204.3" r="3.7" fill="url(#gy)"/><circle cx="1070.5" cy="207.2" r="4.4" fill="url(#gy)"/><circle cx="1074.8" cy="206.1" r="3.7" fill="url(#gy)"/><circle cx="1070.6" cy="211.6" r="4.4" fill="url(#gy)"/><circle cx="1070.6" cy="215.7" r="4.4" fill="url(#gb)"/><circle cx="1066.5" cy="216.9" r="3.7" fill="url(#gm)"/><circle cx="1069" cy="219.2" r="4.4" fill="url(#gy)"/><circle cx="1064.3" cy="220.5" r="3.7" fill="url(#gb)"/><circle cx="1066.9" cy="224.1" r="4.4" fill="url(#gy)"/><circle cx="1069.9" cy="225" r="3.7" fill="url(#gr)"/><circle cx="1065.9" cy="228.4" r="4.4" fill="url(#gy)"/><circle cx="1064.5" cy="231.5" r="4.4" fill="url(#gm)"/><circle cx="1061.9" cy="236.5" r="4.4" fill="url(#gb)"/><circle cx="1060.4" cy="240.2" r="4.4" fill="url(#gm)"/><circle cx="1063.9" cy="239.9" r="3.7" fill="url(#gr)"/><circle cx="1057.8" cy="244.3" r="4.4" fill="url(#gr)"/><circle cx="1056.9" cy="247.8" r="4.4" fill="url(#gm)"/><circle cx="1052.4" cy="246.9" r="3.7" fill="url(#gb)"/><circle cx="1054.5" cy="251" r="4.4" fill="url(#gb)"/><circle cx="1051.7" cy="252.9" r="3.7" fill="url(#gb)"/><circle cx="1052.7" cy="255.6" r="4.4" fill="url(#gy)"/><circle cx="1056.4" cy="254.1" r="3.7" fill="url(#gy)"/><circle cx="1049.7" cy="260.2" r="4.4" fill="url(#gb)"/><circle cx="1046.8" cy="260.5" r="3.7" fill="url(#gr)"/><circle cx="1049.5" cy="264.1" r="4.4" fill="url(#gy)"/><circle cx="1051.8" cy="265.1" r="3.7" fill="url(#gy)"/><circle cx="1045.9" cy="266.9" r="4.4" fill="url(#gr)"/><circle cx="1044.8" cy="270.9" r="4.4" fill="url(#gm)"/><circle cx="1048.8" cy="270.1" r="3.7" fill="url(#gy)"/><circle cx="1043.4" cy="275.5" r="4.4" fill="url(#gm)"/><circle cx="1046.3" cy="275.8" r="3.7" fill="url(#gy)"/><circle cx="1041.2" cy="279.8" r="4.4" fill="url(#gy)"/><circle cx="1038" cy="283.4" r="4.4" fill="url(#gy)"/><circle cx="1038" cy="287.5" r="4.4" fill="url(#gy)"/><circle cx="1040.8" cy="288" r="3.7" fill="url(#gb)"/><circle cx="1034.9" cy="290.4" r="4.4" fill="url(#gb)"/><circle cx="1038.2" cy="289.3" r="3.7" fill="url(#gm)"/><circle cx="1060.1" cy="119.2" r="4.4" fill="url(#gy)"/><circle cx="1056.5" cy="117.1" r="3.7" fill="url(#gm)"/><circle cx="1063.4" cy="122.5" r="4.4" fill="url(#gy)"/><circle cx="1065.8" cy="120.7" r="3.7" fill="url(#gm)"/><circle cx="1065.7" cy="126.4" r="4.4" fill="url(#gy)"/><circle cx="1067.1" cy="130.6" r="4.4" fill="url(#gb)"/><circle cx="1063.5" cy="130.9" r="3.7" fill="url(#gm)"/><circle cx="1069.2" cy="134.5" r="4.4" fill="url(#gr)"/><circle cx="1071.4" cy="133.6" r="3.7" fill="url(#gy)"/><circle cx="1071.5" cy="137.4" r="4.4" fill="url(#gm)"/><circle cx="1072.6" cy="141.6" r="4.4" fill="url(#gy)"/><circle cx="1074.8" cy="145.3" r="4.4" fill="url(#gy)"/><circle cx="1071" cy="147.7" r="3.7" fill="url(#gb)"/><circle cx="1076.6" cy="149" r="4.4" fill="url(#gb)"/><circle cx="1077.6" cy="153.8" r="4.4" fill="url(#gr)"/><circle cx="1081.5" cy="153.7" r="3.7" fill="url(#gm)"/><circle cx="1080" cy="157.9" r="4.4" fill="url(#gr)"/><circle cx="1082.2" cy="161.9" r="4.4" fill="url(#gm)"/><circle cx="1078.7" cy="161.6" r="3.7" fill="url(#gy)"/><circle cx="1082.9" cy="164.8" r="4.4" fill="url(#gb)"/><circle cx="1087" cy="164.6" r="3.7" fill="url(#gm)"/><circle cx="1085.2" cy="170.3" r="4.4" fill="url(#gy)"/><circle cx="1082.1" cy="169" r="3.7" fill="url(#gy)"/><circle cx="1087.3" cy="173.9" r="4.4" fill="url(#gy)"/><circle cx="1091.2" cy="172" r="3.7" fill="url(#gm)"/><circle cx="1089.4" cy="177.6" r="4.4" fill="url(#gb)"/><circle cx="1092.9" cy="178.4" r="3.7" fill="url(#gb)"/><circle cx="1090.3" cy="181.2" r="4.4" fill="url(#gm)"/><circle cx="1087.9" cy="183.1" r="3.7" fill="url(#gb)"/><circle cx="1091.8" cy="185.8" r="4.4" fill="url(#gm)"/><circle cx="1089.5" cy="183.6" r="3.7" fill="url(#gy)"/><circle cx="1095" cy="190" r="4.4" fill="url(#gy)"/><circle cx="1094.9" cy="194.2" r="4.4" fill="url(#gm)"/><circle cx="1091.9" cy="192.1" r="3.7" fill="url(#gy)"/><circle cx="1097.5" cy="197.5" r="4.4" fill="url(#gb)"/><circle cx="1092.5" cy="197" r="3.7" fill="url(#gy)"/><circle cx="1096.3" cy="201.8" r="4.4" fill="url(#gy)"/><circle cx="1096.2" cy="206.3" r="4.4" fill="url(#gm)"/><circle cx="1095.7" cy="210.5" r="4.4" fill="url(#gy)"/><circle cx="1093.2" cy="212.4" r="3.7" fill="url(#gb)"/><circle cx="1095.7" cy="215.8" r="4.4" fill="url(#gy)"/><circle cx="1092.8" cy="215.6" r="3.7" fill="url(#gr)"/><circle cx="1095.1" cy="219.1" r="4.4" fill="url(#gy)"/><circle cx="1090.5" cy="220.4" r="3.7" fill="url(#gb)"/><circle cx="1093.6" cy="223" r="4.4" fill="url(#gy)"/><circle cx="1096" cy="223.8" r="3.7" fill="url(#gb)"/><circle cx="1090.8" cy="227.7" r="4.4" fill="url(#gb)"/><circle cx="1094.3" cy="229.1" r="3.7" fill="url(#gm)"/><circle cx="1089.8" cy="232.1" r="4.4" fill="url(#gr)"/><circle cx="1088" cy="236.3" r="4.4" fill="url(#gm)"/><circle cx="1084.9" cy="235.8" r="3.7" fill="url(#gm)"/><circle cx="1086" cy="239.4" r="4.4" fill="url(#gy)"/><circle cx="1082.2" cy="239.6" r="3.7" fill="url(#gr)"/><circle cx="1084.4" cy="244.2" r="4.4" fill="url(#gm)"/><circle cx="1081.7" cy="248.5" r="4.4" fill="url(#gb)"/><circle cx="1079.2" cy="246.2" r="3.7" fill="url(#gm)"/><circle cx="1081.4" cy="251.4" r="4.4" fill="url(#gy)"/><circle cx="1076.6" cy="250.3" r="3.7" fill="url(#gm)"/><circle cx="1077.9" cy="255" r="4.4" fill="url(#gr)"/><circle cx="1082.7" cy="257.7" r="3.7" fill="url(#gy)"/><circle cx="1077.6" cy="259" r="4.4" fill="url(#gm)"/><circle cx="1075" cy="263.7" r="4.4" fill="url(#gb)"/><circle cx="1078.5" cy="262" r="3.7" fill="url(#gb)"/><circle cx="1073.4" cy="267" r="4.4" fill="url(#gm)"/><circle cx="1070.8" cy="272" r="4.4" fill="url(#gm)"/><circle cx="1073.7" cy="271" r="3.7" fill="url(#gr)"/><circle cx="1068.5" cy="275.8" r="4.4" fill="url(#gb)"/><circle cx="1065.8" cy="278.6" r="4.4" fill="url(#gr)"/><circle cx="1066" cy="283.2" r="4.4" fill="url(#gm)"/><circle cx="1062" cy="281.5" r="3.7" fill="url(#gb)"/><circle cx="1061.8" cy="287" r="4.4" fill="url(#gy)"/><circle cx="1059.3" cy="285.2" r="3.7" fill="url(#gm)"/><circle cx="1062" cy="291.2" r="4.4" fill="url(#gm)"/><circle cx="1065" cy="289.8" r="3.7" fill="url(#gy)"/></g>
<g clip-path="url(#kc4)"><circle cx="266.7" cy="611.1" r="5.1" fill="url(#gm)"/><circle cx="271.3" cy="605.1" r="5" fill="url(#gb)"/><circle cx="297.7" cy="597" r="5" fill="url(#gb)"/><circle cx="352.5" cy="573.4" r="5.2" fill="url(#gy)"/><circle cx="257.4" cy="576.6" r="5.1" fill="url(#gr)"/><circle cx="359.1" cy="519.3" r="4.6" fill="url(#gr)"/><circle cx="257.9" cy="474" r="4.5" fill="url(#gy)"/><circle cx="248.6" cy="538" r="4.9" fill="url(#gy)"/><circle cx="324.4" cy="537.4" r="4.8" fill="url(#gy)"/><circle cx="218.7" cy="550.6" r="5.1" fill="url(#gy)"/><circle cx="285.2" cy="552.4" r="5.1" fill="url(#gm)"/><circle cx="270.2" cy="624.3" r="4.7" fill="url(#gy)"/><circle cx="347.9" cy="552.8" r="5.1" fill="url(#gb)"/><circle cx="281.5" cy="533.5" r="4.5" fill="url(#gy)"/><circle cx="234.6" cy="514" r="5" fill="url(#gm)"/><circle cx="238" cy="559.2" r="4.5" fill="url(#gm)"/><circle cx="231.1" cy="599.3" r="5" fill="url(#gb)"/><circle cx="301.4" cy="550.5" r="4.8" fill="url(#gb)"/><circle cx="296.3" cy="539" r="5" fill="url(#gy)"/><circle cx="220.5" cy="510.2" r="4.6" fill="url(#gm)"/><circle cx="285.3" cy="517.7" r="4.5" fill="url(#gm)"/><circle cx="340.2" cy="605.9" r="4.6" fill="url(#gr)"/><circle cx="342.4" cy="597.9" r="4.4" fill="url(#gb)"/><circle cx="226.7" cy="497.3" r="4.7" fill="url(#gb)"/><circle cx="226.5" cy="539" r="4.6" fill="url(#gm)"/><circle cx="311.9" cy="472.4" r="5.1" fill="url(#gr)"/><circle cx="294.5" cy="525" r="4.7" fill="url(#gy)"/><circle cx="303.4" cy="527.4" r="4.6" fill="url(#gb)"/><circle cx="235.8" cy="526.1" r="4.6" fill="url(#gm)"/><circle cx="318.4" cy="616" r="5" fill="url(#gy)"/><circle cx="243.4" cy="510.4" r="4.5" fill="url(#gr)"/><circle cx="232.6" cy="552.2" r="4.5" fill="url(#gb)"/><circle cx="344.3" cy="504.3" r="4.6" fill="url(#gm)"/><circle cx="258.9" cy="513.2" r="4.9" fill="url(#gm)"/><circle cx="214.9" cy="530" r="4.9" fill="url(#gy)"/><circle cx="309.8" cy="577" r="4.4" fill="url(#gm)"/><circle cx="233.8" cy="576.3" r="4.5" fill="url(#gy)"/><circle cx="266.1" cy="556.5" r="5.1" fill="url(#gb)"/><circle cx="228.6" cy="586.2" r="5.1" fill="url(#gy)"/><circle cx="284.8" cy="624.3" r="4.8" fill="url(#gb)"/><circle cx="315.5" cy="532.8" r="4.8" fill="url(#gm)"/><circle cx="264.6" cy="578.4" r="4.8" fill="url(#gr)"/><circle cx="260.7" cy="546.9" r="4.4" fill="url(#gr)"/><circle cx="230.7" cy="516.8" r="4.6" fill="url(#gb)"/><circle cx="246.7" cy="492.3" r="5.1" fill="url(#gy)"/><circle cx="311.3" cy="498.2" r="4.8" fill="url(#gm)"/><circle cx="264.3" cy="486.9" r="5.2" fill="url(#gb)"/><circle cx="277.2" cy="481.2" r="4.5" fill="url(#gb)"/><circle cx="351.5" cy="558.2" r="5.1" fill="url(#gb)"/><circle cx="245.5" cy="612.9" r="4.8" fill="url(#gy)"/><circle cx="308.3" cy="573.2" r="4.7" fill="url(#gm)"/><circle cx="286.6" cy="524" r="5.1" fill="url(#gb)"/><circle cx="233.3" cy="485.4" r="4.6" fill="url(#gm)"/><circle cx="323.1" cy="486.7" r="4.6" fill="url(#gr)"/><circle cx="299.3" cy="623.1" r="4.7" fill="url(#gb)"/><circle cx="235.7" cy="537.9" r="4.8" fill="url(#gm)"/><circle cx="243.7" cy="563.7" r="4.4" fill="url(#gy)"/><circle cx="332.7" cy="485.4" r="4.6" fill="url(#gy)"/><circle cx="330.7" cy="603" r="5.1" fill="url(#gr)"/><circle cx="326.1" cy="526.7" r="5.2" fill="url(#gm)"/><circle cx="240.4" cy="550.4" r="5.1" fill="url(#gb)"/><circle cx="281.2" cy="616.3" r="5" fill="url(#gr)"/><circle cx="233.8" cy="591.4" r="5.2" fill="url(#gr)"/><circle cx="216.7" cy="545.4" r="5" fill="url(#gm)"/><circle cx="265.6" cy="499" r="4.7" fill="url(#gr)"/><circle cx="300.8" cy="490.7" r="5.1" fill="url(#gb)"/><circle cx="244.7" cy="533" r="4.8" fill="url(#gy)"/><circle cx="285.1" cy="589.6" r="5.1" fill="url(#gy)"/><circle cx="213.4" cy="537.4" r="4.9" fill="url(#gb)"/><circle cx="239.7" cy="525.8" r="4.4" fill="url(#gy)"/><circle cx="287.2" cy="537.2" r="5.1" fill="url(#gy)"/><circle cx="250.9" cy="604.6" r="5.1" fill="url(#gm)"/><circle cx="264.5" cy="513.3" r="5.1" fill="url(#gm)"/><circle cx="282" cy="583.8" r="4.5" fill="url(#gm)"/><circle cx="281.1" cy="550.7" r="4.6" fill="url(#gm)"/><circle cx="272.3" cy="539" r="4.6" fill="url(#gm)"/><circle cx="353.3" cy="544.1" r="4.4" fill="url(#gm)"/><circle cx="241.1" cy="539.4" r="4.8" fill="url(#gy)"/><circle cx="227.3" cy="577.3" r="4.8" fill="url(#gb)"/><circle cx="300.7" cy="465.6" r="4.9" fill="url(#gy)"/><circle cx="257.1" cy="484.4" r="5.1" fill="url(#gm)"/><circle cx="237.7" cy="532.9" r="5.1" fill="url(#gb)"/><circle cx="346" cy="559.9" r="4.8" fill="url(#gm)"/><circle cx="256.1" cy="538" r="5" fill="url(#gy)"/><circle cx="363.8" cy="566.1" r="4.8" fill="url(#gy)"/><circle cx="264.7" cy="606" r="4.7" fill="url(#gr)"/><circle cx="283.5" cy="490.9" r="5.1" fill="url(#gy)"/><circle cx="352.8" cy="520.7" r="4.8" fill="url(#gr)"/><circle cx="322.9" cy="490.6" r="4.9" fill="url(#gm)"/><circle cx="329" cy="531.6" r="4.7" fill="url(#gm)"/><circle cx="272.8" cy="615.7" r="4.9" fill="url(#gb)"/><circle cx="290.6" cy="597.3" r="5" fill="url(#gm)"/><circle cx="342.5" cy="491.2" r="4.5" fill="url(#gm)"/><circle cx="287.7" cy="513.1" r="4.6" fill="url(#gy)"/><circle cx="262.5" cy="540.6" r="4.7" fill="url(#gy)"/><circle cx="245.9" cy="560" r="5.2" fill="url(#gy)"/><circle cx="325.2" cy="513.1" r="4.8" fill="url(#gm)"/><circle cx="318.3" cy="510.6" r="4.7" fill="url(#gm)"/><circle cx="289.2" cy="556.2" r="4.5" fill="url(#gy)"/><circle cx="277" cy="504.7" r="4.7" fill="url(#gm)"/><circle cx="233.1" cy="566.7" r="5" fill="url(#gy)"/><circle cx="267.6" cy="517.5" r="4.9" fill="url(#gm)"/><circle cx="304.6" cy="616.6" r="4.5" fill="url(#gb)"/><circle cx="311.7" cy="491.2" r="5" fill="url(#gy)"/><circle cx="304.7" cy="544.6" r="4.6" fill="url(#gb)"/><circle cx="309.4" cy="619" r="5.2" fill="url(#gm)"/><circle cx="244.4" cy="571.2" r="4.6" fill="url(#gy)"/><circle cx="353.8" cy="584.8" r="4.7" fill="url(#gr)"/><circle cx="352.2" cy="532.1" r="5.2" fill="url(#gb)"/><circle cx="263.9" cy="473.5" r="4.6" fill="url(#gm)"/><circle cx="254.2" cy="507.2" r="4.9" fill="url(#gy)"/><circle cx="324.4" cy="591.2" r="4.6" fill="url(#gr)"/><circle cx="207.9" cy="544.6" r="4.5" fill="url(#gm)"/><circle cx="268.5" cy="481.2" r="4.6" fill="url(#gb)"/><circle cx="335.3" cy="572.4" r="4.8" fill="url(#gb)"/><circle cx="263.4" cy="566.2" r="4.6" fill="url(#gb)"/><circle cx="273.7" cy="532" r="4.9" fill="url(#gb)"/><circle cx="210.6" cy="552.8" r="4.7" fill="url(#gr)"/><circle cx="347.8" cy="510" r="5.1" fill="url(#gm)"/><circle cx="279.5" cy="605.5" r="4.8" fill="url(#gb)"/><circle cx="236.2" cy="546.5" r="4.9" fill="url(#gb)"/><circle cx="268.6" cy="595.7" r="4.8" fill="url(#gm)"/><circle cx="326.2" cy="604.2" r="4.6" fill="url(#gm)"/><circle cx="244.7" cy="520.2" r="4.7" fill="url(#gb)"/><circle cx="315.5" cy="480.1" r="4.7" fill="url(#gr)"/><circle cx="289.2" cy="612.9" r="4.8" fill="url(#gy)"/><circle cx="294.5" cy="575.7" r="4.9" fill="url(#gb)"/><circle cx="300.7" cy="517" r="4.6" fill="url(#gb)"/><circle cx="310.9" cy="606" r="4.9" fill="url(#gy)"/><circle cx="319.9" cy="585.6" r="4.4" fill="url(#gb)"/><circle cx="281.7" cy="571.9" r="4.8" fill="url(#gb)"/><circle cx="349.6" cy="503.4" r="4.8" fill="url(#gb)"/><circle cx="259.1" cy="558.7" r="4.9" fill="url(#gy)"/><circle cx="328.8" cy="612.5" r="4.5" fill="url(#gb)"/><circle cx="223.4" cy="518.7" r="5" fill="url(#gm)"/><circle cx="289.3" cy="477.3" r="5.1" fill="url(#gb)"/><circle cx="251.1" cy="576.2" r="4.4" fill="url(#gr)"/><circle cx="237.7" cy="519.8" r="5.1" fill="url(#gb)"/><circle cx="253.8" cy="531.3" r="4.6" fill="url(#gb)"/><circle cx="229.2" cy="507.1" r="4.8" fill="url(#gm)"/><circle cx="227.6" cy="549.9" r="5.1" fill="url(#gy)"/><circle cx="231.5" cy="531.8" r="4.4" fill="url(#gy)"/><circle cx="270.2" cy="551.1" r="5.1" fill="url(#gb)"/><circle cx="223.7" cy="531.7" r="4.6" fill="url(#gy)"/><circle cx="321.4" cy="531.9" r="4.6" fill="url(#gm)"/><circle cx="305.2" cy="610.2" r="5.1" fill="url(#gm)"/><circle cx="304.4" cy="584.9" r="4.8" fill="url(#gb)"/><circle cx="275.8" cy="490.6" r="4.9" fill="url(#gy)"/><circle cx="306.3" cy="505.6" r="5.2" fill="url(#gb)"/><circle cx="350.2" cy="578.2" r="4.8" fill="url(#gr)"/><circle cx="226.4" cy="512.2" r="4.7" fill="url(#gm)"/><circle cx="341.5" cy="499.3" r="5.2" fill="url(#gr)"/><circle cx="274.2" cy="525.8" r="4.9" fill="url(#gm)"/><circle cx="302.5" cy="512" r="5.1" fill="url(#gm)"/><circle cx="294" cy="605.1" r="4.7" fill="url(#gm)"/><circle cx="345.8" cy="527.4" r="4.6" fill="url(#gy)"/><circle cx="261.5" cy="504.2" r="4.5" fill="url(#gy)"/><circle cx="326.9" cy="503.9" r="5.1" fill="url(#gr)"/><circle cx="302.8" cy="499.3" r="4.9" fill="url(#gb)"/><circle cx="276.4" cy="516.7" r="4.8" fill="url(#gm)"/><circle cx="284.4" cy="504.7" r="4.7" fill="url(#gy)"/><circle cx="247.9" cy="497.8" r="4.6" fill="url(#gy)"/><circle cx="298.4" cy="584.6" r="5.1" fill="url(#gb)"/><circle cx="229.8" cy="545.3" r="4.8" fill="url(#gy)"/><circle cx="346.1" cy="500" r="4.8" fill="url(#gy)"/><circle cx="292.5" cy="503.9" r="4.6" fill="url(#gy)"/><circle cx="214.9" cy="517.6" r="4.9" fill="url(#gm)"/><circle cx="311.6" cy="524.8" r="4.5" fill="url(#gm)"/><circle cx="307.5" cy="491.6" r="4.7" fill="url(#gb)"/><circle cx="318.9" cy="527.3" r="5" fill="url(#gb)"/><circle cx="317.9" cy="537" r="4.4" fill="url(#gr)"/><circle cx="270.2" cy="494.2" r="5" fill="url(#gm)"/><circle cx="364.4" cy="526" r="4.9" fill="url(#gb)"/><circle cx="304.8" cy="518.4" r="5" fill="url(#gb)"/><circle cx="252.6" cy="584.7" r="4.6" fill="url(#gm)"/><circle cx="322.3" cy="505" r="4.6" fill="url(#gb)"/><circle cx="272.2" cy="591.9" r="5" fill="url(#gy)"/><circle cx="246.6" cy="477.6" r="5.2" fill="url(#gb)"/><circle cx="254.9" cy="570.4" r="4.9" fill="url(#gm)"/><circle cx="279.9" cy="513" r="4.6" fill="url(#gm)"/><circle cx="254.9" cy="566" r="5.2" fill="url(#gb)"/><circle cx="282" cy="611.5" r="4.7" fill="url(#gm)"/><circle cx="357.5" cy="523.1" r="5.2" fill="url(#gb)"/><circle cx="274.1" cy="565" r="4.6" fill="url(#gm)"/><circle cx="308" cy="553.5" r="5" fill="url(#gb)"/><circle cx="355.8" cy="540.2" r="4.4" fill="url(#gm)"/><circle cx="269.2" cy="585.7" r="5.1" fill="url(#gb)"/><circle cx="220.5" cy="526.9" r="5" fill="url(#gr)"/><circle cx="258.1" cy="551.1" r="4.9" fill="url(#gb)"/><circle cx="299.7" cy="531.5" r="4.9" fill="url(#gb)"/><circle cx="298.3" cy="504.5" r="4.8" fill="url(#gr)"/><circle cx="289.4" cy="625.4" r="5.1" fill="url(#gr)"/><circle cx="338.2" cy="525.4" r="4.9" fill="url(#gm)"/><circle cx="258.9" cy="583.7" r="4.6" fill="url(#gm)"/><circle cx="354.9" cy="512.7" r="5" fill="url(#gm)"/><circle cx="326.3" cy="576.6" r="4.6" fill="url(#gy)"/><circle cx="249.3" cy="589.5" r="4.7" fill="url(#gm)"/><circle cx="347.6" cy="592" r="5" fill="url(#gy)"/><circle cx="275.3" cy="610.6" r="4.5" fill="url(#gy)"/><circle cx="218.2" cy="566.8" r="5.2" fill="url(#gm)"/><circle cx="237.1" cy="493.8" r="4.7" fill="url(#gy)"/><circle cx="320.3" cy="479.4" r="4.8" fill="url(#gb)"/><circle cx="280.8" cy="540" r="4.6" fill="url(#gy)"/><circle cx="321.7" cy="596.5" r="4.8" fill="url(#gr)"/><circle cx="299.7" cy="571.1" r="4.8" fill="url(#gy)"/><circle cx="335.5" cy="585.3" r="4.9" fill="url(#gm)"/><circle cx="329.3" cy="597" r="4.7" fill="url(#gm)"/><circle cx="230.3" cy="491.6" r="4.6" fill="url(#gr)"/><circle cx="297.2" cy="480.9" r="5.2" fill="url(#gy)"/><circle cx="244.3" cy="542.9" r="4.8" fill="url(#gm)"/><circle cx="248.4" cy="553.3" r="4.7" fill="url(#gm)"/><circle cx="294.1" cy="619.2" r="4.7" fill="url(#gm)"/><circle cx="321.9" cy="609.7" r="4.8" fill="url(#gy)"/><circle cx="344.9" cy="545" r="4.5" fill="url(#gr)"/><circle cx="238.4" cy="570.5" r="4.8" fill="url(#gb)"/><circle cx="232.1" cy="500.8" r="4.9" fill="url(#gr)"/><circle cx="278" cy="485.6" r="5.2" fill="url(#gb)"/><circle cx="273.8" cy="570.1" r="4.4" fill="url(#gb)"/><circle cx="334.6" cy="492.3" r="4.7" fill="url(#gb)"/><circle cx="323.3" cy="500.8" r="4.7" fill="url(#gb)"/><circle cx="330.9" cy="577.1" r="5" fill="url(#gy)"/><circle cx="293.2" cy="591.5" r="4.9" fill="url(#gm)"/><circle cx="296.1" cy="552.5" r="4.5" fill="url(#gb)"/><circle cx="316.4" cy="486.3" r="5.2" fill="url(#gm)"/><circle cx="271.9" cy="579.4" r="4.6" fill="url(#gr)"/><circle cx="254.5" cy="490.6" r="5" fill="url(#gm)"/><circle cx="272.7" cy="500.9" r="4.9" fill="url(#gm)"/><circle cx="233.6" cy="604.8" r="4.5" fill="url(#gy)"/><circle cx="281.5" cy="564.2" r="4.8" fill="url(#gm)"/><circle cx="359.3" cy="572.7" r="4.6" fill="url(#gb)"/><circle cx="219.7" cy="576.1" r="4.8" fill="url(#gm)"/><circle cx="226.1" cy="563" r="4.6" fill="url(#gm)"/><circle cx="360.2" cy="547" r="5.1" fill="url(#gm)"/><circle cx="274.4" cy="584.3" r="4.8" fill="url(#gb)"/><circle cx="213.9" cy="558.2" r="5.2" fill="url(#gy)"/><circle cx="330.7" cy="546.8" r="5.1" fill="url(#gm)"/><circle cx="329.3" cy="585.6" r="4.7" fill="url(#gy)"/><circle cx="255.9" cy="589.1" r="5.2" fill="url(#gm)"/><circle cx="296.9" cy="485.2" r="5.2" fill="url(#gb)"/><circle cx="314.6" cy="520.3" r="5.1" fill="url(#gm)"/><circle cx="317.6" cy="551" r="4.8" fill="url(#gy)"/><circle cx="285.2" cy="577.8" r="4.5" fill="url(#gb)"/><circle cx="253.7" cy="516.5" r="4.6" fill="url(#gb)"/><circle cx="256.3" cy="603.4" r="5" fill="url(#gr)"/><circle cx="275.2" cy="545.7" r="4.6" fill="url(#gy)"/><circle cx="285.1" cy="598.7" r="4.6" fill="url(#gm)"/><circle cx="281.4" cy="545.3" r="5.1" fill="url(#gm)"/><circle cx="341.5" cy="577.9" r="4.9" fill="url(#gm)"/><circle cx="338.6" cy="514.2" r="4.7" fill="url(#gy)"/><circle cx="262.5" cy="533" r="4.4" fill="url(#gy)"/><circle cx="337.2" cy="545.3" r="4.4" fill="url(#gy)"/><circle cx="312" cy="593.1" r="4.5" fill="url(#gr)"/><circle cx="303.2" cy="592.7" r="4.9" fill="url(#gb)"/><circle cx="261.6" cy="571.6" r="4.8" fill="url(#gm)"/><circle cx="328.9" cy="559.9" r="4.9" fill="url(#gy)"/><circle cx="314.9" cy="585.4" r="5.1" fill="url(#gm)"/><circle cx="307.9" cy="479.4" r="4.8" fill="url(#gb)"/><circle cx="285.6" cy="500" r="4.8" fill="url(#gy)"/><circle cx="264.9" cy="590.6" r="4.9" fill="url(#gb)"/><circle cx="330.4" cy="477.2" r="4.8" fill="url(#gr)"/><circle cx="343.2" cy="586.2" r="4.6" fill="url(#gm)"/><circle cx="309" cy="511.1" r="4.4" fill="url(#gr)"/><circle cx="304.4" cy="473.1" r="4.9" fill="url(#gb)"/><circle cx="311.9" cy="506.1" r="5" fill="url(#gb)"/><circle cx="348.2" cy="538.7" r="4.6" fill="url(#gm)"/><circle cx="298.2" cy="556.7" r="4.5" fill="url(#gm)"/><circle cx="278.5" cy="577.2" r="4.7" fill="url(#gy)"/><circle cx="306.3" cy="623.2" r="5.1" fill="url(#gy)"/><circle cx="238.9" cy="506.9" r="5.2" fill="url(#gr)"/><circle cx="288.2" cy="565.4" r="4.9" fill="url(#gy)"/><circle cx="230" cy="556.6" r="4.8" fill="url(#gy)"/><circle cx="363.4" cy="551.9" r="5" fill="url(#gb)"/><circle cx="295.6" cy="513.8" r="4.7" fill="url(#gy)"/><circle cx="272.5" cy="470.5" r="5" fill="url(#gy)"/><circle cx="241.2" cy="592.8" r="4.9" fill="url(#gr)"/><circle cx="338.2" cy="595.7" r="4.5" fill="url(#gy)"/><circle cx="293.2" cy="582.4" r="5" fill="url(#gb)"/><circle cx="330.7" cy="511.6" r="5.1" fill="url(#gm)"/><circle cx="349.6" cy="566.4" r="4.7" fill="url(#gb)"/><circle cx="290.5" cy="572.7" r="4.9" fill="url(#gb)"/><circle cx="332.2" cy="539.5" r="4.6" fill="url(#gy)"/><circle cx="289.4" cy="543" r="4.7" fill="url(#gb)"/><circle cx="258.5" cy="492.3" r="5" fill="url(#gm)"/><circle cx="315.6" cy="576" r="5" fill="url(#gy)"/><circle cx="289" cy="491" r="5" fill="url(#gy)"/><circle cx="257.4" cy="499.3" r="5.1" fill="url(#gm)"/><circle cx="281.3" cy="558.3" r="4.5" fill="url(#gy)"/><circle cx="340.8" cy="590.6" r="4.6" fill="url(#gb)"/><circle cx="303.6" cy="563.4" r="4.6" fill="url(#gb)"/><circle cx="272.5" cy="486.6" r="4.5" fill="url(#gm)"/><circle cx="261.1" cy="480" r="4.6" fill="url(#gb)"/><circle cx="248.4" cy="513.9" r="4.9" fill="url(#gb)"/><circle cx="339" cy="564.4" r="4.6" fill="url(#gm)"/><circle cx="267.5" cy="531.5" r="4.5" fill="url(#gr)"/><circle cx="293.2" cy="532.8" r="4.8" fill="url(#gb)"/><circle cx="313.8" cy="595.7" r="4.4" fill="url(#gr)"/><circle cx="291.3" cy="518.1" r="4.6" fill="url(#gy)"/><circle cx="258.1" cy="524.5" r="4.8" fill="url(#gb)"/><circle cx="337.2" cy="533.9" r="4.7" fill="url(#gr)"/><circle cx="286.5" cy="617.6" r="4.5" fill="url(#gb)"/><circle cx="315.7" cy="605.6" r="5.2" fill="url(#gm)"/><circle cx="301" cy="603.2" r="5.1" fill="url(#gy)"/><circle cx="330.7" cy="494.4" r="4.5" fill="url(#gm)"/><circle cx="304.7" cy="559.2" r="5" fill="url(#gm)"/><circle cx="278.8" cy="526.6" r="4.8" fill="url(#gr)"/><circle cx="265" cy="615.4" r="5" fill="url(#gy)"/><circle cx="342.6" cy="518.4" r="4.7" fill="url(#gr)"/><circle cx="239.8" cy="578.9" r="4.7" fill="url(#gy)"/><circle cx="228.1" cy="592.3" r="4.4" fill="url(#gm)"/><circle cx="308.1" cy="486.2" r="4.6" fill="url(#gm)"/><circle cx="260.7" cy="608.8" r="4.5" fill="url(#gr)"/><circle cx="303" cy="537" r="5.2" fill="url(#gb)"/><circle cx="269.9" cy="572.4" r="4.7" fill="url(#gy)"/><circle cx="276" cy="625.9" r="4.7" fill="url(#gy)"/><circle cx="230.9" cy="569.5" r="4.5" fill="url(#gm)"/><circle cx="274.7" cy="465.7" r="5.1" fill="url(#gy)"/><circle cx="241.5" cy="500.9" r="4.5" fill="url(#gr)"/><circle cx="283.1" cy="478.8" r="4.8" fill="url(#gm)"/><circle cx="342.8" cy="533" r="4.7" fill="url(#gm)"/><circle cx="358.9" cy="557.1" r="4.8" fill="url(#gy)"/><circle cx="335" cy="565.8" r="4.5" fill="url(#gb)"/><circle cx="215.6" cy="572.7" r="4.5" fill="url(#gy)"/><circle cx="209.6" cy="566.6" r="4.6" fill="url(#gy)"/><circle cx="278.2" cy="471.9" r="5.1" fill="url(#gm)"/><circle cx="220.9" cy="505.7" r="4.9" fill="url(#gm)"/><circle cx="296.3" cy="499.7" r="4.9" fill="url(#gm)"/><circle cx="282.9" cy="466.3" r="4.5" fill="url(#gb)"/><circle cx="223" cy="556" r="4.8" fill="url(#gy)"/><circle cx="357.7" cy="553.2" r="4.8" fill="url(#gr)"/><circle cx="251.7" cy="599" r="4.7" fill="url(#gb)"/><circle cx="358.5" cy="532.6" r="4.8" fill="url(#gm)"/><circle cx="296.7" cy="546.9" r="4.9" fill="url(#gm)"/><circle cx="305" cy="597.3" r="5.2" fill="url(#gb)"/><circle cx="259.4" cy="595.5" r="5" fill="url(#gb)"/><circle cx="313" cy="556.3" r="5" fill="url(#gy)"/><circle cx="334.8" cy="525.4" r="5" fill="url(#gr)"/><circle cx="334" cy="549.9" r="4.5" fill="url(#gr)"/><circle cx="353.5" cy="565.4" r="4.8" fill="url(#gy)"/><circle cx="315.6" cy="473.8" r="4.7" fill="url(#gr)"/><circle cx="245.2" cy="505.2" r="4.9" fill="url(#gb)"/><circle cx="276" cy="557.9" r="5.1" fill="url(#gm)"/><circle cx="323.5" cy="566.3" r="4.9" fill="url(#gr)"/><circle cx="240.8" cy="602.3" r="5" fill="url(#gr)"/><circle cx="319.7" cy="592.2" r="4.4" fill="url(#gy)"/><circle cx="267.3" cy="544.4" r="4.7" fill="url(#gb)"/><circle cx="260.4" cy="518.5" r="4.8" fill="url(#gb)"/><circle cx="366.7" cy="544.5" r="4.5" fill="url(#gb)"/><circle cx="243.7" cy="487.9" r="4.6" fill="url(#gm)"/><circle cx="368.2" cy="531.8" r="5.1" fill="url(#gy)"/><circle cx="311.9" cy="573.1" r="4.6" fill="url(#gy)"/><circle cx="331" cy="592.8" r="4.5" fill="url(#gy)"/><circle cx="319.6" cy="558.8" r="4.7" fill="url(#gy)"/><circle cx="249.1" cy="615.5" r="4.6" fill="url(#gm)"/><circle cx="315.6" cy="609" r="4.7" fill="url(#gb)"/><circle cx="208.8" cy="559" r="5.1" fill="url(#gr)"/><circle cx="285.1" cy="474.2" r="4.8" fill="url(#gm)"/><circle cx="339.9" cy="536.3" r="5.2" fill="url(#gb)"/><circle cx="263.1" cy="551.4" r="5.1" fill="url(#gr)"/><circle cx="251.2" cy="487.8" r="5.1" fill="url(#gm)"/><circle cx="324.2" cy="619.2" r="4.7" fill="url(#gy)"/><circle cx="333.5" cy="500.9" r="5.1" fill="url(#gy)"/><circle cx="258.2" cy="617.1" r="4.6" fill="url(#gr)"/><circle cx="342.7" cy="573.1" r="5.1" fill="url(#gr)"/></g>
<g clip-path="url(#kc5)"><circle cx="747" cy="582.2" r="4.8" fill="url(#gm)"/><circle cx="691" cy="562.7" r="4.5" fill="url(#gb)"/><circle cx="715.1" cy="588.2" r="5.2" fill="url(#gm)"/><circle cx="734.1" cy="557.8" r="4.9" fill="url(#gb)"/><circle cx="711.4" cy="491.2" r="4.6" fill="url(#gy)"/><circle cx="710.3" cy="467.1" r="4.8" fill="url(#gm)"/><circle cx="671.2" cy="486.2" r="4.9" fill="url(#gb)"/><circle cx="717.1" cy="492.9" r="4.5" fill="url(#gy)"/><circle cx="757" cy="595.5" r="5.1" fill="url(#gm)"/><circle cx="766.7" cy="577.2" r="5" fill="url(#gr)"/><circle cx="754.8" cy="516" r="4.4" fill="url(#gm)"/><circle cx="709.1" cy="614.6" r="5" fill="url(#gm)"/><circle cx="800" cy="517.2" r="4.8" fill="url(#gm)"/><circle cx="776.4" cy="577.2" r="5" fill="url(#gy)"/><circle cx="667.5" cy="542.5" r="5.1" fill="url(#gy)"/><circle cx="761.2" cy="471.6" r="4.8" fill="url(#gy)"/><circle cx="725.2" cy="556.8" r="5" fill="url(#gr)"/><circle cx="716.5" cy="460.1" r="4.9" fill="url(#gb)"/><circle cx="734.5" cy="544.4" r="4.9" fill="url(#gb)"/><circle cx="787.9" cy="578.4" r="4.5" fill="url(#gy)"/><circle cx="781.7" cy="511.1" r="5.2" fill="url(#gb)"/><circle cx="746.6" cy="555.5" r="4.7" fill="url(#gy)"/><circle cx="646.8" cy="549" r="5" fill="url(#gb)"/><circle cx="721.7" cy="574.7" r="4.5" fill="url(#gr)"/><circle cx="663.1" cy="535.5" r="5" fill="url(#gb)"/><circle cx="689.4" cy="542.5" r="5.2" fill="url(#gb)"/><circle cx="667.6" cy="558.1" r="5.1" fill="url(#gm)"/><circle cx="714.1" cy="601.8" r="4.4" fill="url(#gb)"/><circle cx="678.8" cy="600.8" r="4.5" fill="url(#gb)"/><circle cx="666" cy="515.8" r="4.8" fill="url(#gb)"/><circle cx="666" cy="531" r="4.9" fill="url(#gb)"/><circle cx="739.7" cy="607.6" r="4.5" fill="url(#gy)"/><circle cx="652.9" cy="538.1" r="4.5" fill="url(#gb)"/><circle cx="661.6" cy="513.1" r="4.5" fill="url(#gm)"/><circle cx="689.7" cy="610.8" r="4.9" fill="url(#gm)"/><circle cx="767.3" cy="548.3" r="4.9" fill="url(#gy)"/><circle cx="762.7" cy="529.2" r="4.7" fill="url(#gm)"/><circle cx="771.9" cy="557.4" r="5.1" fill="url(#gr)"/><circle cx="702" cy="608" r="5" fill="url(#gy)"/><circle cx="776.7" cy="564.4" r="4.7" fill="url(#gm)"/><circle cx="799.4" cy="524.9" r="5.1" fill="url(#gy)"/><circle cx="709.1" cy="588.2" r="4.8" fill="url(#gm)"/><circle cx="684.3" cy="470.6" r="5.1" fill="url(#gb)"/><circle cx="709.6" cy="506" r="5.2" fill="url(#gr)"/><circle cx="709.7" cy="531.3" r="4.5" fill="url(#gb)"/><circle cx="765.4" cy="497.4" r="5.1" fill="url(#gm)"/><circle cx="709.4" cy="538.7" r="4.9" fill="url(#gb)"/><circle cx="790.7" cy="562" r="4.9" fill="url(#gb)"/><circle cx="750.1" cy="490.4" r="4.9" fill="url(#gm)"/><circle cx="695.7" cy="568.5" r="5.1" fill="url(#gm)"/><circle cx="675.5" cy="518.1" r="5" fill="url(#gy)"/><circle cx="685" cy="602.2" r="4.7" fill="url(#gb)"/><circle cx="754.9" cy="467.7" r="5.1" fill="url(#gm)"/><circle cx="713.9" cy="538.2" r="4.8" fill="url(#gb)"/><circle cx="675.5" cy="525.3" r="4.5" fill="url(#gy)"/><circle cx="723.5" cy="590.7" r="5" fill="url(#gb)"/><circle cx="714" cy="473.8" r="4.7" fill="url(#gm)"/><circle cx="703.2" cy="491.3" r="5" fill="url(#gy)"/><circle cx="680.6" cy="557.1" r="4.8" fill="url(#gy)"/><circle cx="795.7" cy="543.8" r="4.6" fill="url(#gb)"/><circle cx="780" cy="504.5" r="4.6" fill="url(#gr)"/><circle cx="694.6" cy="505" r="4.7" fill="url(#gb)"/><circle cx="705.8" cy="464.3" r="4.4" fill="url(#gb)"/><circle cx="700.7" cy="576.9" r="5.1" fill="url(#gm)"/><circle cx="747.1" cy="505.4" r="4.6" fill="url(#gy)"/><circle cx="749.4" cy="596" r="4.8" fill="url(#gr)"/><circle cx="766.1" cy="523.4" r="5" fill="url(#gm)"/><circle cx="781.8" cy="535.4" r="4.8" fill="url(#gy)"/><circle cx="769.4" cy="584.8" r="4.6" fill="url(#gb)"/><circle cx="730.7" cy="588.7" r="4.6" fill="url(#gb)"/><circle cx="653.3" cy="564.5" r="4.8" fill="url(#gy)"/><circle cx="692.1" cy="499.5" r="5.2" fill="url(#gb)"/><circle cx="776.7" cy="601.7" r="4.6" fill="url(#gy)"/><circle cx="729.1" cy="496.8" r="4.9" fill="url(#gy)"/><circle cx="714.9" cy="497.6" r="5" fill="url(#gy)"/><circle cx="725.6" cy="596.6" r="4.8" fill="url(#gb)"/><circle cx="725" cy="610" r="4.6" fill="url(#gy)"/><circle cx="739.6" cy="538.6" r="4.4" fill="url(#gr)"/><circle cx="741.8" cy="467.8" r="5.1" fill="url(#gm)"/><circle cx="755.8" cy="610" r="5.1" fill="url(#gy)"/><circle cx="687.3" cy="556.9" r="4.8" fill="url(#gy)"/><circle cx="694.2" cy="524.3" r="5.1" fill="url(#gy)"/><circle cx="701.5" cy="523.3" r="4.9" fill="url(#gb)"/><circle cx="649.4" cy="545" r="4.7" fill="url(#gm)"/><circle cx="660.2" cy="557.6" r="4.4" fill="url(#gm)"/><circle cx="722.1" cy="550.6" r="4.6" fill="url(#gb)"/><circle cx="685.8" cy="536.5" r="5" fill="url(#gy)"/><circle cx="747.6" cy="530" r="4.4" fill="url(#gy)"/><circle cx="692.8" cy="577.6" r="5.2" fill="url(#gm)"/><circle cx="716.7" cy="576.9" r="4.7" fill="url(#gy)"/><circle cx="731" cy="601.8" r="4.7" fill="url(#gb)"/><circle cx="672.2" cy="561.7" r="5" fill="url(#gm)"/><circle cx="655.5" cy="523.1" r="5" fill="url(#gb)"/><circle cx="777.2" cy="477.5" r="5" fill="url(#gr)"/><circle cx="779.1" cy="529.4" r="4.7" fill="url(#gr)"/><circle cx="783.9" cy="525.8" r="4.6" fill="url(#gm)"/><circle cx="730.9" cy="523.2" r="5.2" fill="url(#gb)"/><circle cx="710.7" cy="596.1" r="5" fill="url(#gy)"/><circle cx="725.6" cy="568.2" r="4.8" fill="url(#gb)"/><circle cx="687.6" cy="530.8" r="4.4" fill="url(#gr)"/><circle cx="708.9" cy="498.1" r="4.4" fill="url(#gy)"/><circle cx="681.5" cy="570" r="4.8" fill="url(#gm)"/><circle cx="723.7" cy="497.8" r="4.7" fill="url(#gr)"/><circle cx="782.4" cy="587.4" r="4.7" fill="url(#gb)"/><circle cx="708.6" cy="471.5" r="4.6" fill="url(#gm)"/><circle cx="660.8" cy="505.3" r="5.2" fill="url(#gm)"/><circle cx="791.8" cy="516.4" r="4.4" fill="url(#gy)"/><circle cx="758.3" cy="558.5" r="5.2" fill="url(#gm)"/><circle cx="716.9" cy="524.3" r="4.8" fill="url(#gr)"/><circle cx="728.1" cy="516.6" r="5.1" fill="url(#gy)"/><circle cx="738.8" cy="562.3" r="4.9" fill="url(#gm)"/><circle cx="678.8" cy="498.3" r="5" fill="url(#gr)"/><circle cx="732" cy="457.5" r="5" fill="url(#gm)"/><circle cx="649.7" cy="515.8" r="5.1" fill="url(#gy)"/><circle cx="716.9" cy="544.2" r="5.1" fill="url(#gb)"/><circle cx="769.2" cy="486.9" r="4.6" fill="url(#gb)"/><circle cx="682" cy="531.2" r="4.6" fill="url(#gr)"/><circle cx="736.1" cy="470.7" r="5.1" fill="url(#gm)"/><circle cx="739.6" cy="604.1" r="4.7" fill="url(#gy)"/><circle cx="723.3" cy="562.6" r="4.9" fill="url(#gb)"/><circle cx="713.4" cy="562.1" r="4.7" fill="url(#gm)"/><circle cx="720.7" cy="557" r="4.7" fill="url(#gb)"/><circle cx="752.2" cy="602.1" r="5" fill="url(#gy)"/><circle cx="786.3" cy="493.7" r="5.2" fill="url(#gr)"/><circle cx="789.4" cy="523.3" r="4.8" fill="url(#gb)"/><circle cx="696.4" cy="581.5" r="5.2" fill="url(#gb)"/><circle cx="770.4" cy="491.9" r="4.9" fill="url(#gb)"/><circle cx="764.4" cy="504.6" r="5" fill="url(#gb)"/><circle cx="776.9" cy="523.8" r="4.5" fill="url(#gm)"/><circle cx="745.3" cy="575.6" r="4.9" fill="url(#gy)"/><circle cx="757.5" cy="582.1" r="4.7" fill="url(#gm)"/><circle cx="656.1" cy="513.5" r="5" fill="url(#gb)"/><circle cx="728.1" cy="584.9" r="5" fill="url(#gb)"/><circle cx="687.3" cy="569.8" r="4.6" fill="url(#gb)"/><circle cx="674.9" cy="503.7" r="5" fill="url(#gy)"/><circle cx="695.6" cy="607.8" r="4.8" fill="url(#gr)"/><circle cx="739" cy="485.9" r="4.5" fill="url(#gm)"/><circle cx="651.9" cy="558.7" r="4.7" fill="url(#gy)"/><circle cx="707.5" cy="509.5" r="5.2" fill="url(#gy)"/><circle cx="698" cy="596.4" r="4.4" fill="url(#gr)"/><circle cx="658.5" cy="531.8" r="4.6" fill="url(#gy)"/><circle cx="802.1" cy="569.6" r="4.9" fill="url(#gy)"/><circle cx="725.5" cy="546" r="5" fill="url(#gr)"/><circle cx="785.8" cy="517.6" r="4.9" fill="url(#gy)"/><circle cx="795.7" cy="537.2" r="4.7" fill="url(#gb)"/><circle cx="683.8" cy="500.2" r="4.4" fill="url(#gy)"/><circle cx="768.4" cy="513.2" r="5" fill="url(#gb)"/><circle cx="678.2" cy="552.4" r="4.8" fill="url(#gy)"/><circle cx="794.4" cy="556" r="4.7" fill="url(#gb)"/><circle cx="746.6" cy="602.6" r="5" fill="url(#gm)"/><circle cx="703.9" cy="545.5" r="4.9" fill="url(#gb)"/><circle cx="771.3" cy="546.1" r="5.2" fill="url(#gb)"/><circle cx="766.4" cy="539" r="4.5" fill="url(#gy)"/><circle cx="728.7" cy="614.6" r="5" fill="url(#gb)"/><circle cx="724.9" cy="506.8" r="4.8" fill="url(#gm)"/><circle cx="701.9" cy="582" r="5.2" fill="url(#gb)"/><circle cx="740.2" cy="490.3" r="4.5" fill="url(#gm)"/><circle cx="698.1" cy="602.8" r="4.9" fill="url(#gb)"/><circle cx="682.4" cy="582.9" r="5" fill="url(#gm)"/><circle cx="675.1" cy="480.1" r="4.8" fill="url(#gr)"/><circle cx="731.4" cy="474.3" r="5.2" fill="url(#gm)"/><circle cx="655.5" cy="552.1" r="4.5" fill="url(#gm)"/><circle cx="704.2" cy="479.6" r="5.1" fill="url(#gr)"/><circle cx="724.2" cy="490.8" r="4.6" fill="url(#gm)"/><circle cx="678.1" cy="574.8" r="4.9" fill="url(#gb)"/><circle cx="682.5" cy="542" r="4.8" fill="url(#gm)"/><circle cx="748.2" cy="480.3" r="4.4" fill="url(#gr)"/><circle cx="794" cy="583.5" r="4.9" fill="url(#gy)"/><circle cx="735.4" cy="608.1" r="5" fill="url(#gy)"/><circle cx="689.1" cy="505.9" r="4.5" fill="url(#gm)"/><circle cx="724.5" cy="526" r="4.4" fill="url(#gy)"/><circle cx="687.3" cy="581" r="4.7" fill="url(#gy)"/><circle cx="703.5" cy="504.4" r="5.1" fill="url(#gy)"/><circle cx="732.7" cy="491.9" r="4.8" fill="url(#gm)"/><circle cx="697.5" cy="518.7" r="4.5" fill="url(#gb)"/><circle cx="734.3" cy="569.3" r="5.1" fill="url(#gb)"/><circle cx="694.7" cy="590.3" r="4.5" fill="url(#gb)"/><circle cx="739.2" cy="575.7" r="5" fill="url(#gy)"/><circle cx="803.5" cy="535.5" r="4.6" fill="url(#gr)"/><circle cx="702.2" cy="498.4" r="4.8" fill="url(#gm)"/><circle cx="752.7" cy="526.1" r="4.4" fill="url(#gm)"/><circle cx="747.6" cy="516.9" r="5" fill="url(#gy)"/><circle cx="757.6" cy="492.3" r="4.9" fill="url(#gy)"/><circle cx="761.6" cy="583.1" r="4.9" fill="url(#gy)"/><circle cx="787.6" cy="572.1" r="4.7" fill="url(#gm)"/><circle cx="720.4" cy="581.6" r="5.1" fill="url(#gy)"/><circle cx="755.1" cy="504.1" r="4.7" fill="url(#gy)"/><circle cx="694.7" cy="542.1" r="4.9" fill="url(#gb)"/><circle cx="740.9" cy="516.8" r="4.6" fill="url(#gr)"/><circle cx="759.9" cy="587.3" r="5" fill="url(#gm)"/><circle cx="722.1" cy="616.3" r="5.1" fill="url(#gr)"/><circle cx="675" cy="582.4" r="4.7" fill="url(#gb)"/><circle cx="724.1" cy="511.4" r="4.8" fill="url(#gm)"/><circle cx="708.2" cy="485" r="5.2" fill="url(#gr)"/><circle cx="802.1" cy="545.5" r="4.5" fill="url(#gb)"/><circle cx="713.9" cy="552.6" r="5.1" fill="url(#gy)"/><circle cx="710.1" cy="520.1" r="4.5" fill="url(#gm)"/><circle cx="766.4" cy="604.1" r="4.9" fill="url(#gy)"/><circle cx="750.9" cy="550.3" r="4.7" fill="url(#gm)"/><circle cx="753.8" cy="498.9" r="4.4" fill="url(#gr)"/><circle cx="709.2" cy="523.3" r="4.8" fill="url(#gm)"/><circle cx="660.4" cy="563.2" r="4.6" fill="url(#gm)"/><circle cx="677.7" cy="561.8" r="4.5" fill="url(#gm)"/><circle cx="724.4" cy="479.3" r="4.6" fill="url(#gy)"/><circle cx="776.8" cy="587.7" r="4.4" fill="url(#gy)"/><circle cx="718.1" cy="529.1" r="5.1" fill="url(#gb)"/><circle cx="779.4" cy="596.6" r="4.8" fill="url(#gy)"/><circle cx="716.8" cy="512.1" r="4.9" fill="url(#gy)"/><circle cx="702.3" cy="518.6" r="4.6" fill="url(#gb)"/><circle cx="770.9" cy="480" r="5.1" fill="url(#gr)"/><circle cx="752.6" cy="470.4" r="4.9" fill="url(#gr)"/><circle cx="684.1" cy="522.6" r="5" fill="url(#gm)"/><circle cx="746.8" cy="467.1" r="4.7" fill="url(#gy)"/><circle cx="746.1" cy="562.1" r="4.7" fill="url(#gr)"/><circle cx="750.8" cy="485" r="4.8" fill="url(#gm)"/><circle cx="697.4" cy="464.7" r="4.9" fill="url(#gm)"/><circle cx="797.6" cy="551.4" r="4.5" fill="url(#gb)"/><circle cx="681.4" cy="520" r="4.6" fill="url(#gm)"/><circle cx="799" cy="578.6" r="5" fill="url(#gm)"/><circle cx="731.6" cy="486.2" r="5" fill="url(#gy)"/><circle cx="718.8" cy="607.4" r="5.1" fill="url(#gy)"/><circle cx="690.6" cy="471.3" r="4.8" fill="url(#gm)"/><circle cx="729.1" cy="536.6" r="4.7" fill="url(#gb)"/><circle cx="701" cy="551.7" r="5.1" fill="url(#gy)"/><circle cx="698.7" cy="590.9" r="5" fill="url(#gb)"/><circle cx="758.4" cy="511.7" r="4.5" fill="url(#gy)"/><circle cx="744.8" cy="549.2" r="4.7" fill="url(#gy)"/><circle cx="784.9" cy="542.5" r="4.9" fill="url(#gy)"/><circle cx="720.8" cy="536.7" r="4.8" fill="url(#gy)"/><circle cx="761.6" cy="518.7" r="4.9" fill="url(#gm)"/><circle cx="736.4" cy="616.7" r="4.7" fill="url(#gb)"/><circle cx="646.7" cy="536.6" r="4.8" fill="url(#gb)"/><circle cx="664.9" cy="489.8" r="4.7" fill="url(#gy)"/><circle cx="753.6" cy="511.6" r="4.9" fill="url(#gy)"/><circle cx="668.3" cy="549.8" r="4.5" fill="url(#gm)"/><circle cx="750.2" cy="543.2" r="4.6" fill="url(#gy)"/><circle cx="784" cy="574.3" r="4.5" fill="url(#gy)"/><circle cx="657.8" cy="568" r="5.2" fill="url(#gm)"/><circle cx="765.7" cy="556.7" r="4.9" fill="url(#gy)"/><circle cx="664.4" cy="569.7" r="4.7" fill="url(#gb)"/><circle cx="736.4" cy="461" r="4.7" fill="url(#gb)"/><circle cx="756.7" cy="570.2" r="4.6" fill="url(#gb)"/><circle cx="700.8" cy="539.1" r="5" fill="url(#gb)"/><circle cx="739.3" cy="552.2" r="4.7" fill="url(#gy)"/><circle cx="741.8" cy="568" r="4.9" fill="url(#gm)"/><circle cx="682.9" cy="493.6" r="5" fill="url(#gy)"/><circle cx="769.7" cy="506.5" r="4.7" fill="url(#gm)"/><circle cx="788.3" cy="550.9" r="5" fill="url(#gm)"/><circle cx="784" cy="565.3" r="4.8" fill="url(#gb)"/><circle cx="780.9" cy="583.5" r="4.7" fill="url(#gm)"/><circle cx="676.1" cy="537.1" r="4.6" fill="url(#gm)"/><circle cx="780.5" cy="556.1" r="4.5" fill="url(#gm)"/><circle cx="792" cy="539.5" r="5.1" fill="url(#gb)"/><circle cx="762.4" cy="543.9" r="5.2" fill="url(#gy)"/><circle cx="678.9" cy="484.3" r="4.5" fill="url(#gb)"/><circle cx="728.8" cy="578.5" r="4.8" fill="url(#gb)"/><circle cx="756.9" cy="545.5" r="4.5" fill="url(#gb)"/><circle cx="753" cy="574.7" r="4.8" fill="url(#gb)"/><circle cx="686.9" cy="577" r="5.1" fill="url(#gm)"/><circle cx="765.8" cy="588.4" r="4.7" fill="url(#gb)"/><circle cx="694.3" cy="537.3" r="5.1" fill="url(#gb)"/><circle cx="742.1" cy="546" r="4.9" fill="url(#gb)"/><circle cx="733.6" cy="503.9" r="5" fill="url(#gm)"/><circle cx="691.5" cy="548.3" r="5" fill="url(#gy)"/><circle cx="712.7" cy="606.7" r="4.4" fill="url(#gr)"/><circle cx="710" cy="556.6" r="5.1" fill="url(#gb)"/><circle cx="732.2" cy="516.7" r="4.8" fill="url(#gy)"/><circle cx="692" cy="511.3" r="5.1" fill="url(#gy)"/><circle cx="784.4" cy="497.5" r="4.7" fill="url(#gr)"/><circle cx="679.5" cy="510.2" r="4.9" fill="url(#gb)"/><circle cx="728.4" cy="562.8" r="4.5" fill="url(#gb)"/><circle cx="683.2" cy="479.6" r="4.5" fill="url(#gy)"/><circle cx="734.5" cy="463.9" r="4.4" fill="url(#gr)"/><circle cx="762.7" cy="480" r="4.7" fill="url(#gy)"/><circle cx="729.1" cy="550.1" r="4.7" fill="url(#gy)"/><circle cx="687.4" cy="596.2" r="4.7" fill="url(#gb)"/><circle cx="742.1" cy="580.9" r="4.7" fill="url(#gb)"/><circle cx="709.7" cy="583" r="4.8" fill="url(#gm)"/><circle cx="758.2" cy="478.3" r="4.6" fill="url(#gy)"/><circle cx="745.3" cy="591.4" r="5.1" fill="url(#gm)"/><circle cx="741.8" cy="597.6" r="5.1" fill="url(#gm)"/><circle cx="663.4" cy="524.4" r="4.7" fill="url(#gb)"/><circle cx="743.1" cy="481.1" r="4.4" fill="url(#gm)"/><circle cx="671.2" cy="524.2" r="4.9" fill="url(#gy)"/><circle cx="780.2" cy="492.5" r="5" fill="url(#gm)"/><circle cx="664.3" cy="506.8" r="4.7" fill="url(#gy)"/><circle cx="793.8" cy="529.5" r="5.1" fill="url(#gm)"/><circle cx="692.7" cy="604.6" r="4.8" fill="url(#gm)"/><circle cx="802" cy="556.4" r="5.2" fill="url(#gm)"/><circle cx="733.1" cy="529.8" r="4.8" fill="url(#gy)"/><circle cx="778.7" cy="567.7" r="4.6" fill="url(#gy)"/><circle cx="793.8" cy="505.9" r="5.1" fill="url(#gr)"/><circle cx="676.1" cy="587.6" r="5" fill="url(#gm)"/><circle cx="704.8" cy="595.7" r="4.9" fill="url(#gm)"/><circle cx="721.1" cy="459.6" r="4.6" fill="url(#gb)"/><circle cx="719.6" cy="505.6" r="4.6" fill="url(#gb)"/><circle cx="668.2" cy="500.6" r="4.6" fill="url(#gy)"/><circle cx="746.5" cy="510.7" r="4.6" fill="url(#gy)"/><circle cx="747.9" cy="611" r="4.5" fill="url(#gy)"/><circle cx="771.4" cy="568.7" r="4.7" fill="url(#gm)"/><circle cx="758.6" cy="496.5" r="5" fill="url(#gm)"/><circle cx="697.1" cy="477.6" r="4.5" fill="url(#gm)"/><circle cx="744.5" cy="616.4" r="4.8" fill="url(#gb)"/><circle cx="708.7" cy="577.2" r="4.6" fill="url(#gm)"/><circle cx="674.1" cy="568.9" r="5.1" fill="url(#gm)"/><circle cx="697.6" cy="531.9" r="5.1" fill="url(#gm)"/><circle cx="775" cy="550.3" r="4.8" fill="url(#gb)"/><circle cx="726.8" cy="530.6" r="4.4" fill="url(#gm)"/><circle cx="798.8" cy="563" r="4.4" fill="url(#gb)"/><circle cx="671.2" cy="574.9" r="4.7" fill="url(#gm)"/><circle cx="718.1" cy="567.9" r="4.7" fill="url(#gm)"/><circle cx="707.2" cy="550" r="4.4" fill="url(#gb)"/><circle cx="706.3" cy="604.6" r="4.7" fill="url(#gy)"/><circle cx="765.6" cy="493.2" r="4.7" fill="url(#gm)"/><circle cx="785.4" cy="557.7" r="5" fill="url(#gy)"/><circle cx="685.3" cy="563.9" r="4.7" fill="url(#gm)"/><circle cx="735" cy="478.8" r="4.6" fill="url(#gr)"/><circle cx="679.3" cy="596.4" r="5.2" fill="url(#gr)"/><circle cx="803.7" cy="524.5" r="4.6" fill="url(#gm)"/><circle cx="771.3" cy="596.5" r="4.9" fill="url(#gm)"/><circle cx="660.8" cy="576.9" r="4.8" fill="url(#gm)"/><circle cx="743.5" cy="484.3" r="5" fill="url(#gy)"/><circle cx="784.6" cy="582.8" r="4.5" fill="url(#gm)"/><circle cx="707.5" cy="562.9" r="4.4" fill="url(#gr)"/><circle cx="791.4" cy="511.2" r="4.6" fill="url(#gr)"/><circle cx="776.5" cy="537.4" r="5.1" fill="url(#gr)"/><circle cx="691.4" cy="486.8" r="5.1" fill="url(#gb)"/><circle cx="663.8" cy="548.8" r="5.1" fill="url(#gm)"/><circle cx="675.4" cy="533.1" r="5" fill="url(#gr)"/><circle cx="780.5" cy="518.5" r="5.1" fill="url(#gm)"/><circle cx="780.5" cy="549.7" r="5.1" fill="url(#gy)"/><circle cx="685.3" cy="550" r="4.5" fill="url(#gy)"/><circle cx="763.1" cy="570.9" r="5.1" fill="url(#gb)"/><circle cx="682.8" cy="484.8" r="5" fill="url(#gm)"/><circle cx="741.6" cy="556.1" r="4.9" fill="url(#gy)"/><circle cx="721.4" cy="600.8" r="4.5" fill="url(#gr)"/><circle cx="784.7" cy="530" r="5" fill="url(#gm)"/><circle cx="737.9" cy="589.8" r="4.8" fill="url(#gm)"/><circle cx="711.4" cy="571.9" r="5.2" fill="url(#gr)"/><circle cx="761.8" cy="562.6" r="4.9" fill="url(#gb)"/><circle cx="803" cy="531.5" r="5.1" fill="url(#gr)"/><circle cx="746.4" cy="535.5" r="4.9" fill="url(#gy)"/><circle cx="775.9" cy="499.3" r="4.7" fill="url(#gy)"/><circle cx="651.6" cy="532.2" r="4.6" fill="url(#gb)"/><circle cx="703.9" cy="568.6" r="4.5" fill="url(#gr)"/><circle cx="688.3" cy="516" r="5" fill="url(#gm)"/><circle cx="723.2" cy="486.9" r="4.8" fill="url(#gm)"/><circle cx="669.4" cy="587.3" r="4.8" fill="url(#gb)"/><circle cx="679.7" cy="505.1" r="4.8" fill="url(#gm)"/><circle cx="760.3" cy="486.9" r="4.5" fill="url(#gy)"/><circle cx="660.9" cy="542" r="5.2" fill="url(#gm)"/><circle cx="660.9" cy="497" r="4.7" fill="url(#gy)"/><circle cx="757.8" cy="532.8" r="5.2" fill="url(#gm)"/><circle cx="794.6" cy="569.8" r="4.9" fill="url(#gb)"/><circle cx="747.1" cy="471.7" r="4.4" fill="url(#gr)"/><circle cx="767.3" cy="562.1" r="4.9" fill="url(#gb)"/><circle cx="770.8" cy="531.9" r="5.1" fill="url(#gy)"/><circle cx="743.6" cy="498.5" r="4.4" fill="url(#gr)"/><circle cx="713.6" cy="616.5" r="5.1" fill="url(#gy)"/><circle cx="758.8" cy="526.5" r="4.6" fill="url(#gm)"/><circle cx="733.5" cy="595.4" r="4.7" fill="url(#gb)"/><circle cx="717.5" cy="516.6" r="4.5" fill="url(#gb)"/><circle cx="775.4" cy="484.1" r="4.8" fill="url(#gb)"/><circle cx="673.9" cy="595.6" r="4.4" fill="url(#gr)"/><circle cx="668" cy="580.8" r="4.9" fill="url(#gr)"/><circle cx="738.7" cy="499.4" r="4.9" fill="url(#gr)"/><circle cx="699.7" cy="486.3" r="5.1" fill="url(#gr)"/><circle cx="671.7" cy="511.2" r="5" fill="url(#gb)"/><circle cx="720" cy="476.8" r="5.2" fill="url(#gy)"/><circle cx="675.6" cy="554.9" r="5.2" fill="url(#gy)"/><circle cx="725.2" cy="468" r="4.4" fill="url(#gr)"/><circle cx="788.3" cy="497.7" r="5" fill="url(#gm)"/><circle cx="743.4" cy="504.6" r="4.8" fill="url(#gb)"/><circle cx="740.7" cy="531.9" r="4.4" fill="url(#gm)"/><circle cx="683.6" cy="510.6" r="4.9" fill="url(#gb)"/><circle cx="788" cy="505.6" r="4.7" fill="url(#gr)"/><circle cx="719.1" cy="596.3" r="4.5" fill="url(#gb)"/><circle cx="752.3" cy="587.3" r="5.1" fill="url(#gm)"/><circle cx="734.5" cy="581" r="5.1" fill="url(#gb)"/><circle cx="758.3" cy="576.4" r="4.7" fill="url(#gy)"/><circle cx="723.1" cy="473" r="4.8" fill="url(#gm)"/></g>
<g clip-path="url(#kc6)"><circle cx="1058.9" cy="553.8" r="4.7" fill="url(#gm)"/><circle cx="1075.3" cy="552.4" r="4.9" fill="url(#gm)"/><circle cx="994.5" cy="596.8" r="4.9" fill="url(#gb)"/><circle cx="1047.9" cy="599.4" r="4.5" fill="url(#gm)"/><circle cx="988.7" cy="585.9" r="4.6" fill="url(#gy)"/><circle cx="971.7" cy="531.7" r="4.9" fill="url(#gm)"/><circle cx="1000.8" cy="600.1" r="4.6" fill="url(#gb)"/><circle cx="1072.3" cy="570.4" r="4.7" fill="url(#gr)"/><circle cx="1026.9" cy="467.7" r="4.4" fill="url(#gb)"/><circle cx="1073.9" cy="515.1" r="4.4" fill="url(#gm)"/><circle cx="1046.3" cy="557.4" r="4.8" fill="url(#gy)"/><circle cx="1089.5" cy="540" r="4.6" fill="url(#gm)"/><circle cx="1043.2" cy="554.1" r="4.6" fill="url(#gy)"/><circle cx="1017.6" cy="469.2" r="4.5" fill="url(#gr)"/><circle cx="980.4" cy="495.1" r="5" fill="url(#gb)"/><circle cx="1013.4" cy="616.4" r="5" fill="url(#gm)"/><circle cx="1045.9" cy="501.4" r="5.1" fill="url(#gb)"/><circle cx="1015" cy="538.8" r="4.7" fill="url(#gb)"/><circle cx="959.3" cy="540.3" r="5.1" fill="url(#gm)"/><circle cx="1044" cy="578.4" r="4.6" fill="url(#gm)"/><circle cx="1050.9" cy="502.6" r="4.6" fill="url(#gm)"/><circle cx="1067.9" cy="553.6" r="5" fill="url(#gm)"/><circle cx="968.8" cy="578.3" r="4.8" fill="url(#gy)"/><circle cx="982" cy="590.4" r="4.6" fill="url(#gy)"/><circle cx="1069.7" cy="507.2" r="4.8" fill="url(#gm)"/><circle cx="1076.9" cy="506.9" r="4.4" fill="url(#gm)"/><circle cx="1031" cy="512.3" r="4.9" fill="url(#gy)"/><circle cx="1033.6" cy="519.8" r="5.1" fill="url(#gr)"/><circle cx="1094.6" cy="571.8" r="5.2" fill="url(#gr)"/><circle cx="1039.8" cy="559.3" r="5.1" fill="url(#gb)"/><circle cx="1044.7" cy="566.9" r="4.5" fill="url(#gy)"/><circle cx="1057" cy="598.5" r="4.8" fill="url(#gb)"/><circle cx="957.8" cy="572.7" r="4.6" fill="url(#gy)"/><circle cx="1093.7" cy="545.3" r="4.6" fill="url(#gy)"/><circle cx="1064.7" cy="583.7" r="4.9" fill="url(#gm)"/><circle cx="1083.4" cy="540.9" r="4.8" fill="url(#gy)"/><circle cx="975.2" cy="502.2" r="4.9" fill="url(#gr)"/><circle cx="1090" cy="579.8" r="4.5" fill="url(#gb)"/><circle cx="1043.2" cy="476" r="5" fill="url(#gm)"/><circle cx="1017.7" cy="548.3" r="4.5" fill="url(#gy)"/><circle cx="1000.6" cy="586.8" r="4.5" fill="url(#gb)"/><circle cx="997.7" cy="551.5" r="5.2" fill="url(#gr)"/><circle cx="1043" cy="525" r="4.5" fill="url(#gr)"/><circle cx="1005.9" cy="541.6" r="4.8" fill="url(#gr)"/><circle cx="1087.1" cy="570.9" r="4.6" fill="url(#gy)"/><circle cx="1065.7" cy="578" r="5.1" fill="url(#gm)"/><circle cx="1095.7" cy="539.7" r="4.6" fill="url(#gr)"/><circle cx="1014.9" cy="578.9" r="5.1" fill="url(#gb)"/><circle cx="995.4" cy="520.1" r="4.6" fill="url(#gy)"/><circle cx="1024.8" cy="535.5" r="4.9" fill="url(#gy)"/><circle cx="1047.6" cy="482.7" r="5" fill="url(#gm)"/><circle cx="952.2" cy="514.4" r="4.5" fill="url(#gy)"/><circle cx="962.8" cy="565.6" r="4.4" fill="url(#gb)"/><circle cx="1082.7" cy="565.5" r="4.6" fill="url(#gr)"/><circle cx="1065.8" cy="524.8" r="4.6" fill="url(#gb)"/><circle cx="1038.9" cy="483.6" r="5" fill="url(#gm)"/><circle cx="1032.3" cy="560.5" r="4.7" fill="url(#gm)"/><circle cx="1061.7" cy="507.9" r="4.6" fill="url(#gy)"/><circle cx="984.6" cy="538.5" r="4.7" fill="url(#gm)"/><circle cx="1050.4" cy="579.5" r="4.5" fill="url(#gy)"/><circle cx="1099.4" cy="532.7" r="4.7" fill="url(#gy)"/><circle cx="998" cy="499.7" r="4.5" fill="url(#gy)"/><circle cx="1047.2" cy="545.5" r="5" fill="url(#gy)"/><circle cx="1100.2" cy="547.7" r="4.5" fill="url(#gr)"/><circle cx="978.5" cy="579.2" r="4.8" fill="url(#gm)"/><circle cx="1038.5" cy="489" r="4.9" fill="url(#gr)"/><circle cx="1020.6" cy="593.7" r="5" fill="url(#gm)"/><circle cx="1044.5" cy="487.9" r="5.1" fill="url(#gr)"/><circle cx="994.7" cy="506.8" r="4.9" fill="url(#gy)"/><circle cx="1005.5" cy="513.6" r="5.2" fill="url(#gb)"/><circle cx="1081.4" cy="592.8" r="4.8" fill="url(#gy)"/><circle cx="993.5" cy="578" r="4.6" fill="url(#gr)"/><circle cx="950.7" cy="534.3" r="4.5" fill="url(#gm)"/><circle cx="1009.6" cy="547.5" r="5.1" fill="url(#gm)"/><circle cx="1065.1" cy="592.5" r="4.7" fill="url(#gm)"/><circle cx="996.2" cy="494.7" r="4.9" fill="url(#gm)"/><circle cx="1105" cy="541.3" r="4.8" fill="url(#gm)"/><circle cx="975.9" cy="486.5" r="5" fill="url(#gb)"/><circle cx="990" cy="473.1" r="4.8" fill="url(#gm)"/><circle cx="1016.6" cy="492.7" r="4.4" fill="url(#gm)"/><circle cx="1004.3" cy="493.5" r="5.1" fill="url(#gm)"/><circle cx="966.5" cy="520.1" r="4.6" fill="url(#gy)"/><circle cx="978" cy="593.1" r="4.4" fill="url(#gy)"/><circle cx="980.1" cy="506.8" r="4.7" fill="url(#gm)"/><circle cx="1021.8" cy="475.7" r="4.6" fill="url(#gr)"/><circle cx="1021.1" cy="578.2" r="5.1" fill="url(#gb)"/><circle cx="1054.6" cy="480.2" r="5" fill="url(#gy)"/><circle cx="966.7" cy="544.5" r="4.9" fill="url(#gm)"/><circle cx="977.6" cy="526.5" r="4.8" fill="url(#gm)"/><circle cx="954.7" cy="540" r="4.7" fill="url(#gb)"/><circle cx="1036.6" cy="542" r="4.5" fill="url(#gm)"/><circle cx="1079.7" cy="486.6" r="5.1" fill="url(#gb)"/><circle cx="1067.5" cy="502" r="5" fill="url(#gy)"/><circle cx="1024.6" cy="492.7" r="4.8" fill="url(#gm)"/><circle cx="1075.6" cy="522" r="5.2" fill="url(#gm)"/><circle cx="1060.1" cy="473" r="5" fill="url(#gy)"/><circle cx="999.1" cy="593.9" r="4.7" fill="url(#gb)"/><circle cx="1060.1" cy="593.5" r="4.6" fill="url(#gy)"/><circle cx="981.8" cy="501.4" r="5.2" fill="url(#gb)"/><circle cx="996.3" cy="559.3" r="4.7" fill="url(#gb)"/><circle cx="959.1" cy="520.7" r="5.1" fill="url(#gr)"/><circle cx="1004.1" cy="481.5" r="4.7" fill="url(#gy)"/><circle cx="948.2" cy="518.4" r="5.1" fill="url(#gb)"/><circle cx="970.6" cy="479.8" r="4.8" fill="url(#gy)"/><circle cx="982" cy="527.3" r="4.7" fill="url(#gm)"/><circle cx="963.4" cy="572.1" r="4.7" fill="url(#gm)"/><circle cx="1008.1" cy="520.5" r="5.1" fill="url(#gr)"/><circle cx="1003.5" cy="506.6" r="4.7" fill="url(#gb)"/><circle cx="1061.7" cy="613.1" r="5.1" fill="url(#gm)"/><circle cx="1027.1" cy="585.9" r="4.9" fill="url(#gb)"/><circle cx="972.9" cy="506.6" r="4.6" fill="url(#gm)"/><circle cx="953.8" cy="551.7" r="5.2" fill="url(#gb)"/><circle cx="1052.2" cy="551.3" r="4.6" fill="url(#gm)"/><circle cx="965" cy="585.2" r="5.2" fill="url(#gy)"/><circle cx="1004.9" cy="545.6" r="4.8" fill="url(#gy)"/><circle cx="1008.7" cy="613.1" r="4.9" fill="url(#gb)"/><circle cx="1056.1" cy="466.6" r="5.1" fill="url(#gb)"/><circle cx="1052.1" cy="605.3" r="5" fill="url(#gb)"/><circle cx="990.4" cy="554" r="4.8" fill="url(#gb)"/><circle cx="1002.9" cy="521.7" r="4.6" fill="url(#gr)"/><circle cx="1055.9" cy="522" r="4.9" fill="url(#gm)"/><circle cx="1038.2" cy="525.6" r="4.8" fill="url(#gm)"/><circle cx="1008.7" cy="557.5" r="4.9" fill="url(#gy)"/><circle cx="975.7" cy="565.3" r="4.6" fill="url(#gy)"/><circle cx="1078" cy="545.5" r="5" fill="url(#gm)"/><circle cx="1015.9" cy="551.4" r="4.6" fill="url(#gy)"/><circle cx="1021.3" cy="513.1" r="5.1" fill="url(#gy)"/><circle cx="1037" cy="553.3" r="4.8" fill="url(#gy)"/><circle cx="1062.5" cy="481.2" r="4.7" fill="url(#gy)"/><circle cx="1073.9" cy="592.3" r="4.8" fill="url(#gy)"/><circle cx="1060.6" cy="577.9" r="5.1" fill="url(#gm)"/><circle cx="1027.4" cy="541" r="4.9" fill="url(#gy)"/><circle cx="1062.7" cy="571.2" r="5" fill="url(#gy)"/><circle cx="1074.5" cy="488.2" r="5.2" fill="url(#gb)"/><circle cx="1054.4" cy="545" r="5.2" fill="url(#gy)"/><circle cx="1082.2" cy="514" r="5.1" fill="url(#gm)"/><circle cx="1053.7" cy="508.6" r="4.7" fill="url(#gb)"/><circle cx="1057.7" cy="527.3" r="4.9" fill="url(#gm)"/><circle cx="1079.9" cy="570.8" r="5" fill="url(#gb)"/><circle cx="1033.5" cy="597.2" r="4.6" fill="url(#gy)"/><circle cx="990.9" cy="540.4" r="4.4" fill="url(#gb)"/><circle cx="1035" cy="577.8" r="4.6" fill="url(#gb)"/><circle cx="977.6" cy="515.2" r="4.6" fill="url(#gm)"/><circle cx="1056.4" cy="493.4" r="4.8" fill="url(#gy)"/><circle cx="995.8" cy="534.5" r="5.2" fill="url(#gr)"/><circle cx="1027.4" cy="462.7" r="5.1" fill="url(#gr)"/><circle cx="1102.3" cy="520.7" r="4.9" fill="url(#gy)"/><circle cx="1023.3" cy="553.9" r="4.5" fill="url(#gm)"/><circle cx="1065.8" cy="565.9" r="4.9" fill="url(#gb)"/><circle cx="1058.7" cy="542.1" r="4.5" fill="url(#gm)"/><circle cx="1085.3" cy="560.4" r="4.6" fill="url(#gy)"/><circle cx="1064.8" cy="544.9" r="4.8" fill="url(#gm)"/><circle cx="1022.9" cy="605.2" r="4.9" fill="url(#gy)"/><circle cx="993.3" cy="512" r="5" fill="url(#gy)"/><circle cx="982.4" cy="481.9" r="4.5" fill="url(#gb)"/><circle cx="1061" cy="520.7" r="4.5" fill="url(#gb)"/><circle cx="1072.3" cy="482.2" r="4.7" fill="url(#gb)"/><circle cx="1060.7" cy="560.4" r="4.8" fill="url(#gb)"/><circle cx="963.4" cy="532.1" r="4.7" fill="url(#gy)"/><circle cx="1006.5" cy="607" r="4.7" fill="url(#gb)"/><circle cx="1064.4" cy="534.6" r="4.5" fill="url(#gb)"/><circle cx="1012.6" cy="591.3" r="4.7" fill="url(#gm)"/><circle cx="1071.2" cy="521.7" r="4.7" fill="url(#gr)"/><circle cx="1079.5" cy="528.2" r="4.7" fill="url(#gr)"/><circle cx="1017.8" cy="509.6" r="5.1" fill="url(#gb)"/><circle cx="1094.6" cy="584.1" r="4.9" fill="url(#gb)"/><circle cx="999.7" cy="513.4" r="4.5" fill="url(#gr)"/><circle cx="962.2" cy="579.8" r="4.9" fill="url(#gy)"/><circle cx="986.1" cy="495.7" r="4.8" fill="url(#gr)"/><circle cx="1046.2" cy="587.6" r="4.9" fill="url(#gm)"/><circle cx="957.3" cy="505.3" r="4.7" fill="url(#gm)"/><circle cx="1019.3" cy="535.2" r="4.8" fill="url(#gy)"/><circle cx="1016.8" cy="611.1" r="5.1" fill="url(#gb)"/><circle cx="965.7" cy="557.8" r="5.2" fill="url(#gy)"/><circle cx="1010.5" cy="481.6" r="5" fill="url(#gy)"/><circle cx="1064.4" cy="515.4" r="4.5" fill="url(#gy)"/><circle cx="1005.4" cy="580.8" r="4.6" fill="url(#gm)"/><circle cx="1076.1" cy="564.7" r="5.2" fill="url(#gb)"/><circle cx="1079.3" cy="587.1" r="4.9" fill="url(#gm)"/><circle cx="961.1" cy="513.8" r="4.9" fill="url(#gm)"/><circle cx="1091.6" cy="532.9" r="4.6" fill="url(#gy)"/><circle cx="1083.6" cy="508" r="4.6" fill="url(#gm)"/><circle cx="1039" cy="571.9" r="4.7" fill="url(#gy)"/><circle cx="1076.7" cy="559" r="5" fill="url(#gb)"/><circle cx="1018.4" cy="571.4" r="5.1" fill="url(#gy)"/><circle cx="1076.4" cy="534.3" r="4.7" fill="url(#gy)"/><circle cx="1024.5" cy="599" r="5.1" fill="url(#gy)"/><circle cx="984.7" cy="607" r="5.2" fill="url(#gb)"/><circle cx="1074.1" cy="501.8" r="4.5" fill="url(#gy)"/><circle cx="1043.9" cy="605" r="5.2" fill="url(#gm)"/><circle cx="1031" cy="532.9" r="5.1" fill="url(#gy)"/><circle cx="1003.1" cy="558.1" r="4.5" fill="url(#gm)"/><circle cx="999.8" cy="564" r="4.6" fill="url(#gb)"/><circle cx="967.4" cy="506.4" r="4.7" fill="url(#gm)"/><circle cx="1054.5" cy="612.8" r="4.8" fill="url(#gb)"/><circle cx="1003.7" cy="571.8" r="5.1" fill="url(#gb)"/><circle cx="1022.9" cy="616.4" r="5.2" fill="url(#gm)"/><circle cx="1034.2" cy="469.3" r="4.9" fill="url(#gy)"/><circle cx="1059.1" cy="501.5" r="5.1" fill="url(#gm)"/><circle cx="985.6" cy="572.1" r="4.6" fill="url(#gb)"/><circle cx="1024.8" cy="519" r="4.8" fill="url(#gy)"/><circle cx="982.1" cy="577.9" r="4.5" fill="url(#gy)"/><circle cx="1006.9" cy="475.7" r="4.7" fill="url(#gb)"/><circle cx="1061.2" cy="487.6" r="4.7" fill="url(#gy)"/><circle cx="1060.2" cy="607" r="4.9" fill="url(#gm)"/><circle cx="948.7" cy="552.7" r="4.9" fill="url(#gb)"/><circle cx="1028.5" cy="551.7" r="5.1" fill="url(#gm)"/><circle cx="997.4" cy="538.7" r="4.7" fill="url(#gm)"/><circle cx="1025.7" cy="482.4" r="4.7" fill="url(#gm)"/><circle cx="998.2" cy="487.4" r="4.8" fill="url(#gy)"/><circle cx="1009.7" cy="597.4" r="4.5" fill="url(#gb)"/><circle cx="1079.7" cy="496.5" r="4.9" fill="url(#gy)"/><circle cx="978.3" cy="573.8" r="4.7" fill="url(#gm)"/><circle cx="1064.8" cy="605.4" r="4.7" fill="url(#gm)"/><circle cx="1085.2" cy="587" r="4.5" fill="url(#gb)"/><circle cx="1001.7" cy="612.2" r="4.6" fill="url(#gy)"/><circle cx="1046.2" cy="513.5" r="4.9" fill="url(#gy)"/><circle cx="1038.6" cy="532.5" r="4.8" fill="url(#gb)"/><circle cx="974" cy="558" r="4.7" fill="url(#gy)"/><circle cx="1025.9" cy="573.4" r="4.9" fill="url(#gy)"/><circle cx="1016.1" cy="565.9" r="4.7" fill="url(#gb)"/><circle cx="976.7" cy="605.2" r="4.5" fill="url(#gm)"/><circle cx="1030.8" cy="500.3" r="4.6" fill="url(#gm)"/><circle cx="1031.7" cy="583.5" r="4.4" fill="url(#gm)"/><circle cx="1040.5" cy="598.7" r="5.1" fill="url(#gy)"/><circle cx="1027.4" cy="577.2" r="5" fill="url(#gm)"/><circle cx="1065.5" cy="476.1" r="4.6" fill="url(#gm)"/><circle cx="997.2" cy="611.2" r="4.5" fill="url(#gb)"/><circle cx="1094.8" cy="514.2" r="4.5" fill="url(#gm)"/><circle cx="967.7" cy="486.1" r="4.9" fill="url(#gm)"/><circle cx="1010.7" cy="533" r="4.8" fill="url(#gy)"/><circle cx="1005.1" cy="525.9" r="5" fill="url(#gb)"/><circle cx="1054.4" cy="558.5" r="4.7" fill="url(#gy)"/><circle cx="1016.2" cy="520.6" r="5" fill="url(#gb)"/><circle cx="997.3" cy="468.1" r="5" fill="url(#gy)"/><circle cx="1027.2" cy="508.7" r="5" fill="url(#gb)"/><circle cx="1027.2" cy="609.8" r="5.1" fill="url(#gb)"/><circle cx="1052.9" cy="539.1" r="4.8" fill="url(#gb)"/><circle cx="1008" cy="502.4" r="5" fill="url(#gm)"/><circle cx="968.3" cy="515.6" r="4.5" fill="url(#gb)"/><circle cx="1020.8" cy="527" r="5" fill="url(#gb)"/><circle cx="1024" cy="545.5" r="4.8" fill="url(#gm)"/><circle cx="1039" cy="492.4" r="4.8" fill="url(#gr)"/><circle cx="1072.2" cy="605" r="5.2" fill="url(#gy)"/><circle cx="1012.4" cy="502" r="5" fill="url(#gm)"/><circle cx="1086.2" cy="545.2" r="4.9" fill="url(#gm)"/><circle cx="1022.7" cy="488" r="5" fill="url(#gb)"/><circle cx="1059" cy="563.7" r="4.6" fill="url(#gb)"/><circle cx="989.3" cy="508.6" r="5" fill="url(#gy)"/><circle cx="1053.2" cy="593.2" r="4.4" fill="url(#gm)"/><circle cx="988.6" cy="598.7" r="5.1" fill="url(#gb)"/><circle cx="1041.5" cy="612.1" r="4.8" fill="url(#gm)"/><circle cx="977.7" cy="540.2" r="4.5" fill="url(#gb)"/><circle cx="1039.7" cy="507.7" r="5.2" fill="url(#gy)"/><circle cx="1013.6" cy="475.4" r="4.6" fill="url(#gb)"/><circle cx="1092" cy="520.8" r="5" fill="url(#gy)"/><circle cx="1042.1" cy="470.7" r="4.6" fill="url(#gb)"/><circle cx="1089.6" cy="552.7" r="4.7" fill="url(#gb)"/><circle cx="1034.6" cy="461.4" r="5.2" fill="url(#gm)"/><circle cx="1053.8" cy="572.6" r="4.5" fill="url(#gm)"/><circle cx="985.9" cy="476.6" r="4.9" fill="url(#gb)"/><circle cx="1049.2" cy="613.6" r="4.6" fill="url(#gy)"/><circle cx="990.3" cy="593.8" r="4.5" fill="url(#gy)"/><circle cx="1038.8" cy="522.4" r="4.8" fill="url(#gb)"/><circle cx="968.3" cy="539.3" r="4.8" fill="url(#gy)"/><circle cx="1034.4" cy="493.3" r="5.1" fill="url(#gr)"/><circle cx="1022.8" cy="565.8" r="4.6" fill="url(#gm)"/><circle cx="1000.4" cy="605.1" r="5.1" fill="url(#gb)"/><circle cx="1065.8" cy="539.3" r="4.5" fill="url(#gb)"/><circle cx="1098.8" cy="560" r="4.8" fill="url(#gb)"/><circle cx="1030.5" cy="566.9" r="4.4" fill="url(#gb)"/><circle cx="1044.9" cy="617.6" r="4.5" fill="url(#gb)"/><circle cx="1052.4" cy="487.2" r="4.8" fill="url(#gy)"/><circle cx="1008.5" cy="616.5" r="4.5" fill="url(#gb)"/><circle cx="1036" cy="602.9" r="4.7" fill="url(#gm)"/><circle cx="1021.8" cy="463.7" r="5.1" fill="url(#gm)"/><circle cx="1076" cy="481.8" r="4.8" fill="url(#gy)"/><circle cx="1070.3" cy="547.2" r="4.4" fill="url(#gm)"/><circle cx="1035.3" cy="564" r="5" fill="url(#gy)"/><circle cx="1103.9" cy="551.2" r="5" fill="url(#gm)"/><circle cx="1005.7" cy="551.9" r="5" fill="url(#gr)"/><circle cx="1046.2" cy="538.4" r="5" fill="url(#gr)"/><circle cx="1098.5" cy="579.1" r="4.5" fill="url(#gb)"/><circle cx="997.9" cy="526.6" r="5" fill="url(#gm)"/><circle cx="1098" cy="567.7" r="4.4" fill="url(#gy)"/><circle cx="1012.2" cy="515.3" r="4.5" fill="url(#gr)"/><circle cx="1009.9" cy="493.9" r="5.1" fill="url(#gm)"/><circle cx="1092.3" cy="560.3" r="5.2" fill="url(#gm)"/><circle cx="970.6" cy="544.9" r="4.7" fill="url(#gb)"/><circle cx="1090.1" cy="564.8" r="5.2" fill="url(#gr)"/><circle cx="1082.9" cy="499.2" r="5.1" fill="url(#gb)"/><circle cx="1036.3" cy="502.1" r="5.2" fill="url(#gm)"/><circle cx="978.3" cy="533.6" r="5" fill="url(#gm)"/><circle cx="1031.2" cy="475.5" r="5" fill="url(#gy)"/><circle cx="967.5" cy="593.5" r="4.6" fill="url(#gr)"/><circle cx="1033.4" cy="610.5" r="4.5" fill="url(#gr)"/><circle cx="989.4" cy="564.7" r="4.6" fill="url(#gr)"/><circle cx="957.3" cy="546.9" r="4.8" fill="url(#gy)"/><circle cx="979.4" cy="597.5" r="5.2" fill="url(#gb)"/><circle cx="989.1" cy="522.6" r="4.7" fill="url(#gy)"/><circle cx="994.7" cy="586.1" r="5" fill="url(#gb)"/><circle cx="1037.7" cy="593.8" r="5.1" fill="url(#gm)"/><circle cx="1008.1" cy="591.5" r="4.7" fill="url(#gb)"/><circle cx="1046" cy="520.5" r="5" fill="url(#gy)"/><circle cx="1037.4" cy="473.6" r="5" fill="url(#gm)"/><circle cx="1091" cy="511.9" r="4.7" fill="url(#gm)"/><circle cx="998.4" cy="473.9" r="4.6" fill="url(#gm)"/><circle cx="998" cy="580.4" r="5.1" fill="url(#gy)"/><circle cx="1034.9" cy="479.7" r="4.5" fill="url(#gm)"/><circle cx="963.8" cy="495.2" r="4.7" fill="url(#gb)"/><circle cx="971.9" cy="600.4" r="4.6" fill="url(#gy)"/><circle cx="969.8" cy="501" r="5.1" fill="url(#gr)"/><circle cx="1029.2" cy="618.2" r="4.9" fill="url(#gr)"/><circle cx="1072.2" cy="531.9" r="4.5" fill="url(#gb)"/><circle cx="1049.9" cy="574.3" r="5.2" fill="url(#gr)"/><circle cx="973.1" cy="572.8" r="4.9" fill="url(#gm)"/><circle cx="1034.9" cy="513.5" r="5.1" fill="url(#gb)"/><circle cx="984.2" cy="489.5" r="5.1" fill="url(#gm)"/><circle cx="1033.4" cy="546.2" r="5.1" fill="url(#gm)"/><circle cx="961.9" cy="552.2" r="4.6" fill="url(#gy)"/><circle cx="946.3" cy="538.7" r="4.9" fill="url(#gb)"/><circle cx="1055" cy="587.4" r="4.6" fill="url(#gm)"/><circle cx="986.7" cy="610.7" r="4.9" fill="url(#gb)"/><circle cx="983.6" cy="553.9" r="5" fill="url(#gy)"/><circle cx="990.3" cy="487.6" r="4.4" fill="url(#gy)"/><circle cx="1030" cy="593.3" r="4.8" fill="url(#gy)"/><circle cx="1074.6" cy="540.1" r="4.8" fill="url(#gy)"/><circle cx="975.9" cy="553.4" r="5.1" fill="url(#gb)"/><circle cx="1036.5" cy="619.5" r="5" fill="url(#gm)"/><circle cx="951.9" cy="560.2" r="5" fill="url(#gb)"/><circle cx="974.9" cy="492.8" r="4.4" fill="url(#gb)"/><circle cx="1020.2" cy="538.5" r="4.9" fill="url(#gy)"/><circle cx="1061.6" cy="599.9" r="4.9" fill="url(#gm)"/><circle cx="1049.6" cy="525.8" r="4.9" fill="url(#gb)"/><circle cx="1067.1" cy="486.6" r="4.6" fill="url(#gb)"/><circle cx="1085.4" cy="520.3" r="4.7" fill="url(#gm)"/><circle cx="1045.1" cy="591.3" r="4.7" fill="url(#gm)"/><circle cx="1080.2" cy="553.3" r="4.8" fill="url(#gy)"/><circle cx="1094" cy="508.9" r="4.7" fill="url(#gm)"/><circle cx="961.7" cy="528.4" r="4.4" fill="url(#gr)"/><circle cx="1050.2" cy="566.1" r="5" fill="url(#gm)"/><circle cx="1104.7" cy="528.7" r="4.7" fill="url(#gm)"/><circle cx="982.2" cy="515" r="4.8" fill="url(#gr)"/><circle cx="1078.9" cy="600.5" r="4.6" fill="url(#gy)"/><circle cx="1046.5" cy="467.6" r="4.9" fill="url(#gy)"/><circle cx="1046.8" cy="494.4" r="5" fill="url(#gr)"/><circle cx="960" cy="499.9" r="4.8" fill="url(#gy)"/><circle cx="1068.4" cy="584.4" r="4.7" fill="url(#gy)"/><circle cx="954.3" cy="526.9" r="4.6" fill="url(#gb)"/><circle cx="1072.2" cy="493.3" r="5.1" fill="url(#gb)"/><circle cx="1042.1" cy="586.2" r="4.8" fill="url(#gm)"/><circle cx="987.2" cy="534.1" r="5" fill="url(#gr)"/><circle cx="992.5" cy="604.9" r="5.2" fill="url(#gy)"/><circle cx="1062.2" cy="494.2" r="4.6" fill="url(#gm)"/><circle cx="1030.5" cy="606.5" r="5.1" fill="url(#gm)"/><circle cx="968.3" cy="564.3" r="5.1" fill="url(#gm)"/><circle cx="981.4" cy="561.1" r="4.9" fill="url(#gb)"/><circle cx="1056.8" cy="514.5" r="4.9" fill="url(#gy)"/><circle cx="1027.9" cy="528.2" r="4.7" fill="url(#gb)"/><circle cx="981" cy="547.8" r="4.9" fill="url(#gb)"/><circle cx="1010.6" cy="468.3" r="5.2" fill="url(#gm)"/><circle cx="1071.9" cy="579.4" r="4.6" fill="url(#gm)"/><circle cx="1008.1" cy="584.1" r="4.7" fill="url(#gy)"/><circle cx="1016.5" cy="561.1" r="4.8" fill="url(#gy)"/><circle cx="982.1" cy="564.2" r="4.7" fill="url(#gb)"/><circle cx="987.8" cy="561.4" r="4.4" fill="url(#gb)"/><circle cx="1051.1" cy="515.9" r="4.9" fill="url(#gr)"/><circle cx="1088.4" cy="527.1" r="5.2" fill="url(#gr)"/><circle cx="986.3" cy="482.3" r="4.8" fill="url(#gy)"/><circle cx="1026.6" cy="557.8" r="4.8" fill="url(#gm)"/><circle cx="1079.5" cy="577.1" r="4.5" fill="url(#gy)"/><circle cx="992.1" cy="525.1" r="4.9" fill="url(#gy)"/><circle cx="1072.6" cy="528.6" r="5.2" fill="url(#gb)"/><circle cx="971.9" cy="520.6" r="4.8" fill="url(#gm)"/><circle cx="1032.8" cy="570.7" r="5.2" fill="url(#gy)"/><circle cx="987" cy="546.9" r="4.7" fill="url(#gr)"/><circle cx="1008.5" cy="574.1" r="4.5" fill="url(#gm)"/></g>
<circle cx="239" cy="298" r="75" fill="none" stroke="#1aaa4e" stroke-width="3"/>
<circle cx="447" cy="206" r="74" fill="none" stroke="#1aaa4e" stroke-width="3"/>
<circle cx="714" cy="206" r="75" fill="none" stroke="#1aaa4e" stroke-width="3"/>
<circle cx="1020" cy="204" r="75" fill="none" stroke="#1aaa4e" stroke-width="3"/>
<circle cx="287.4" cy="546" r="76" fill="none" stroke="#f01818" stroke-width="3.2"/>
<circle cx="727" cy="539" r="75.5" fill="none" stroke="#f01818" stroke-width="3.2"/>
<circle cx="1026" cy="541.5" r="75.5" fill="none" stroke="#f01818" stroke-width="3.2"/>
<line x1="227.5" y1="155" x2="362" y2="201.5" stroke="#0db14b" stroke-width="5"/>
<polygon points="372.5,205.5 362.5,195.5 357.5,208" fill="#0db14b"/>
<g font-family="Liberation Serif, Times New Roman, serif" font-size="30" font-weight="bold" fill="#000">
<text x="216.5" y="397.5">0 ps</text>
<text x="413.5" y="326.5">50 ps</text>
<text x="686" y="327">500 ps</text>
<text x="1062" y="327.3">1000 ps</text>
<text x="324.5" y="637">50 ps</text>
<text x="787" y="636.5">500 ps</text>
<text x="1081" y="636.5">1000 ps</text>
</g>
<g stroke-linecap="butt">
<line x1="1413" y1="26" x2="2475.5" y2="26" stroke="#999" stroke-width="1.8"/>
<line x1="2475" y1="26" x2="2475" y2="683" stroke="#888" stroke-width="2"/>
<line x1="1413" y1="25" x2="1413" y2="684" stroke="#555" stroke-width="2.4"/>
<line x1="1412" y1="683.2" x2="2476" y2="683.2" stroke="#111" stroke-width="2.4"/>
<line x1="1413" y1="683.1" x2="1420.5" y2="683.1" stroke="#222" stroke-width="2"/>
<line x1="1413" y1="660.5" x2="1420.5" y2="660.5" stroke="#222" stroke-width="2"/>
<line x1="1413" y1="637.8" x2="1430.5" y2="637.8" stroke="#222" stroke-width="2"/>
<line x1="1413" y1="615.1" x2="1420.5" y2="615.1" stroke="#222" stroke-width="2"/>
<line x1="1413" y1="592.5" x2="1420.5" y2="592.5" stroke="#222" stroke-width="2"/>
<line x1="1413" y1="569.8" x2="1420.5" y2="569.8" stroke="#222" stroke-width="2"/>
<line x1="1413" y1="547.1" x2="1420.5" y2="547.1" stroke="#222" stroke-width="2"/>
<line x1="1413" y1="524.4" x2="1430.5" y2="524.4" stroke="#222" stroke-width="2"/>
<line x1="1413" y1="501.8" x2="1420.5" y2="501.8" stroke="#222" stroke-width="2"/>
<line x1="1413" y1="479.1" x2="1420.5" y2="479.1" stroke="#222" stroke-width="2"/>
<line x1="1413" y1="456.4" x2="1420.5" y2="456.4" stroke="#222" stroke-width="2"/>
<line x1="1413" y1="433.8" x2="1420.5" y2="433.8" stroke="#222" stroke-width="2"/>
<line x1="1413" y1="411.1" x2="1430.5" y2="411.1" stroke="#222" stroke-width="2"/>
<line x1="1413" y1="388.4" x2="1420.5" y2="388.4" stroke="#222" stroke-width="2"/>
<line x1="1413" y1="365.8" x2="1420.5" y2="365.8" stroke="#222" stroke-width="2"/>
<line x1="1413" y1="343.1" x2="1420.5" y2="343.1" stroke="#222" stroke-width="2"/>
<line x1="1413" y1="320.4" x2="1420.5" y2="320.4" stroke="#222" stroke-width="2"/>
<line x1="1413" y1="297.7" x2="1430.5" y2="297.7" stroke="#222" stroke-width="2"/>
<line x1="1413" y1="275.1" x2="1420.5" y2="275.1" stroke="#222" stroke-width="2"/>
<line x1="1413" y1="252.4" x2="1420.5" y2="252.4" stroke="#222" stroke-width="2"/>
<line x1="1413" y1="229.7" x2="1420.5" y2="229.7" stroke="#222" stroke-width="2"/>
<line x1="1413" y1="207.1" x2="1420.5" y2="207.1" stroke="#222" stroke-width="2"/>
<line x1="1413" y1="184.4" x2="1430.5" y2="184.4" stroke="#222" stroke-width="2"/>
<line x1="1413" y1="161.7" x2="1420.5" y2="161.7" stroke="#222" stroke-width="2"/>
<line x1="1413" y1="139.1" x2="1420.5" y2="139.1" stroke="#222" stroke-width="2"/>
<line x1="1413" y1="116.4" x2="1420.5" y2="116.4" stroke="#222" stroke-width="2"/>
<line x1="1413" y1="93.7" x2="1420.5" y2="93.7" stroke="#222" stroke-width="2"/>
<line x1="1413" y1="71" x2="1430.5" y2="71" stroke="#222" stroke-width="2"/>
<line x1="1413" y1="48.4" x2="1420.5" y2="48.4" stroke="#222" stroke-width="2"/>
<line x1="1488.3" y1="666.5" x2="1488.3" y2="683" stroke="#333" stroke-width="2"/>
<line x1="1640.1" y1="666.5" x2="1640.1" y2="683" stroke="#333" stroke-width="2"/>
<line x1="1791.9" y1="666.5" x2="1791.9" y2="683" stroke="#333" stroke-width="2"/>
<line x1="1943.7" y1="666.5" x2="1943.7" y2="683" stroke="#333" stroke-width="2"/>
<line x1="2095.5" y1="666.5" x2="2095.5" y2="683" stroke="#333" stroke-width="2"/>
<line x1="2247.3" y1="666.5" x2="2247.3" y2="683" stroke="#333" stroke-width="2"/>
<line x1="2399.1" y1="666.5" x2="2399.1" y2="683" stroke="#333" stroke-width="2"/>
</g>
<g font-family="Liberation Serif, Times New Roman, serif" font-size="40" fill="#000" text-anchor="end">
<text x="1401.5" y="651.8">0</text>
<text x="1401.5" y="538.4">250</text>
<text x="1401.5" y="425.1">500</text>
<text x="1401.5" y="311.7">750</text>
<text x="1401.5" y="198.4">1000</text>
<text x="1401.5" y="85">1250</text>
</g>
<text transform="translate(1313,352.5) rotate(-90)" text-anchor="middle" font-family="Liberation Serif, Times New Roman, serif" font-size="40.6" font-weight="bold">TotEng/(Kcal/mol)</text>
<text x="1253.5" y="63.5" font-family="Liberation Serif, Times New Roman, serif" font-size="47.5">(b)</text>
<g transform="translate(0,0)" font-family="Liberation Sans, Arial, sans-serif" font-size="13.5" fill="#333"><text x="1467.5" y="537.8" text-anchor="end">H<tspan font-size="9" dy="2.5">2</tspan><tspan dy="-2.5">N</tspan></text><line x1="1468" y1="541" x2="1477.5" y2="556" stroke="#333" stroke-width="1.3"/><text x="1526.9" y="537.8">NO<tspan font-size="9" dy="2.5">2</tspan></text><line x1="1519.4" y1="554.4" x2="1526" y2="541" stroke="#333" stroke-width="1.3"/><text x="1467.5" y="596.9" text-anchor="end">H<tspan font-size="9" dy="2.5">2</tspan><tspan dy="-2.5">N</tspan></text><line x1="1475" y1="570.6" x2="1467.5" y2="583.7" stroke="#333" stroke-width="1.3"/><text x="1526.9" y="596.9">NO<tspan font-size="9" dy="2.5">2</tspan></text><line x1="1519.4" y1="570" x2="1527" y2="583" stroke="#333" stroke-width="1.3"/><text x="1480" y="567.5" text-anchor="middle">C</text><text x="1514.4" y="567.5" text-anchor="middle">C</text><line x1="1487.5" y1="557.3" x2="1506" y2="557.3" stroke="#888" stroke-width="1.2"/><line x1="1487.5" y1="561.5" x2="1506" y2="561.5" stroke="#888" stroke-width="1.2"/></g>
<g transform="translate(135,-80.5)" font-family="Liberation Sans, Arial, sans-serif" font-size="13.5" fill="#333"><text x="1467.5" y="537.8" text-anchor="end">HN</text><line x1="1468" y1="541" x2="1477.5" y2="556" stroke="#333" stroke-width="1.3"/><text x="1526.9" y="537.8">NO<tspan font-size="9" dy="2.5">2</tspan></text><line x1="1519.4" y1="554.4" x2="1526" y2="541" stroke="#333" stroke-width="1.3"/><text x="1467.5" y="596.9" text-anchor="end">H<tspan font-size="9" dy="2.5">2</tspan><tspan dy="-2.5">N</tspan></text><line x1="1475" y1="570.6" x2="1467.5" y2="583.7" stroke="#333" stroke-width="1.3"/><text x="1526.9" y="596.9">NO<tspan font-size="9" dy="2.5">2</tspan></text><line x1="1519.4" y1="570" x2="1527" y2="583" stroke="#333" stroke-width="1.3"/><text x="1480" y="567.5" text-anchor="middle">C</text><text x="1514.4" y="567.5" text-anchor="middle">C</text><line x1="1487.5" y1="557.3" x2="1506" y2="557.3" stroke="#888" stroke-width="1.2"/><line x1="1487.5" y1="561.5" x2="1506" y2="561.5" stroke="#888" stroke-width="1.2"/></g>
<g transform="translate(283,-161)" font-family="Liberation Sans, Arial, sans-serif" font-size="13.5" fill="#333"><text x="1526.9" y="537.8">NO<tspan font-size="9" dy="2.5">2</tspan></text><line x1="1519.4" y1="554.4" x2="1526" y2="541" stroke="#333" stroke-width="1.3"/><text x="1467.5" y="596.9" text-anchor="end">H<tspan font-size="9" dy="2.5">2</tspan><tspan dy="-2.5">N</tspan></text><line x1="1475" y1="570.6" x2="1467.5" y2="583.7" stroke="#333" stroke-width="1.3"/><text x="1526.9" y="596.9">NO<tspan font-size="9" dy="2.5">2</tspan></text><line x1="1519.4" y1="570" x2="1527" y2="583" stroke="#333" stroke-width="1.3"/><text x="1480" y="567.5" text-anchor="middle">C</text><text x="1514.4" y="567.5" text-anchor="middle">C</text><line x1="1487.5" y1="557.3" x2="1506" y2="557.3" stroke="#888" stroke-width="1.2"/><line x1="1487.5" y1="561.5" x2="1506" y2="561.5" stroke="#888" stroke-width="1.2"/></g>
<g transform="translate(545,-277)" font-family="Liberation Sans, Arial, sans-serif" font-size="13.5" fill="#222"><text x="1526.9" y="537.8">NO<tspan font-size="9" dy="2.5">2</tspan></text><line x1="1519.4" y1="554.4" x2="1526" y2="541" stroke="#222" stroke-width="1.3"/><text x="1467.5" y="596.9" text-anchor="end">H<tspan font-size="9" dy="2.5">2</tspan><tspan dy="-2.5">N</tspan></text><line x1="1475" y1="570.6" x2="1467.5" y2="583.7" stroke="#222" stroke-width="1.3"/><text x="1480" y="567.5" text-anchor="middle">C</text><text x="1514.4" y="567.5" text-anchor="middle">C</text><line x1="1487.5" y1="557.3" x2="1506" y2="557.3" stroke="#222" stroke-width="1.2"/><line x1="1487.5" y1="561.5" x2="1506" y2="561.5" stroke="#222" stroke-width="1.2"/></g>
<g transform="translate(572,-29.8)" font-family="Liberation Sans, Arial, sans-serif" font-size="13.5" fill="#222"><text x="1467.5" y="537.8" text-anchor="end">H<tspan font-size="9" dy="2.5">2</tspan><tspan dy="-2.5">N</tspan></text><line x1="1468" y1="541" x2="1477.5" y2="556" stroke="#222" stroke-width="1.3"/><text x="1526.9" y="537.8">NO<tspan font-size="9" dy="2.5">2</tspan></text><line x1="1519.4" y1="554.4" x2="1526" y2="541" stroke="#222" stroke-width="1.3"/><text x="1467.5" y="596.9" text-anchor="end">H<tspan font-size="9" dy="2.5">2</tspan><tspan dy="-2.5">N</tspan></text><line x1="1475" y1="570.6" x2="1467.5" y2="583.7" stroke="#222" stroke-width="1.3"/><text x="1480" y="567.5" text-anchor="middle">C</text><text x="1514.4" y="567.5" text-anchor="middle">C</text><line x1="1487.5" y1="557.3" x2="1506" y2="557.3" stroke="#222" stroke-width="1.2"/><line x1="1487.5" y1="561.5" x2="1506" y2="561.5" stroke="#222" stroke-width="1.2"/></g>
<polyline points="1488.3,637.8 1640.1,608.3 1791.9,602.9 1943.7,601.5 2095.5,594.7 2247.3,581.1 2399.1,587.9" fill="none" stroke="#007800" stroke-width="5.0" stroke-dasharray="28.5 5.9"/>
<polyline points="1488.3,637.8 1640.1,610.6 1791.9,539.4 1943.7,505.4 2095.5,408.4 2247.3,133.2 2399.1,153.6" fill="none" stroke="#2878be" stroke-width="5.0" stroke-dasharray="11.8 5.3"/>
<polyline points="1488.3,637.8 1640.1,582 1791.9,502.7 1943.7,470 2095.5,365.8 2247.3,76.9 2399.1,104.1" fill="none" stroke="#e41414" stroke-width="5.0" stroke-dasharray="11.8 5.3"/>
<polygon points="1496.4,637.8 1504.6,646 1496.5,654.1 1488.3,645.9 1480.1,654.1 1472,646 1480.2,637.8 1472,629.6 1480.1,621.5 1488.3,629.7 1496.5,621.5 1504.6,629.6" fill="#007a00" stroke="#111" stroke-width="1.4"/>
<polygon points="1648.2,608.3 1656.4,616.5 1648.3,624.6 1640.1,616.4 1631.9,624.6 1623.8,616.5 1632,608.3 1623.8,600.1 1631.9,592 1640.1,600.2 1648.3,592 1656.4,600.1" fill="#007a00" stroke="#111" stroke-width="1.4"/>
<polygon points="1800,602.9 1808.2,611.1 1800.1,619.2 1791.9,611 1783.7,619.2 1775.6,611.1 1783.8,602.9 1775.6,594.7 1783.7,586.6 1791.9,594.8 1800.1,586.6 1808.2,594.7" fill="#007a00" stroke="#111" stroke-width="1.4"/>
<polygon points="1951.8,601.5 1960,609.7 1951.9,617.8 1943.7,609.6 1935.5,617.8 1927.4,609.7 1935.6,601.5 1927.4,593.3 1935.5,585.2 1943.7,593.4 1951.9,585.2 1960,593.3" fill="#007a00" stroke="#111" stroke-width="1.4"/>
<polygon points="2103.6,594.7 2111.8,602.9 2103.7,611 2095.5,602.8 2087.3,611 2079.2,602.9 2087.4,594.7 2079.2,586.5 2087.3,578.4 2095.5,586.6 2103.7,578.4 2111.8,586.5" fill="#007a00" stroke="#111" stroke-width="1.4"/>
<polygon points="2255.4,581.1 2263.6,589.3 2255.5,597.4 2247.3,589.2 2239.1,597.4 2231,589.3 2239.2,581.1 2231,572.9 2239.1,564.8 2247.3,573 2255.5,564.8 2263.6,572.9" fill="#007a00" stroke="#111" stroke-width="1.4"/>
<polygon points="2407.2,587.9 2415.4,596.1 2407.3,604.2 2399.1,596 2390.9,604.2 2382.8,596.1 2391,587.9 2382.8,579.7 2390.9,571.6 2399.1,579.8 2407.3,571.6 2415.4,579.7" fill="#007a00" stroke="#111" stroke-width="1.4"/>
<circle cx="1488.3" cy="637.8" r="14.6" fill="#3a7ebf" stroke="#111" stroke-width="1.4"/>
<circle cx="1640.1" cy="610.6" r="14.6" fill="#3a7ebf" stroke="#111" stroke-width="1.4"/>
<circle cx="1791.9" cy="539.4" r="14.6" fill="#3a7ebf" stroke="#111" stroke-width="1.4"/>
<circle cx="1943.7" cy="505.4" r="14.6" fill="#3a7ebf" stroke="#111" stroke-width="1.4"/>
<circle cx="2095.5" cy="408.4" r="14.6" fill="#3a7ebf" stroke="#111" stroke-width="1.4"/>
<circle cx="2247.3" cy="133.2" r="14.6" fill="#3a7ebf" stroke="#111" stroke-width="1.4"/>
<circle cx="2399.1" cy="153.6" r="14.6" fill="#3a7ebf" stroke="#111" stroke-width="1.4"/>
<polygon points="1488.3,655.4 1484.1,643.5 1471.6,643.2 1481.5,635.6 1478,623.6 1488.3,630.7 1498.6,623.6 1495.1,635.6 1505,643.2 1492.5,643.5" fill="#e8191e" stroke="#111" stroke-width="1.4" stroke-linejoin="miter"/>
<polygon points="1640.1,599.6 1635.9,587.8 1623.4,587.5 1633.3,579.8 1629.8,567.8 1640.1,574.9 1650.4,567.8 1646.9,579.8 1656.8,587.5 1644.3,587.8" fill="#e8191e" stroke="#111" stroke-width="1.4" stroke-linejoin="miter"/>
<polygon points="1791.9,520.3 1787.7,508.4 1775.2,508.1 1785.1,500.5 1781.6,488.4 1791.9,495.6 1802.2,488.4 1798.7,500.5 1808.6,508.1 1796.1,508.4" fill="#e8191e" stroke="#111" stroke-width="1.4" stroke-linejoin="miter"/>
<polygon points="1943.7,487.6 1939.5,475.8 1927,475.5 1936.9,467.8 1933.4,455.8 1943.7,462.9 1954,455.8 1950.5,467.8 1960.4,475.5 1947.9,475.8" fill="#e8191e" stroke="#111" stroke-width="1.4" stroke-linejoin="miter"/>
<polygon points="2095.5,383.4 2091.3,371.5 2078.8,371.2 2088.7,363.6 2085.2,351.5 2095.5,358.7 2105.8,351.5 2102.3,363.6 2112.2,371.2 2099.7,371.5" fill="#e8191e" stroke="#111" stroke-width="1.4" stroke-linejoin="miter"/>
<polygon points="2247.3,94.5 2243.1,82.7 2230.6,82.4 2240.5,74.8 2237,62.7 2247.3,69.8 2257.6,62.7 2254.1,74.8 2264,82.4 2251.5,82.7" fill="#e8191e" stroke="#111" stroke-width="1.4" stroke-linejoin="miter"/>
<polygon points="2399.1,121.7 2394.9,109.9 2382.4,109.6 2392.3,102 2388.8,89.9 2399.1,97 2409.4,89.9 2405.9,102 2415.8,109.6 2403.3,109.9" fill="#e8191e" stroke="#111" stroke-width="1.4" stroke-linejoin="miter"/>
<g font-family="Liberation Serif, Times New Roman, serif" font-size="25.5" fill="#111">
<text x="2243.5" y="190" textLength="37" lengthAdjust="spacingAndGlyphs">NH</text><text x="2282" y="196" font-size="15">2</text>
<text x="2383.5" y="211.8" textLength="37" lengthAdjust="spacingAndGlyphs">NO</text><text x="2421.5" y="217.8" font-size="15">2</text>
</g>
<rect x="1457.5" y="71.2" width="386.8" height="178.8" fill="#fff" stroke="#111" stroke-width="2"/>
<line x1="1502.7" y1="116" x2="1580" y2="116" stroke="#e41414" stroke-width="5.8" stroke-dasharray="10.5 6"/>
<line x1="1502.7" y1="160.8" x2="1580" y2="160.8" stroke="#2878be" stroke-width="5.8" stroke-dasharray="10.5 6"/>
<line x1="1502.7" y1="205.4" x2="1583.6" y2="205.4" stroke="#007800" stroke-width="5.4" stroke-dasharray="24 6"/>
<polygon points="1542.6,134.6 1538.4,122.7 1525.9,122.4 1535.8,114.8 1532.3,102.8 1542.6,109.9 1552.9,102.8 1549.4,114.8 1559.3,122.4 1546.8,122.7" fill="#e8191e" stroke="#111" stroke-width="1.4" stroke-linejoin="miter"/>
<circle cx="1542.6" cy="160.8" r="14.6" fill="#3a7ebf" stroke="#111" stroke-width="1.4"/>
<polygon points="1550.7,205.4 1558.9,213.6 1550.8,221.7 1542.6,213.5 1534.4,221.7 1526.3,213.6 1534.5,205.4 1526.3,197.2 1534.4,189.1 1542.6,197.3 1550.8,189.1 1558.9,197.2" fill="#007a00" stroke="#111" stroke-width="1.4"/>
<g font-family="Liberation Serif, Times New Roman, serif" font-size="39.5" fill="#000">
<text x="1629" y="129.8">ReaxFF-F</text>
<text x="1629" y="174.6">ReaxFF-lg</text>
<text x="1629" y="217.8">error</text>
</g>
</g>
</svg></body></html>
